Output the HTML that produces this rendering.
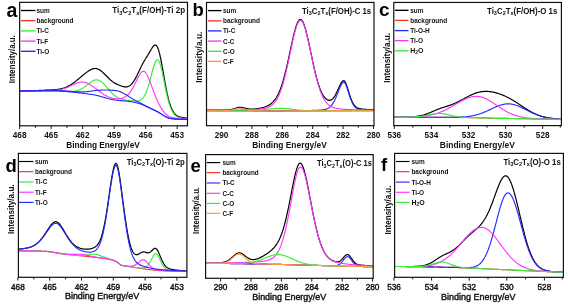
<!DOCTYPE html>
<html><head><meta charset="utf-8"><style>
html,body{margin:0;padding:0;background:#fff;}
svg{display:block;font-family:"Liberation Sans", sans-serif;will-change:transform;}
</style></head><body>
<svg width="568" height="306" viewBox="0 0 568 306">
<rect width="568" height="306" fill="#fff"/>
<defs>
<clipPath id="clipa"><rect x="19.65" y="2.35" width="167.85" height="123.45"/></clipPath>
<clipPath id="clipb"><rect x="206.50" y="2.45" width="167.50" height="123.25"/></clipPath>
<clipPath id="clipc"><rect x="393.75" y="2.45" width="167.65" height="123.15"/></clipPath>
<clipPath id="clipd"><rect x="18.40" y="153.40" width="168.50" height="123.90"/></clipPath>
<clipPath id="clipe"><rect x="205.60" y="154.60" width="167.60" height="123.70"/></clipPath>
<clipPath id="clipf"><rect x="394.60" y="153.40" width="168.80" height="123.90"/></clipPath>
</defs>
<g clip-path="url(#clipa)">
<polyline points="20.2,90.9 20.8,90.9 21.2,90.8 21.8,90.8 22.2,90.8 22.8,90.8 23.2,90.8 23.8,90.8 24.2,90.8 24.8,90.8 25.2,90.8 25.8,90.8 26.2,90.7 26.8,90.7 27.2,90.7 27.8,90.7 28.2,90.7 28.8,90.7 29.2,90.7 29.8,90.7 30.2,90.7 30.8,90.7 31.2,90.6 31.8,90.6 32.2,90.6 32.8,90.6 33.2,90.6 33.8,90.6 34.2,90.6 34.8,90.6 35.2,90.6 35.8,90.5 36.2,90.5 36.8,90.5 37.2,90.5 37.8,90.5 38.2,90.5 38.8,90.5 39.2,90.4 39.8,90.4 40.2,90.4 40.8,90.4 41.2,90.4 41.8,90.4 42.2,90.4 42.8,90.3 43.2,90.3 43.8,90.3 44.2,90.3 44.8,90.3 45.2,90.2 45.8,90.2 46.2,90.2 46.8,90.2 47.2,90.2 47.8,90.1 48.2,90.1 48.8,90.1 49.2,90.1 49.8,90.0 50.2,90.0 50.8,90.0 51.2,89.9 51.8,89.9 52.2,89.9 52.8,89.8 53.2,89.8 53.8,89.8 54.2,89.7 54.8,89.7 55.2,89.6 55.8,89.6 56.2,89.5 56.8,89.5 57.2,89.4 57.8,89.4 58.2,89.3 58.8,89.2 59.2,89.1 59.8,89.0 60.2,88.9 60.8,88.8 61.2,88.7 61.8,88.6 62.2,88.5 62.8,88.3 63.2,88.2 63.8,88.0 64.2,87.9 64.8,87.7 65.2,87.5 65.8,87.3 66.2,87.1 66.8,86.9 67.2,86.7 67.8,86.4 68.2,86.2 68.8,85.9 69.2,85.6 69.8,85.3 70.2,85.1 70.8,84.7 71.2,84.4 71.8,84.1 72.2,83.8 72.8,83.4 73.2,83.1 73.8,82.7 74.2,82.4 74.8,82.0 75.2,81.6 75.8,81.2 76.2,80.8 76.8,80.4 77.2,80.0 77.8,79.6 78.2,79.2 78.8,78.8 79.2,78.4 79.8,77.9 80.2,77.5 80.8,77.1 81.2,76.7 81.8,76.3 82.2,75.8 82.8,75.4 83.2,75.0 83.8,74.6 84.2,74.2 84.8,73.7 85.2,73.3 85.8,72.9 86.2,72.6 86.8,72.2 87.2,71.8 87.8,71.5 88.2,71.1 88.8,70.8 89.2,70.5 89.8,70.2 90.2,69.9 90.8,69.6 91.2,69.4 91.8,69.2 92.2,69.0 92.8,68.8 93.2,68.7 93.8,68.6 94.2,68.5 94.8,68.5 95.2,68.5 95.8,68.5 96.2,68.6 96.8,68.7 97.2,68.8 97.8,69.0 98.2,69.2 98.8,69.5 99.2,69.7 99.8,70.0 100.2,70.4 100.8,70.7 101.2,71.1 101.8,71.5 102.2,71.9 102.8,72.4 103.2,72.8 103.8,73.3 104.2,73.8 104.8,74.3 105.2,74.8 105.8,75.3 106.2,75.8 106.8,76.3 107.2,76.8 107.8,77.3 108.2,77.8 108.8,78.3 109.2,78.8 109.8,79.3 110.2,79.7 110.8,80.2 111.2,80.6 111.8,81.0 112.2,81.4 112.8,81.8 113.2,82.1 113.8,82.5 114.2,82.8 114.8,83.1 115.2,83.4 115.8,83.6 116.2,83.9 116.8,84.1 117.2,84.3 117.8,84.6 118.2,84.8 118.8,85.0 119.2,85.2 119.8,85.4 120.2,85.6 120.8,85.8 121.2,86.0 121.8,86.2 122.2,86.3 122.8,86.5 123.2,86.6 123.8,86.7 124.2,86.8 124.8,86.9 125.2,86.9 125.8,86.9 126.2,86.9 126.8,86.9 127.2,86.8 127.8,86.6 128.2,86.5 128.8,86.2 129.2,86.0 129.8,85.7 130.2,85.3 130.8,84.9 131.2,84.4 131.8,83.9 132.2,83.3 132.8,82.7 133.2,82.0 133.8,81.3 134.2,80.5 134.8,79.7 135.2,78.8 135.8,77.9 136.2,76.9 136.8,76.0 137.2,74.9 137.8,73.9 138.2,72.9 138.8,71.8 139.2,70.7 139.8,69.6 140.2,68.6 140.8,67.5 141.2,66.5 141.8,65.5 142.2,64.5 142.8,63.6 143.2,62.6 143.8,61.8 144.2,60.9 144.8,60.1 145.2,59.3 145.8,58.5 146.2,57.7 146.8,56.9 147.2,56.1 147.8,55.3 148.2,54.4 148.8,53.6 149.2,52.7 149.8,51.9 150.2,51.0 150.8,50.1 151.2,49.3 151.8,48.5 152.2,47.7 152.8,47.0 153.2,46.3 153.8,45.8 154.2,45.4 154.8,45.1 155.2,45.1 155.8,45.1 156.2,45.5 156.8,46.0 157.2,46.8 157.8,47.8 158.2,49.1 158.8,50.6 159.2,52.4 159.8,54.4 160.2,56.6 160.8,58.9 161.2,61.5 161.8,64.1 162.2,66.9 162.8,69.7 163.2,72.6 163.8,75.4 164.2,78.3 164.8,81.1 165.2,83.8 165.8,86.5 166.2,89.1 166.8,91.6 167.2,93.9 167.8,96.1 168.2,98.2 168.8,100.2 169.2,102.0 169.8,103.6 170.2,105.1 170.8,106.5 171.2,107.8 171.8,108.9 172.2,109.9 172.8,110.9 173.2,111.7 173.8,112.5 174.2,113.2 174.8,113.8 175.2,114.3 175.8,114.8 176.2,115.2 176.8,115.5 177.2,115.8 177.8,116.1 178.2,116.3 178.8,116.5 179.2,116.7 179.8,116.9 180.2,117.0 180.8,117.1 181.2,117.3 181.8,117.4 182.2,117.4 182.8,117.5 183.2,117.6 183.8,117.7 184.2,117.7 184.8,117.8 185.2,117.8 185.8,117.9 186.2,117.9 186.8,118.0" fill="none" stroke="#000000" stroke-width="1.20" stroke-linejoin="round"/>
<polyline points="20.2,90.9 20.8,90.9 21.2,90.9 21.8,90.9 22.2,90.9 22.8,90.9 23.2,90.9 23.8,90.9 24.2,90.9 24.8,90.9 25.2,90.9 25.8,90.9 26.2,90.9 26.8,90.8 27.2,90.8 27.8,90.8 28.2,90.8 28.8,90.8 29.2,90.8 29.8,90.8 30.2,90.8 30.8,90.8 31.2,90.8 31.8,90.8 32.2,90.8 32.8,90.8 33.2,90.8 33.8,90.8 34.2,90.8 34.8,90.8 35.2,90.8 35.8,90.8 36.2,90.8 36.8,90.8 37.2,90.8 37.8,90.8 38.2,90.8 38.8,90.8 39.2,90.8 39.8,90.8 40.2,90.8 40.8,90.8 41.2,90.8 41.8,90.8 42.2,90.8 42.8,90.7 43.2,90.7 43.8,90.7 44.2,90.7 44.8,90.7 45.2,90.7 45.8,90.7 46.2,90.7 46.8,90.7 47.2,90.7 47.8,90.7 48.2,90.7 48.8,90.7 49.2,90.7 49.8,90.7 50.2,90.7 50.8,90.7 51.2,90.7 51.8,90.7 52.2,90.8 52.8,90.8 53.2,90.8 53.8,90.8 54.2,90.8 54.8,90.8 55.2,90.8 55.8,90.8 56.2,90.8 56.8,90.9 57.2,90.9 57.8,90.9 58.2,90.9 58.8,90.9 59.2,91.0 59.8,91.0 60.2,91.0 60.8,91.0 61.2,91.1 61.8,91.1 62.2,91.1 62.8,91.1 63.2,91.2 63.8,91.2 64.2,91.2 64.8,91.2 65.2,91.3 65.8,91.3 66.2,91.3 66.8,91.3 67.2,91.3 67.8,91.4 68.2,91.4 68.8,91.4 69.2,91.4 69.8,91.4 70.2,91.4 70.8,91.4 71.2,91.4 71.8,91.4 72.2,91.3 72.8,91.3 73.2,91.3 73.8,91.2 74.2,91.2 74.8,91.1 75.2,91.0 75.8,90.9 76.2,90.8 76.8,90.7 77.2,90.6 77.8,90.4 78.2,90.2 78.8,90.1 79.2,89.9 79.8,89.7 80.2,89.5 80.8,89.2 81.2,89.0 81.8,88.7 82.2,88.4 82.8,88.1 83.2,87.8 83.8,87.4 84.2,87.1 84.8,86.7 85.2,86.4 85.8,86.0 86.2,85.6 86.8,85.2 87.2,84.8 87.8,84.4 88.2,84.0 88.8,83.7 89.2,83.3 89.8,82.9 90.2,82.5 90.8,82.1 91.2,81.8 91.8,81.5 92.2,81.2 92.8,80.9 93.2,80.6 93.8,80.4 94.2,80.2 94.8,80.1 95.2,79.9 95.8,79.9 96.2,79.8 96.8,79.8 97.2,79.9 97.8,80.0 98.2,80.1 98.8,80.2 99.2,80.5 99.8,80.7 100.2,81.0 100.8,81.3 101.2,81.6 101.8,82.0 102.2,82.4 102.8,82.9 103.2,83.4 103.8,83.9 104.2,84.4 104.8,84.9 105.2,85.5 105.8,86.0 106.2,86.6 106.8,87.2 107.2,87.8 107.8,88.4 108.2,89.0 108.8,89.5 109.2,90.1 109.8,90.7 110.2,91.3 110.8,91.8 111.2,92.3 111.8,92.9 112.2,93.4 112.8,93.9 113.2,94.3 113.8,94.8 114.2,95.2 114.8,95.6 115.2,96.0 115.8,96.3 116.2,96.6 116.8,97.0 117.2,97.3 117.8,97.5 118.2,97.8 118.8,98.0 119.2,98.2 119.8,98.5 120.2,98.6 120.8,98.8 121.2,99.0 121.8,99.1 122.2,99.3 122.8,99.4 123.2,99.5 123.8,99.6 124.2,99.7 124.8,99.8 125.2,99.9 125.8,100.0 126.2,100.1 126.8,100.1 127.2,100.2 127.8,100.3 128.2,100.3 128.8,100.4 129.2,100.4 129.8,100.5 130.2,100.6 130.8,100.6 131.2,100.7 131.8,100.7 132.2,100.8 132.8,100.8 133.2,100.9 133.8,100.9 134.2,101.0 134.8,101.0 135.2,101.0 135.8,101.0 136.2,101.0 136.8,101.0 137.2,101.0 137.8,100.9 138.2,100.9 138.8,100.8 139.2,100.6 139.8,100.4 140.2,100.2 140.8,99.9 141.2,99.6 141.8,99.2 142.2,98.8 142.8,98.3 143.2,97.7 143.8,97.0 144.2,96.2 144.8,95.4 145.2,94.4 145.8,93.4 146.2,92.2 146.8,90.9 147.2,89.5 147.8,88.0 148.2,86.4 148.8,84.8 149.2,83.0 149.8,81.2 150.2,79.3 150.8,77.4 151.2,75.4 151.8,73.5 152.2,71.6 152.8,69.8 153.2,68.0 153.8,66.3 154.2,64.8 154.8,63.4 155.2,62.2 155.8,61.2 156.2,60.5 156.8,60.0 157.2,59.8 157.8,59.9 158.2,60.2 158.8,60.9 159.2,61.9 159.8,63.1 160.2,64.6 160.8,66.3 161.2,68.2 161.8,70.3 162.2,72.5 162.8,74.8 163.2,77.3 163.8,79.7 164.2,82.2 164.8,84.7 165.2,87.1 165.8,89.5 166.2,91.9 166.8,94.1 167.2,96.3 167.8,98.3 168.2,100.3 168.8,102.1 169.2,103.7 169.8,105.3 170.2,106.7 170.8,108.0 171.2,109.2 171.8,110.2 172.2,111.2 172.8,112.1 173.2,112.9 173.8,113.6 174.2,114.2 174.8,114.8 175.2,115.3 175.8,115.7 176.2,116.1 176.8,116.4 177.2,116.7 177.8,117.0 178.2,117.2 178.8,117.3 179.2,117.5 179.8,117.6 180.2,117.8 180.8,117.9 181.2,118.0 181.8,118.0 182.2,118.1 182.8,118.2 183.2,118.2 183.8,118.3 184.2,118.3 184.8,118.4 185.2,118.4 185.8,118.4 186.2,118.5 186.8,118.5" fill="none" stroke="#33ee33" stroke-width="1.15" stroke-linejoin="round"/>
<polyline points="20.2,90.9 20.8,90.9 21.2,90.9 21.8,90.9 22.2,90.9 22.8,90.9 23.2,90.9 23.8,90.9 24.2,90.8 24.8,90.8 25.2,90.8 25.8,90.8 26.2,90.8 26.8,90.8 27.2,90.8 27.8,90.8 28.2,90.8 28.8,90.8 29.2,90.8 29.8,90.8 30.2,90.8 30.8,90.8 31.2,90.8 31.8,90.8 32.2,90.8 32.8,90.8 33.2,90.7 33.8,90.7 34.2,90.7 34.8,90.7 35.2,90.7 35.8,90.7 36.2,90.7 36.8,90.7 37.2,90.7 37.8,90.7 38.2,90.7 38.8,90.7 39.2,90.7 39.8,90.7 40.2,90.7 40.8,90.7 41.2,90.7 41.8,90.7 42.2,90.7 42.8,90.7 43.2,90.7 43.8,90.7 44.2,90.7 44.8,90.7 45.2,90.7 45.8,90.6 46.2,90.6 46.8,90.6 47.2,90.6 47.8,90.6 48.2,90.6 48.8,90.6 49.2,90.6 49.8,90.5 50.2,90.5 50.8,90.5 51.2,90.5 51.8,90.5 52.2,90.4 52.8,90.4 53.2,90.4 53.8,90.3 54.2,90.3 54.8,90.3 55.2,90.2 55.8,90.2 56.2,90.1 56.8,90.1 57.2,90.0 57.8,90.0 58.2,89.9 58.8,89.8 59.2,89.7 59.8,89.6 60.2,89.5 60.8,89.4 61.2,89.3 61.8,89.2 62.2,89.1 62.8,89.0 63.2,88.8 63.8,88.7 64.2,88.5 64.8,88.3 65.2,88.2 65.8,88.0 66.2,87.8 66.8,87.6 67.2,87.4 67.8,87.2 68.2,87.0 68.8,86.7 69.2,86.5 69.8,86.3 70.2,86.0 70.8,85.8 71.2,85.6 71.8,85.3 72.2,85.1 72.8,84.8 73.2,84.6 73.8,84.4 74.2,84.1 74.8,83.9 75.2,83.7 75.8,83.5 76.2,83.3 76.8,83.1 77.2,82.9 77.8,82.7 78.2,82.6 78.8,82.5 79.2,82.3 79.8,82.2 80.2,82.2 80.8,82.1 81.2,82.1 81.8,82.0 82.2,82.0 82.8,82.0 83.2,82.1 83.8,82.1 84.2,82.2 84.8,82.3 85.2,82.4 85.8,82.6 86.2,82.8 86.8,82.9 87.2,83.1 87.8,83.4 88.2,83.6 88.8,83.8 89.2,84.1 89.8,84.4 90.2,84.7 90.8,85.0 91.2,85.3 91.8,85.6 92.2,85.9 92.8,86.3 93.2,86.6 93.8,87.0 94.2,87.4 94.8,87.8 95.2,88.2 95.8,88.5 96.2,88.9 96.8,89.3 97.2,89.7 97.8,90.1 98.2,90.5 98.8,90.9 99.2,91.3 99.8,91.7 100.2,92.0 100.8,92.4 101.2,92.8 101.8,93.1 102.2,93.4 102.8,93.8 103.2,94.1 103.8,94.4 104.2,94.7 104.8,95.0 105.2,95.3 105.8,95.6 106.2,95.8 106.8,96.1 107.2,96.3 107.8,96.6 108.2,96.8 108.8,97.0 109.2,97.2 109.8,97.4 110.2,97.5 110.8,97.7 111.2,97.9 111.8,98.0 112.2,98.1 112.8,98.2 113.2,98.3 113.8,98.4 114.2,98.5 114.8,98.6 115.2,98.6 115.8,98.7 116.2,98.7 116.8,98.7 117.2,98.7 117.8,98.7 118.2,98.7 118.8,98.7 119.2,98.7 119.8,98.6 120.2,98.5 120.8,98.4 121.2,98.3 121.8,98.2 122.2,98.1 122.8,97.9 123.2,97.7 123.8,97.5 124.2,97.3 124.8,97.0 125.2,96.8 125.8,96.4 126.2,96.1 126.8,95.7 127.2,95.3 127.8,94.8 128.2,94.3 128.8,93.8 129.2,93.2 129.8,92.6 130.2,91.9 130.8,91.2 131.2,90.4 131.8,89.7 132.2,88.8 132.8,88.0 133.2,87.1 133.8,86.1 134.2,85.2 134.8,84.2 135.2,83.2 135.8,82.2 136.2,81.1 136.8,80.1 137.2,79.1 137.8,78.1 138.2,77.1 138.8,76.2 139.2,75.3 139.8,74.5 140.2,73.7 140.8,73.0 141.2,72.4 141.8,72.0 142.2,71.6 142.8,71.4 143.2,71.3 143.8,71.3 144.2,71.5 144.8,71.8 145.2,72.2 145.8,72.8 146.2,73.5 146.8,74.3 147.2,75.2 147.8,76.2 148.2,77.3 148.8,78.5 149.2,79.7 149.8,81.0 150.2,82.3 150.8,83.6 151.2,85.0 151.8,86.4 152.2,87.8 152.8,89.2 153.2,90.6 153.8,91.9 154.2,93.2 154.8,94.6 155.2,95.8 155.8,97.1 156.2,98.3 156.8,99.4 157.2,100.5 157.8,101.6 158.2,102.6 158.8,103.6 159.2,104.6 159.8,105.5 160.2,106.4 160.8,107.3 161.2,108.1 161.8,108.9 162.2,109.7 162.8,110.4 163.2,111.1 163.8,111.8 164.2,112.4 164.8,113.0 165.2,113.5 165.8,114.0 166.2,114.5 166.8,114.9 167.2,115.3 167.8,115.7 168.2,116.0 168.8,116.3 169.2,116.5 169.8,116.7 170.2,116.9 170.8,117.1 171.2,117.2 171.8,117.4 172.2,117.5 172.8,117.6 173.2,117.7 173.8,117.8 174.2,117.9 174.8,118.0 175.2,118.1 175.8,118.1 176.2,118.2 176.8,118.3 177.2,118.3 177.8,118.4 178.2,118.4 178.8,118.4 179.2,118.5 179.8,118.5 180.2,118.5 180.8,118.5 181.2,118.6 181.8,118.6 182.2,118.6 182.8,118.6 183.2,118.6 183.8,118.7 184.2,118.7 184.8,118.7 185.2,118.7 185.8,118.7 186.2,118.8 186.8,118.8" fill="none" stroke="#ff33ff" stroke-width="1.15" stroke-linejoin="round"/>
<polyline points="20.2,91.0 20.8,91.0 21.2,91.0 21.8,90.9 22.2,90.9 22.8,90.9 23.2,90.9 23.8,90.9 24.2,90.9 24.8,90.9 25.2,90.9 25.8,90.9 26.2,90.9 26.8,90.9 27.2,90.8 27.8,90.8 28.2,90.8 28.8,90.8 29.2,90.8 29.8,90.8 30.2,90.8 30.8,90.8 31.2,90.8 31.8,90.8 32.2,90.8 32.8,90.7 33.2,90.7 33.8,90.7 34.2,90.7 34.8,90.7 35.2,90.7 35.8,90.7 36.2,90.7 36.8,90.7 37.2,90.6 37.8,90.6 38.2,90.6 38.8,90.6 39.2,90.6 39.8,90.6 40.2,90.6 40.8,90.6 41.2,90.5 41.8,90.5 42.2,90.5 42.8,90.5 43.2,90.5 43.8,90.5 44.2,90.5 44.8,90.5 45.2,90.4 45.8,90.4 46.2,90.4 46.8,90.4 47.2,90.4 47.8,90.4 48.2,90.4 48.8,90.4 49.2,90.4 49.8,90.4 50.2,90.3 50.8,90.3 51.2,90.3 51.8,90.3 52.2,90.3 52.8,90.3 53.2,90.3 53.8,90.3 54.2,90.3 54.8,90.4 55.2,90.4 55.8,90.4 56.2,90.4 56.8,90.4 57.2,90.4 57.8,90.5 58.2,90.5 58.8,90.5 59.2,90.5 59.8,90.6 60.2,90.6 60.8,90.6 61.2,90.6 61.8,90.7 62.2,90.7 62.8,90.7 63.2,90.8 63.8,90.8 64.2,90.9 64.8,90.9 65.2,90.9 65.8,91.0 66.2,91.0 66.8,91.1 67.2,91.1 67.8,91.1 68.2,91.2 68.8,91.2 69.2,91.3 69.8,91.3 70.2,91.3 70.8,91.4 71.2,91.4 71.8,91.5 72.2,91.5 72.8,91.5 73.2,91.6 73.8,91.6 74.2,91.6 74.8,91.7 75.2,91.7 75.8,91.7 76.2,91.7 76.8,91.8 77.2,91.8 77.8,91.8 78.2,91.8 78.8,91.8 79.2,91.8 79.8,91.8 80.2,91.9 80.8,91.9 81.2,91.9 81.8,91.8 82.2,91.8 82.8,91.8 83.2,91.8 83.8,91.8 84.2,91.8 84.8,91.8 85.2,91.7 85.8,91.7 86.2,91.7 86.8,91.6 87.2,91.6 87.8,91.5 88.2,91.5 88.8,91.4 89.2,91.4 89.8,91.3 90.2,91.2 90.8,91.2 91.2,91.1 91.8,91.0 92.2,91.0 92.8,90.9 93.2,90.8 93.8,90.7 94.2,90.7 94.8,90.6 95.2,90.6 95.8,90.5 96.2,90.5 96.8,90.4 97.2,90.4 97.8,90.3 98.2,90.3 98.8,90.2 99.2,90.2 99.8,90.2 100.2,90.1 100.8,90.1 101.2,90.1 101.8,90.1 102.2,90.0 102.8,90.0 103.2,90.0 103.8,90.0 104.2,90.0 104.8,90.0 105.2,90.0 105.8,90.0 106.2,90.0 106.8,90.0 107.2,90.0 107.8,90.0 108.2,90.0 108.8,90.0 109.2,90.1 109.8,90.1 110.2,90.1 110.8,90.1 111.2,90.2 111.8,90.2 112.2,90.3 112.8,90.3 113.2,90.3 113.8,90.4 114.2,90.4 114.8,90.5 115.2,90.5 115.8,90.6 116.2,90.7 116.8,90.7 117.2,90.8 117.8,90.9 118.2,91.1 118.8,91.2 119.2,91.4 119.8,91.5 120.2,91.7 120.8,91.9 121.2,92.2 121.8,92.4 122.2,92.6 122.8,92.9 123.2,93.1 123.8,93.4 124.2,93.7 124.8,94.0 125.2,94.3 125.8,94.6 126.2,94.9 126.8,95.2 127.2,95.5 127.8,95.8 128.2,96.1 128.8,96.5 129.2,96.8 129.8,97.1 130.2,97.4 130.8,97.7 131.2,98.0 131.8,98.3 132.2,98.7 132.8,99.0 133.2,99.3 133.8,99.6 134.2,99.9 134.8,100.1 135.2,100.4 135.8,100.7 136.2,101.0 136.8,101.3 137.2,101.5 137.8,101.8 138.2,102.0 138.8,102.3 139.2,102.5 139.8,102.8 140.2,103.0 140.8,103.3 141.2,103.5 141.8,103.8 142.2,104.0 142.8,104.3 143.2,104.6 143.8,104.8 144.2,105.1 144.8,105.4 145.2,105.6 145.8,105.9 146.2,106.2 146.8,106.4 147.2,106.7 147.8,106.9 148.2,107.2 148.8,107.4 149.2,107.7 149.8,107.9 150.2,108.2 150.8,108.4 151.2,108.6 151.8,108.9 152.2,109.1 152.8,109.4 153.2,109.6 153.8,109.9 154.2,110.1 154.8,110.4 155.2,110.6 155.8,110.9 156.2,111.1 156.8,111.4 157.2,111.6 157.8,111.9 158.2,112.1 158.8,112.4 159.2,112.7 159.8,113.0 160.2,113.3 160.8,113.6 161.2,113.9 161.8,114.2 162.2,114.6 162.8,114.9 163.2,115.2 163.8,115.6 164.2,115.9 164.8,116.2 165.2,116.5 165.8,116.8 166.2,117.0 166.8,117.3 167.2,117.5 167.8,117.7 168.2,117.9 168.8,118.1 169.2,118.2 169.8,118.4 170.2,118.4 170.8,118.5 171.2,118.6 171.8,118.7 172.2,118.7 172.8,118.8 173.2,118.9 173.8,118.9 174.2,119.0 174.8,119.0 175.2,119.1 175.8,119.1 176.2,119.1 176.8,119.2 177.2,119.2 177.8,119.2 178.2,119.2 178.8,119.2 179.2,119.2 179.8,119.2 180.2,119.2 180.8,119.2 181.2,119.3 181.8,119.3 182.2,119.3 182.8,119.3 183.2,119.3 183.8,119.3 184.2,119.3 184.8,119.3 185.2,119.3 185.8,119.3 186.2,119.3 186.8,119.3" fill="none" stroke="#2a2aff" stroke-width="1.15" stroke-linejoin="round"/>
<polyline points="20.2,91.0 20.8,91.0 21.2,91.0 21.8,91.0 22.2,90.9 22.8,90.9 23.2,90.9 23.8,90.9 24.2,90.9 24.8,90.9 25.2,90.9 25.8,90.9 26.2,90.9 26.8,90.9 27.2,90.9 27.8,90.9 28.2,90.9 28.8,90.9 29.2,90.9 29.8,90.9 30.2,90.9 30.8,90.8 31.2,90.8 31.8,90.8 32.2,90.8 32.8,90.8 33.2,90.8 33.8,90.8 34.2,90.8 34.8,90.8 35.2,90.8 35.8,90.8 36.2,90.8 36.8,90.8 37.2,90.8 37.8,90.8 38.2,90.8 38.8,90.8 39.2,90.8 39.8,90.8 40.2,90.8 40.8,90.8 41.2,90.8 41.8,90.8 42.2,90.8 42.8,90.8 43.2,90.8 43.8,90.8 44.2,90.8 44.8,90.8 45.2,90.8 45.8,90.8 46.2,90.8 46.8,90.8 47.2,90.8 47.8,90.8 48.2,90.8 48.8,90.8 49.2,90.8 49.8,90.8 50.2,90.8 50.8,90.8 51.2,90.8 51.8,90.8 52.2,90.8 52.8,90.8 53.2,90.8 53.8,90.8 54.2,90.9 54.8,90.9 55.2,90.9 55.8,90.9 56.2,90.9 56.8,90.9 57.2,91.0 57.8,91.0 58.2,91.0 58.8,91.0 59.2,91.0 59.8,91.1 60.2,91.1 60.8,91.1 61.2,91.2 61.8,91.2 62.2,91.2 62.8,91.3 63.2,91.3 63.8,91.3 64.2,91.4 64.8,91.4 65.2,91.4 65.8,91.5 66.2,91.5 66.8,91.6 67.2,91.6 67.8,91.6 68.2,91.7 68.8,91.7 69.2,91.8 69.8,91.8 70.2,91.9 70.8,91.9 71.2,92.0 71.8,92.0 72.2,92.1 72.8,92.1 73.2,92.2 73.8,92.2 74.2,92.3 74.8,92.3 75.2,92.4 75.8,92.4 76.2,92.5 76.8,92.6 77.2,92.6 77.8,92.7 78.2,92.7 78.8,92.8 79.2,92.9 79.8,92.9 80.2,93.0 80.8,93.0 81.2,93.1 81.8,93.2 82.2,93.2 82.8,93.3 83.2,93.3 83.8,93.4 84.2,93.5 84.8,93.5 85.2,93.6 85.8,93.7 86.2,93.7 86.8,93.8 87.2,93.9 87.8,93.9 88.2,94.0 88.8,94.1 89.2,94.1 89.8,94.2 90.2,94.3 90.8,94.3 91.2,94.4 91.8,94.5 92.2,94.5 92.8,94.6 93.2,94.7 93.8,94.8 94.2,94.9 94.8,95.0 95.2,95.1 95.8,95.2 96.2,95.3 96.8,95.4 97.2,95.5 97.8,95.6 98.2,95.8 98.8,95.9 99.2,96.0 99.8,96.2 100.2,96.3 100.8,96.5 101.2,96.6 101.8,96.7 102.2,96.9 102.8,97.0 103.2,97.2 103.8,97.3 104.2,97.5 104.8,97.6 105.2,97.8 105.8,97.9 106.2,98.0 106.8,98.2 107.2,98.3 107.8,98.5 108.2,98.6 108.8,98.7 109.2,98.8 109.8,99.0 110.2,99.1 110.8,99.2 111.2,99.3 111.8,99.4 112.2,99.5 112.8,99.6 113.2,99.7 113.8,99.8 114.2,99.9 114.8,100.0 115.2,100.0 115.8,100.1 116.2,100.2 116.8,100.2 117.2,100.3 117.8,100.3 118.2,100.4 118.8,100.4 119.2,100.5 119.8,100.5 120.2,100.6 120.8,100.6 121.2,100.6 121.8,100.7 122.2,100.7 122.8,100.8 123.2,100.8 123.8,100.8 124.2,100.9 124.8,100.9 125.2,101.0 125.8,101.0 126.2,101.1 126.8,101.1 127.2,101.2 127.8,101.2 128.2,101.3 128.8,101.3 129.2,101.4 129.8,101.5 130.2,101.5 130.8,101.6 131.2,101.7 131.8,101.8 132.2,101.9 132.8,102.0 133.2,102.1 133.8,102.2 134.2,102.3 134.8,102.4 135.2,102.5 135.8,102.6 136.2,102.8 136.8,102.9 137.2,103.0 137.8,103.2 138.2,103.3 138.8,103.4 139.2,103.6 139.8,103.7 140.2,103.9 140.8,104.0 141.2,104.2 141.8,104.4 142.2,104.6 142.8,104.8 143.2,105.0 143.8,105.2 144.2,105.5 144.8,105.7 145.2,105.9 145.8,106.2 146.2,106.4 146.8,106.6 147.2,106.9 147.8,107.1 148.2,107.3 148.8,107.5 149.2,107.8 149.8,108.0 150.2,108.2 150.8,108.5 151.2,108.7 151.8,108.9 152.2,109.2 152.8,109.4 153.2,109.7 153.8,109.9 154.2,110.1 154.8,110.4 155.2,110.6 155.8,110.9 156.2,111.1 156.8,111.4 157.2,111.6 157.8,111.9 158.2,112.1 158.8,112.4 159.2,112.7 159.8,113.0 160.2,113.3 160.8,113.6 161.2,113.9 161.8,114.2 162.2,114.6 162.8,114.9 163.2,115.2 163.8,115.6 164.2,115.9 164.8,116.2 165.2,116.5 165.8,116.8 166.2,117.0 166.8,117.3 167.2,117.5 167.8,117.7 168.2,117.9 168.8,118.1 169.2,118.2 169.8,118.4 170.2,118.4 170.8,118.5 171.2,118.6 171.8,118.7 172.2,118.7 172.8,118.8 173.2,118.9 173.8,118.9 174.2,119.0 174.8,119.0 175.2,119.1 175.8,119.1 176.2,119.1 176.8,119.2 177.2,119.2 177.8,119.2 178.2,119.2 178.8,119.2 179.2,119.2 179.8,119.2 180.2,119.2 180.8,119.2 181.2,119.3 181.8,119.3 182.2,119.3 182.8,119.3 183.2,119.3 183.8,119.3 184.2,119.3 184.8,119.3 185.2,119.3 185.8,119.3 186.2,119.3 186.8,119.3" fill="none" stroke="#2a2aff" stroke-width="1.15" stroke-linejoin="round"/>
</g>
<rect x="19.65" y="2.35" width="167.85" height="123.45" fill="none" stroke="#111" stroke-width="1.2"/>
<line x1="19.65" y1="125.80" x2="19.65" y2="129.10" stroke="#1a1a1a" stroke-width="1"/>
<text x="19.65" y="138.00" font-size="8.20" font-weight="bold" text-anchor="middle" fill="#111" >468</text>
<line x1="51.15" y1="125.80" x2="51.15" y2="129.10" stroke="#1a1a1a" stroke-width="1"/>
<text x="51.15" y="138.00" font-size="8.20" font-weight="bold" text-anchor="middle" fill="#111" >465</text>
<line x1="82.65" y1="125.80" x2="82.65" y2="129.10" stroke="#1a1a1a" stroke-width="1"/>
<text x="82.65" y="138.00" font-size="8.20" font-weight="bold" text-anchor="middle" fill="#111" >462</text>
<line x1="114.15" y1="125.80" x2="114.15" y2="129.10" stroke="#1a1a1a" stroke-width="1"/>
<text x="114.15" y="138.00" font-size="8.20" font-weight="bold" text-anchor="middle" fill="#111" >459</text>
<line x1="145.65" y1="125.80" x2="145.65" y2="129.10" stroke="#1a1a1a" stroke-width="1"/>
<text x="145.65" y="138.00" font-size="8.20" font-weight="bold" text-anchor="middle" fill="#111" >456</text>
<line x1="177.15" y1="125.80" x2="177.15" y2="129.10" stroke="#1a1a1a" stroke-width="1"/>
<text x="177.15" y="138.00" font-size="8.20" font-weight="bold" text-anchor="middle" fill="#111" >453</text>
<line x1="35.40" y1="125.80" x2="35.40" y2="127.90" stroke="#1a1a1a" stroke-width="1"/>
<line x1="66.90" y1="125.80" x2="66.90" y2="127.90" stroke="#1a1a1a" stroke-width="1"/>
<line x1="98.40" y1="125.80" x2="98.40" y2="127.90" stroke="#1a1a1a" stroke-width="1"/>
<line x1="129.90" y1="125.80" x2="129.90" y2="127.90" stroke="#1a1a1a" stroke-width="1"/>
<line x1="161.40" y1="125.80" x2="161.40" y2="127.90" stroke="#1a1a1a" stroke-width="1"/>
<text x="6.50" y="16.50" font-size="19.50" font-weight="bold" text-anchor="start" fill="#000" >a</text>
<line x1="21.00" y1="10.50" x2="35.50" y2="10.50" stroke="#000000" stroke-width="1.35"/>
<text x="36.50" y="12.90" font-size="7.30" font-weight="bold" text-anchor="start" fill="#111" textLength="13.21" lengthAdjust="spacingAndGlyphs" >sum</text>
<line x1="21.00" y1="20.70" x2="35.50" y2="20.70" stroke="#ff3030" stroke-width="1.35"/>
<text x="36.50" y="23.10" font-size="7.30" font-weight="bold" text-anchor="start" fill="#111" textLength="37.00" lengthAdjust="spacingAndGlyphs" >background</text>
<line x1="21.00" y1="30.90" x2="35.50" y2="30.90" stroke="#33ee33" stroke-width="1.35"/>
<text x="36.50" y="33.30" font-size="7.30" font-weight="bold" text-anchor="start" fill="#111" textLength="12.37" lengthAdjust="spacingAndGlyphs" >Ti-C</text>
<line x1="21.00" y1="41.10" x2="35.50" y2="41.10" stroke="#ff33ff" stroke-width="1.35"/>
<text x="36.50" y="43.50" font-size="7.30" font-weight="bold" text-anchor="start" fill="#111" textLength="11.65" lengthAdjust="spacingAndGlyphs" >Ti-F</text>
<line x1="21.00" y1="51.30" x2="35.50" y2="51.30" stroke="#2a2aff" stroke-width="1.35"/>
<text x="36.50" y="53.70" font-size="7.30" font-weight="bold" text-anchor="start" fill="#111" textLength="12.73" lengthAdjust="spacingAndGlyphs" >Ti-O</text>
<text x="112.20" y="13.40" font-size="8.30" font-weight="bold" fill="#111" textLength="73.00" lengthAdjust="spacingAndGlyphs">Ti<tspan font-size="70%" dy="1.2">3</tspan><tspan dy="-1.2">C</tspan><tspan font-size="70%" dy="1.2">2</tspan><tspan dy="-1.2">T</tspan><tspan font-size="70%" dy="1.2">x</tspan><tspan dy="-1.2">(F/OH)-Ti 2p</tspan></text>
<text x="0" y="0" font-size="8.20" font-weight="bold" fill="#111" text-anchor="middle" textLength="48.00" lengthAdjust="spacingAndGlyphs" transform="translate(15.30,59.30) rotate(-90)">Intensity/a.u.</text>
<text x="103.00" y="148.00" font-size="8.90" font-weight="bold" text-anchor="middle" fill="#111" textLength="73.60" lengthAdjust="spacingAndGlyphs" >Binding Energy/eV</text>
<g clip-path="url(#clipb)">
<polyline points="207.1,110.2 207.6,110.2 208.1,110.2 208.6,110.2 209.1,110.2 209.6,110.2 210.1,110.2 210.6,110.2 211.1,110.2 211.6,110.2 212.1,110.2 212.6,110.2 213.1,110.2 213.6,110.2 214.1,110.2 214.6,110.2 215.1,110.2 215.6,110.2 216.1,110.2 216.6,110.2 217.1,110.2 217.6,110.2 218.1,110.2 218.6,110.2 219.1,110.2 219.6,110.2 220.1,110.2 220.6,110.2 221.1,110.2 221.6,110.2 222.1,110.2 222.6,110.2 223.1,110.2 223.6,110.1 224.1,110.1 224.6,110.1 225.1,110.1 225.6,110.1 226.1,110.1 226.6,110.0 227.1,110.0 227.6,110.0 228.1,109.9 228.6,109.9 229.1,109.8 229.6,109.8 230.1,109.7 230.6,109.6 231.1,109.5 231.6,109.4 232.1,109.3 232.6,109.1 233.1,109.0 233.6,108.9 234.1,108.7 234.6,108.5 235.1,108.4 235.6,108.2 236.1,108.1 236.6,107.9 237.1,107.8 237.6,107.6 238.1,107.5 238.6,107.4 239.1,107.4 239.6,107.3 240.1,107.3 240.6,107.3 241.1,107.3 241.6,107.4 242.1,107.5 242.6,107.5 243.1,107.6 243.6,107.8 244.1,107.9 244.6,108.0 245.1,108.2 245.6,108.3 246.1,108.4 246.6,108.5 247.1,108.6 247.6,108.8 248.1,108.8 248.6,108.9 249.1,109.0 249.6,109.0 250.1,109.1 250.6,109.1 251.1,109.1 251.6,109.1 252.1,109.1 252.6,109.1 253.1,109.1 253.6,109.1 254.1,109.0 254.6,109.0 255.1,108.9 255.6,108.9 256.1,108.8 256.6,108.8 257.1,108.7 257.6,108.6 258.1,108.6 258.6,108.5 259.1,108.4 259.6,108.3 260.1,108.2 260.6,108.1 261.1,108.0 261.6,107.9 262.1,107.8 262.6,107.6 263.1,107.5 263.6,107.4 264.1,107.2 264.6,107.0 265.1,106.9 265.6,106.7 266.1,106.5 266.6,106.3 267.1,106.1 267.6,105.8 268.1,105.6 268.6,105.3 269.1,105.0 269.6,104.7 270.1,104.4 270.6,104.1 271.1,103.7 271.6,103.3 272.1,102.8 272.6,102.4 273.1,101.9 273.6,101.3 274.1,100.7 274.6,100.1 275.1,99.5 275.6,98.7 276.1,98.0 276.6,97.2 277.1,96.3 277.6,95.4 278.1,94.4 278.6,93.3 279.1,92.2 279.6,91.0 280.1,89.8 280.6,88.5 281.1,87.1 281.6,85.6 282.1,84.1 282.6,82.5 283.1,80.8 283.6,79.1 284.1,77.3 284.6,75.4 285.1,73.4 285.6,71.4 286.1,69.4 286.6,67.2 287.1,65.1 287.6,62.9 288.1,60.6 288.6,58.3 289.1,56.0 289.6,53.7 290.1,51.3 290.6,49.0 291.1,46.7 291.6,44.4 292.1,42.1 292.6,39.9 293.1,37.7 293.6,35.6 294.1,33.5 294.6,31.6 295.1,29.7 295.6,28.0 296.1,26.4 296.6,24.9 297.1,23.6 297.6,22.5 298.1,21.5 298.6,20.7 299.1,20.1 299.6,19.7 300.1,19.5 300.6,19.5 301.1,19.6 301.6,20.0 302.1,20.6 302.6,21.3 303.1,22.3 303.6,23.4 304.1,24.7 304.6,26.2 305.1,27.7 305.6,29.5 306.1,31.3 306.6,33.3 307.1,35.3 307.6,37.5 308.1,39.7 308.6,42.0 309.1,44.3 309.6,46.6 310.1,49.0 310.6,51.4 311.1,53.8 311.6,56.2 312.1,58.5 312.6,60.9 313.1,63.2 313.6,65.5 314.1,67.7 314.6,69.8 315.1,72.0 315.6,74.0 316.1,76.0 316.6,77.9 317.1,79.7 317.6,81.5 318.1,83.1 318.6,84.7 319.1,86.2 319.6,87.6 320.1,89.0 320.6,90.2 321.1,91.4 321.6,92.5 322.1,93.5 322.6,94.4 323.1,95.3 323.6,96.0 324.1,96.7 324.6,97.4 325.1,98.0 325.6,98.5 326.1,98.9 326.6,99.3 327.1,99.6 327.6,99.9 328.1,100.1 328.6,100.2 329.1,100.3 329.6,100.3 330.1,100.2 330.6,100.1 331.1,99.9 331.6,99.6 332.1,99.3 332.6,98.8 333.1,98.3 333.6,97.7 334.1,97.1 334.6,96.3 335.1,95.5 335.6,94.6 336.1,93.6 336.6,92.6 337.1,91.6 337.6,90.4 338.1,89.3 338.6,88.2 339.1,87.0 339.6,85.9 340.1,84.9 340.6,83.9 341.1,83.0 341.6,82.2 342.1,81.6 342.6,81.1 343.1,80.8 343.6,80.7 344.1,80.8 344.6,81.2 345.1,81.8 345.6,82.8 346.1,83.9 346.6,85.2 347.1,86.7 347.6,88.3 348.1,89.9 348.6,91.5 349.1,93.1 349.6,94.7 350.1,96.2 350.6,97.7 351.1,99.0 351.6,100.3 352.1,101.4 352.6,102.5 353.1,103.4 353.6,104.2 354.1,105.0 354.6,105.6 355.1,106.2 355.6,106.6 356.1,107.1 356.6,107.4 357.1,107.7 357.6,108.0 358.1,108.2 358.6,108.3 359.1,108.5 359.6,108.6 360.1,108.7 360.6,108.8 361.1,108.9 361.6,109.0 362.1,109.1 362.6,109.1 363.1,109.2 363.6,109.2 364.1,109.3 364.6,109.3 365.1,109.3 365.6,109.4 366.1,109.4 366.6,109.4 367.1,109.5 367.6,109.5 368.1,109.5 368.6,109.5 369.1,109.6 369.6,109.6 370.1,109.6 370.6,109.6 371.1,109.6 371.6,109.7 372.1,109.7 372.6,109.7 373.1,109.7 373.6,109.7" fill="none" stroke="#000000" stroke-width="1.20" stroke-linejoin="round"/>
<polyline points="207.1,110.6 207.6,110.6 208.1,110.6 208.6,110.6 209.1,110.6 209.6,110.6 210.1,110.6 210.6,110.6 211.1,110.6 211.6,110.6 212.1,110.6 212.6,110.6 213.1,110.6 213.6,110.6 214.1,110.6 214.6,110.6 215.1,110.6 215.6,110.7 216.1,110.7 216.6,110.7 217.1,110.7 217.6,110.7 218.1,110.7 218.6,110.7 219.1,110.7 219.6,110.7 220.1,110.7 220.6,110.7 221.1,110.7 221.6,110.7 222.1,110.7 222.6,110.7 223.1,110.7 223.6,110.7 224.1,110.7 224.6,110.7 225.1,110.7 225.6,110.7 226.1,110.7 226.6,110.7 227.1,110.7 227.6,110.7 228.1,110.7 228.6,110.7 229.1,110.7 229.6,110.7 230.1,110.7 230.6,110.7 231.1,110.7 231.6,110.7 232.1,110.7 232.6,110.7 233.1,110.7 233.6,110.7 234.1,110.7 234.6,110.7 235.1,110.7 235.6,110.7 236.1,110.8 236.6,110.8 237.1,110.8 237.6,110.8 238.1,110.8 238.6,110.8 239.1,110.8 239.6,110.8 240.1,110.8 240.6,110.8 241.1,110.8 241.6,110.8 242.1,110.8 242.6,110.8 243.1,110.8 243.6,110.8 244.1,110.8 244.6,110.8 245.1,110.8 245.6,110.8 246.1,110.8 246.6,110.8 247.1,110.8 247.6,110.8 248.1,110.8 248.6,110.8 249.1,110.8 249.6,110.8 250.1,110.8 250.6,110.8 251.1,110.8 251.6,110.8 252.1,110.8 252.6,110.8 253.1,110.8 253.6,110.8 254.1,110.8 254.6,110.8 255.1,110.8 255.6,110.8 256.1,110.8 256.6,110.8 257.1,110.8 257.6,110.8 258.1,110.8 258.6,110.8 259.1,110.8 259.6,110.8 260.1,110.8 260.6,110.8 261.1,110.8 261.6,110.8 262.1,110.8 262.6,110.8 263.1,110.8 263.6,110.8 264.1,110.8 264.6,110.8 265.1,110.8 265.6,110.8 266.1,110.8 266.6,110.8 267.1,110.8 267.6,110.8 268.1,110.9 268.6,110.9 269.1,110.9 269.6,110.9 270.1,110.9 270.6,110.9 271.1,110.9 271.6,110.9 272.1,110.9 272.6,110.9 273.1,110.9 273.6,110.9 274.1,110.9 274.6,110.9 275.1,110.9 275.6,110.9 276.1,110.9 276.6,110.9 277.1,110.9 277.6,110.9 278.1,110.9 278.6,110.9 279.1,110.9 279.6,110.9 280.1,110.9 280.6,110.9 281.1,110.9 281.6,110.9 282.1,110.9 282.6,110.9 283.1,110.9 283.6,110.9 284.1,110.9 284.6,110.9 285.1,110.9 285.6,110.9 286.1,110.9 286.6,110.9 287.1,110.9 287.6,110.9 288.1,110.9 288.6,110.9 289.1,110.9 289.6,110.9 290.1,110.9 290.6,110.9 291.1,110.9 291.6,110.9 292.1,110.9 292.6,110.9 293.1,110.9 293.6,110.9 294.1,110.9 294.6,110.9 295.1,110.9 295.6,110.9 296.1,110.9 296.6,110.9 297.1,110.9 297.6,110.9 298.1,110.9 298.6,110.9 299.1,110.9 299.6,110.9 300.1,110.9 300.6,110.9 301.1,110.9 301.6,110.9 302.1,110.9 302.6,110.9 303.1,110.9 303.6,110.9 304.1,110.9 304.6,110.9 305.1,110.9 305.6,110.9 306.1,110.9 306.6,110.9 307.1,110.9 307.6,110.9 308.1,110.9 308.6,110.9 309.1,110.9 309.6,110.9 310.1,110.9 310.6,110.9 311.1,110.9 311.6,110.9 312.1,110.9 312.6,110.9 313.1,110.9 313.6,110.9 314.1,110.9 314.6,110.9 315.1,110.9 315.6,110.9 316.1,110.9 316.6,110.9 317.1,110.9 317.6,110.9 318.1,110.9 318.6,110.9 319.1,110.9 319.6,110.9 320.1,110.9 320.6,110.9 321.1,110.9 321.6,110.9 322.1,110.9 322.6,110.9 323.1,110.9 323.6,110.9 324.1,110.9 324.6,110.9 325.1,110.9 325.6,110.9 326.1,110.9 326.6,110.9 327.1,110.9 327.6,110.9 328.1,110.9 328.6,110.9 329.1,110.9 329.6,110.8 330.1,110.8 330.6,110.8 331.1,110.8 331.6,110.8 332.1,110.8 332.6,110.8 333.1,110.8 333.6,110.8 334.1,110.8 334.6,110.8 335.1,110.8 335.6,110.8 336.1,110.8 336.6,110.8 337.1,110.8 337.6,110.8 338.1,110.8 338.6,110.8 339.1,110.8 339.6,110.8 340.1,110.8 340.6,110.8 341.1,110.8 341.6,110.8 342.1,110.8 342.6,110.8 343.1,110.8 343.6,110.8 344.1,110.8 344.6,110.8 345.1,110.8 345.6,110.8 346.1,110.8 346.6,110.8 347.1,110.8 347.6,110.8 348.1,110.8 348.6,110.8 349.1,110.8 349.6,110.8 350.1,110.8 350.6,110.8 351.1,110.8 351.6,110.8 352.1,110.7 352.6,110.7 353.1,110.7 353.6,110.7 354.1,110.7 354.6,110.7 355.1,110.7 355.6,110.7 356.1,110.7 356.6,110.7 357.1,110.7 357.6,110.7 358.1,110.7 358.6,110.7 359.1,110.7 359.6,110.7 360.1,110.7 360.6,110.7 361.1,110.7 361.6,110.7 362.1,110.7 362.6,110.7 363.1,110.7 363.6,110.7 364.1,110.7 364.6,110.7 365.1,110.7 365.6,110.7 366.1,110.7 366.6,110.7 367.1,110.7 367.6,110.6 368.1,110.6 368.6,110.6 369.1,110.6 369.6,110.6 370.1,110.6 370.6,110.6 371.1,110.6 371.6,110.6 372.1,110.6 372.6,110.6 373.1,110.6 373.6,110.6" fill="none" stroke="#ff3030" stroke-width="1.10" stroke-linejoin="round"/>
<polyline points="207.1,110.6 207.6,110.6 208.1,110.6 208.6,110.6 209.1,110.6 209.6,110.6 210.1,110.6 210.6,110.6 211.1,110.6 211.6,110.6 212.1,110.6 212.6,110.6 213.1,110.6 213.6,110.6 214.1,110.6 214.6,110.6 215.1,110.6 215.6,110.6 216.1,110.6 216.6,110.6 217.1,110.6 217.6,110.6 218.1,110.6 218.6,110.6 219.1,110.6 219.6,110.6 220.1,110.6 220.6,110.6 221.1,110.6 221.6,110.7 222.1,110.7 222.6,110.7 223.1,110.7 223.6,110.7 224.1,110.7 224.6,110.7 225.1,110.7 225.6,110.7 226.1,110.7 226.6,110.7 227.1,110.7 227.6,110.7 228.1,110.7 228.6,110.7 229.1,110.7 229.6,110.7 230.1,110.7 230.6,110.7 231.1,110.7 231.6,110.7 232.1,110.7 232.6,110.7 233.1,110.7 233.6,110.7 234.1,110.7 234.6,110.7 235.1,110.7 235.6,110.7 236.1,110.7 236.6,110.7 237.1,110.7 237.6,110.7 238.1,110.7 238.6,110.7 239.1,110.7 239.6,110.7 240.1,110.7 240.6,110.7 241.1,110.7 241.6,110.7 242.1,110.7 242.6,110.7 243.1,110.7 243.6,110.7 244.1,110.7 244.6,110.7 245.1,110.7 245.6,110.7 246.1,110.7 246.6,110.7 247.1,110.7 247.6,110.7 248.1,110.7 248.6,110.7 249.1,110.7 249.6,110.7 250.1,110.7 250.6,110.7 251.1,110.7 251.6,110.7 252.1,110.7 252.6,110.7 253.1,110.8 253.6,110.8 254.1,110.8 254.6,110.8 255.1,110.8 255.6,110.8 256.1,110.8 256.6,110.8 257.1,110.8 257.6,110.8 258.1,110.8 258.6,110.8 259.1,110.8 259.6,110.8 260.1,110.8 260.6,110.8 261.1,110.8 261.6,110.8 262.1,110.8 262.6,110.8 263.1,110.8 263.6,110.8 264.1,110.8 264.6,110.8 265.1,110.8 265.6,110.8 266.1,110.8 266.6,110.8 267.1,110.8 267.6,110.8 268.1,110.8 268.6,110.8 269.1,110.8 269.6,110.8 270.1,110.8 270.6,110.8 271.1,110.8 271.6,110.8 272.1,110.8 272.6,110.8 273.1,110.8 273.6,110.8 274.1,110.8 274.6,110.8 275.1,110.8 275.6,110.8 276.1,110.8 276.6,110.8 277.1,110.8 277.6,110.8 278.1,110.8 278.6,110.8 279.1,110.8 279.6,110.8 280.1,110.8 280.6,110.8 281.1,110.8 281.6,110.8 282.1,110.8 282.6,110.8 283.1,110.8 283.6,110.8 284.1,110.8 284.6,110.8 285.1,110.8 285.6,110.7 286.1,110.7 286.6,110.7 287.1,110.7 287.6,110.7 288.1,110.7 288.6,110.7 289.1,110.7 289.6,110.7 290.1,110.7 290.6,110.7 291.1,110.7 291.6,110.7 292.1,110.7 292.6,110.7 293.1,110.7 293.6,110.7 294.1,110.7 294.6,110.7 295.1,110.7 295.6,110.7 296.1,110.7 296.6,110.7 297.1,110.7 297.6,110.7 298.1,110.7 298.6,110.7 299.1,110.7 299.6,110.7 300.1,110.7 300.6,110.6 301.1,110.6 301.6,110.6 302.1,110.6 302.6,110.6 303.1,110.6 303.6,110.6 304.1,110.6 304.6,110.6 305.1,110.6 305.6,110.6 306.1,110.6 306.6,110.6 307.1,110.6 307.6,110.5 308.1,110.5 308.6,110.5 309.1,110.5 309.6,110.5 310.1,110.5 310.6,110.5 311.1,110.5 311.6,110.5 312.1,110.4 312.6,110.4 313.1,110.4 313.6,110.4 314.1,110.4 314.6,110.4 315.1,110.3 315.6,110.3 316.1,110.3 316.6,110.3 317.1,110.3 317.6,110.2 318.1,110.2 318.6,110.2 319.1,110.1 319.6,110.1 320.1,110.1 320.6,110.0 321.1,110.0 321.6,110.0 322.1,109.9 322.6,109.8 323.1,109.8 323.6,109.7 324.1,109.6 324.6,109.5 325.1,109.4 325.6,109.3 326.1,109.1 326.6,109.0 327.1,108.8 327.6,108.6 328.1,108.3 328.6,108.0 329.1,107.7 329.6,107.3 330.1,106.9 330.6,106.4 331.1,105.9 331.6,105.3 332.1,104.7 332.6,103.9 333.1,103.2 333.6,102.3 334.1,101.4 334.6,100.4 335.1,99.3 335.6,98.2 336.1,97.1 336.6,95.8 337.1,94.6 337.6,93.3 338.1,92.0 338.6,90.7 339.1,89.5 339.6,88.2 340.1,87.1 340.6,86.0 341.1,85.0 341.6,84.1 342.1,83.4 342.6,82.9 343.1,82.5 343.6,82.3 344.1,82.3 344.6,82.7 345.1,83.3 345.6,84.2 346.1,85.3 346.6,86.6 347.1,88.0 347.6,89.6 348.1,91.1 348.6,92.8 349.1,94.3 349.6,95.9 350.1,97.4 350.6,98.8 351.1,100.2 351.6,101.4 352.1,102.5 352.6,103.5 353.1,104.5 353.6,105.3 354.1,106.0 354.6,106.6 355.1,107.1 355.6,107.6 356.1,108.0 356.6,108.3 357.1,108.6 357.6,108.8 358.1,109.0 358.6,109.2 359.1,109.3 359.6,109.5 360.1,109.6 360.6,109.6 361.1,109.7 361.6,109.8 362.1,109.8 362.6,109.9 363.1,109.9 363.6,109.9 364.1,110.0 364.6,110.0 365.1,110.0 365.6,110.1 366.1,110.1 366.6,110.1 367.1,110.1 367.6,110.1 368.1,110.2 368.6,110.2 369.1,110.2 369.6,110.2 370.1,110.2 370.6,110.2 371.1,110.2 371.6,110.2 372.1,110.2 372.6,110.3 373.1,110.3 373.6,110.3" fill="none" stroke="#2a2aff" stroke-width="1.15" stroke-linejoin="round"/>
<polyline points="207.1,110.3 207.6,110.3 208.1,110.3 208.6,110.3 209.1,110.3 209.6,110.3 210.1,110.3 210.6,110.3 211.1,110.3 211.6,110.2 212.1,110.2 212.6,110.2 213.1,110.2 213.6,110.2 214.1,110.2 214.6,110.2 215.1,110.2 215.6,110.2 216.1,110.2 216.6,110.2 217.1,110.2 217.6,110.2 218.1,110.2 218.6,110.2 219.1,110.2 219.6,110.2 220.1,110.2 220.6,110.2 221.1,110.2 221.6,110.2 222.1,110.2 222.6,110.2 223.1,110.2 223.6,110.2 224.1,110.2 224.6,110.2 225.1,110.2 225.6,110.2 226.1,110.2 226.6,110.2 227.1,110.2 227.6,110.2 228.1,110.2 228.6,110.1 229.1,110.1 229.6,110.1 230.1,110.1 230.6,110.1 231.1,110.1 231.6,110.1 232.1,110.1 232.6,110.1 233.1,110.1 233.6,110.1 234.1,110.1 234.6,110.1 235.1,110.1 235.6,110.1 236.1,110.0 236.6,110.0 237.1,110.0 237.6,110.0 238.1,110.0 238.6,110.0 239.1,110.0 239.6,110.0 240.1,110.0 240.6,110.0 241.1,109.9 241.6,109.9 242.1,109.9 242.6,109.9 243.1,109.9 243.6,109.9 244.1,109.9 244.6,109.9 245.1,109.8 245.6,109.8 246.1,109.8 246.6,109.8 247.1,109.8 247.6,109.8 248.1,109.7 248.6,109.7 249.1,109.7 249.6,109.7 250.1,109.7 250.6,109.6 251.1,109.6 251.6,109.6 252.1,109.6 252.6,109.6 253.1,109.5 253.6,109.5 254.1,109.5 254.6,109.5 255.1,109.4 255.6,109.4 256.1,109.4 256.6,109.3 257.1,109.3 257.6,109.3 258.1,109.2 258.6,109.2 259.1,109.1 259.6,109.1 260.1,109.0 260.6,109.0 261.1,108.9 261.6,108.9 262.1,108.8 262.6,108.7 263.1,108.7 263.6,108.6 264.1,108.5 264.6,108.4 265.1,108.3 265.6,108.1 266.1,108.0 266.6,107.9 267.1,107.7 267.6,107.6 268.1,107.4 268.6,107.2 269.1,106.9 269.6,106.7 270.1,106.4 270.6,106.1 271.1,105.8 271.6,105.5 272.1,105.1 272.6,104.7 273.1,104.2 273.6,103.7 274.1,103.2 274.6,102.6 275.1,102.0 275.6,101.3 276.1,100.6 276.6,99.8 277.1,98.9 277.6,98.0 278.1,97.1 278.6,96.0 279.1,94.9 279.6,93.8 280.1,92.5 280.6,91.2 281.1,89.8 281.6,88.3 282.1,86.8 282.6,85.2 283.1,83.5 283.6,81.7 284.1,79.9 284.6,78.0 285.1,76.0 285.6,73.9 286.1,71.8 286.6,69.7 287.1,67.4 287.6,65.2 288.1,62.9 288.6,60.5 289.1,58.2 289.6,55.8 290.1,53.4 290.6,51.0 291.1,48.6 291.6,46.3 292.1,43.9 292.6,41.6 293.1,39.4 293.6,37.2 294.1,35.1 294.6,33.1 295.1,31.2 295.6,29.4 296.1,27.8 296.6,26.3 297.1,24.9 297.6,23.7 298.1,22.7 298.6,21.8 299.1,21.2 299.6,20.7 300.1,20.5 300.6,20.4 301.1,20.5 301.6,20.9 302.1,21.4 302.6,22.2 303.1,23.1 303.6,24.2 304.1,25.4 304.6,26.9 305.1,28.4 305.6,30.1 306.1,32.0 306.6,33.9 307.1,36.0 307.6,38.1 308.1,40.3 308.6,42.5 309.1,44.8 309.6,47.2 310.1,49.6 310.6,52.0 311.1,54.4 311.6,56.7 312.1,59.1 312.6,61.5 313.1,63.8 313.6,66.1 314.1,68.3 314.6,70.5 315.1,72.7 315.6,74.8 316.1,76.8 316.6,78.7 317.1,80.6 317.6,82.4 318.1,84.2 318.6,85.8 319.1,87.4 319.6,88.9 320.1,90.4 320.6,91.7 321.1,93.0 321.6,94.2 322.1,95.4 322.6,96.5 323.1,97.5 323.6,98.4 324.1,99.3 324.6,100.1 325.1,100.9 325.6,101.6 326.1,102.2 326.6,102.8 327.1,103.4 327.6,103.9 328.1,104.4 328.6,104.8 329.1,105.2 329.6,105.6 330.1,105.9 330.6,106.2 331.1,106.5 331.6,106.8 332.1,107.0 332.6,107.2 333.1,107.4 333.6,107.6 334.1,107.8 334.6,107.9 335.1,108.1 335.6,108.2 336.1,108.3 336.6,108.4 337.1,108.5 337.6,108.6 338.1,108.7 338.6,108.7 339.1,108.8 339.6,108.9 340.1,108.9 340.6,109.0 341.1,109.0 341.6,109.1 342.1,109.1 342.6,109.2 343.1,109.2 343.6,109.2 344.1,109.3 344.6,109.3 345.1,109.3 345.6,109.4 346.1,109.4 346.6,109.4 347.1,109.5 347.6,109.5 348.1,109.5 348.6,109.5 349.1,109.6 349.6,109.6 350.1,109.6 350.6,109.6 351.1,109.6 351.6,109.6 352.1,109.7 352.6,109.7 353.1,109.7 353.6,109.7 354.1,109.7 354.6,109.7 355.1,109.8 355.6,109.8 356.1,109.8 356.6,109.8 357.1,109.8 357.6,109.8 358.1,109.8 358.6,109.8 359.1,109.9 359.6,109.9 360.1,109.9 360.6,109.9 361.1,109.9 361.6,109.9 362.1,109.9 362.6,109.9 363.1,109.9 363.6,109.9 364.1,109.9 364.6,110.0 365.1,110.0 365.6,110.0 366.1,110.0 366.6,110.0 367.1,110.0 367.6,110.0 368.1,110.0 368.6,110.0 369.1,110.0 369.6,110.0 370.1,110.0 370.6,110.0 371.1,110.0 371.6,110.0 372.1,110.0 372.6,110.0 373.1,110.0 373.6,110.1" fill="none" stroke="#ff33ff" stroke-width="1.15" stroke-linejoin="round"/>
<polyline points="207.1,110.6 207.6,110.6 208.1,110.6 208.6,110.6 209.1,110.6 209.6,110.6 210.1,110.6 210.6,110.6 211.1,110.6 211.6,110.6 212.1,110.6 212.6,110.6 213.1,110.6 213.6,110.6 214.1,110.6 214.6,110.6 215.1,110.6 215.6,110.7 216.1,110.7 216.6,110.7 217.1,110.7 217.6,110.7 218.1,110.7 218.6,110.7 219.1,110.7 219.6,110.7 220.1,110.7 220.6,110.7 221.1,110.7 221.6,110.7 222.1,110.7 222.6,110.7 223.1,110.7 223.6,110.7 224.1,110.7 224.6,110.7 225.1,110.7 225.6,110.7 226.1,110.7 226.6,110.7 227.1,110.7 227.6,110.7 228.1,110.7 228.6,110.7 229.1,110.7 229.6,110.7 230.1,110.7 230.6,110.7 231.1,110.7 231.6,110.7 232.1,110.7 232.6,110.7 233.1,110.7 233.6,110.7 234.1,110.7 234.6,110.7 235.1,110.7 235.6,110.7 236.1,110.7 236.6,110.7 237.1,110.7 237.6,110.7 238.1,110.7 238.6,110.7 239.1,110.7 239.6,110.7 240.1,110.7 240.6,110.7 241.1,110.7 241.6,110.7 242.1,110.7 242.6,110.7 243.1,110.7 243.6,110.7 244.1,110.7 244.6,110.7 245.1,110.7 245.6,110.7 246.1,110.7 246.6,110.7 247.1,110.7 247.6,110.7 248.1,110.7 248.6,110.7 249.1,110.7 249.6,110.6 250.1,110.6 250.6,110.6 251.1,110.6 251.6,110.6 252.1,110.6 252.6,110.6 253.1,110.5 253.6,110.5 254.1,110.5 254.6,110.5 255.1,110.4 255.6,110.4 256.1,110.4 256.6,110.3 257.1,110.3 257.6,110.3 258.1,110.2 258.6,110.2 259.1,110.1 259.6,110.1 260.1,110.1 260.6,110.0 261.1,110.0 261.6,109.9 262.1,109.9 262.6,109.8 263.1,109.8 263.6,109.7 264.1,109.6 264.6,109.6 265.1,109.5 265.6,109.5 266.1,109.4 266.6,109.4 267.1,109.3 267.6,109.2 268.1,109.2 268.6,109.1 269.1,109.1 269.6,109.0 270.1,108.9 270.6,108.9 271.1,108.8 271.6,108.8 272.1,108.7 272.6,108.7 273.1,108.6 273.6,108.6 274.1,108.5 274.6,108.5 275.1,108.5 275.6,108.4 276.1,108.4 276.6,108.4 277.1,108.3 277.6,108.3 278.1,108.3 278.6,108.3 279.1,108.3 279.6,108.3 280.1,108.3 280.6,108.3 281.1,108.3 281.6,108.3 282.1,108.3 282.6,108.3 283.1,108.4 283.6,108.4 284.1,108.4 284.6,108.5 285.1,108.5 285.6,108.5 286.1,108.6 286.6,108.6 287.1,108.7 287.6,108.7 288.1,108.8 288.6,108.8 289.1,108.9 289.6,108.9 290.1,109.0 290.6,109.1 291.1,109.1 291.6,109.2 292.1,109.2 292.6,109.3 293.1,109.4 293.6,109.4 294.1,109.5 294.6,109.5 295.1,109.6 295.6,109.7 296.1,109.7 296.6,109.8 297.1,109.8 297.6,109.9 298.1,110.0 298.6,110.0 299.1,110.1 299.6,110.1 300.1,110.2 300.6,110.2 301.1,110.2 301.6,110.3 302.1,110.3 302.6,110.4 303.1,110.4 303.6,110.4 304.1,110.5 304.6,110.5 305.1,110.5 305.6,110.6 306.1,110.6 306.6,110.6 307.1,110.6 307.6,110.6 308.1,110.7 308.6,110.7 309.1,110.7 309.6,110.7 310.1,110.7 310.6,110.7 311.1,110.8 311.6,110.8 312.1,110.8 312.6,110.8 313.1,110.8 313.6,110.8 314.1,110.8 314.6,110.8 315.1,110.8 315.6,110.8 316.1,110.8 316.6,110.8 317.1,110.8 317.6,110.8 318.1,110.9 318.6,110.9 319.1,110.9 319.6,110.9 320.1,110.9 320.6,110.9 321.1,110.9 321.6,110.9 322.1,110.9 322.6,110.9 323.1,110.9 323.6,110.9 324.1,110.9 324.6,110.9 325.1,110.9 325.6,110.9 326.1,110.9 326.6,110.9 327.1,110.9 327.6,110.9 328.1,110.9 328.6,110.9 329.1,110.8 329.6,110.8 330.1,110.8 330.6,110.8 331.1,110.8 331.6,110.8 332.1,110.8 332.6,110.8 333.1,110.8 333.6,110.8 334.1,110.8 334.6,110.8 335.1,110.8 335.6,110.8 336.1,110.8 336.6,110.8 337.1,110.8 337.6,110.8 338.1,110.8 338.6,110.8 339.1,110.8 339.6,110.8 340.1,110.8 340.6,110.8 341.1,110.8 341.6,110.8 342.1,110.8 342.6,110.8 343.1,110.8 343.6,110.8 344.1,110.8 344.6,110.8 345.1,110.8 345.6,110.8 346.1,110.8 346.6,110.8 347.1,110.8 347.6,110.8 348.1,110.8 348.6,110.8 349.1,110.8 349.6,110.8 350.1,110.8 350.6,110.8 351.1,110.8 351.6,110.8 352.1,110.7 352.6,110.7 353.1,110.7 353.6,110.7 354.1,110.7 354.6,110.7 355.1,110.7 355.6,110.7 356.1,110.7 356.6,110.7 357.1,110.7 357.6,110.7 358.1,110.7 358.6,110.7 359.1,110.7 359.6,110.7 360.1,110.7 360.6,110.7 361.1,110.7 361.6,110.7 362.1,110.7 362.6,110.7 363.1,110.7 363.6,110.7 364.1,110.7 364.6,110.7 365.1,110.7 365.6,110.7 366.1,110.7 366.6,110.7 367.1,110.7 367.6,110.6 368.1,110.6 368.6,110.6 369.1,110.6 369.6,110.6 370.1,110.6 370.6,110.6 371.1,110.6 371.6,110.6 372.1,110.6 372.6,110.6 373.1,110.6 373.6,110.6" fill="none" stroke="#33ee33" stroke-width="1.15" stroke-linejoin="round"/>
<polyline points="207.1,110.6 207.6,110.6 208.1,110.6 208.6,110.6 209.1,110.6 209.6,110.6 210.1,110.6 210.6,110.6 211.1,110.6 211.6,110.6 212.1,110.6 212.6,110.6 213.1,110.6 213.6,110.6 214.1,110.6 214.6,110.6 215.1,110.6 215.6,110.7 216.1,110.7 216.6,110.7 217.1,110.7 217.6,110.7 218.1,110.7 218.6,110.7 219.1,110.7 219.6,110.7 220.1,110.7 220.6,110.7 221.1,110.7 221.6,110.7 222.1,110.7 222.6,110.7 223.1,110.7 223.6,110.7 224.1,110.7 224.6,110.7 225.1,110.7 225.6,110.7 226.1,110.6 226.6,110.6 227.1,110.6 227.6,110.6 228.1,110.5 228.6,110.5 229.1,110.5 229.6,110.4 230.1,110.3 230.6,110.3 231.1,110.2 231.6,110.1 232.1,110.0 232.6,109.8 233.1,109.7 233.6,109.6 234.1,109.4 234.6,109.3 235.1,109.1 235.6,109.0 236.1,108.8 236.6,108.7 237.1,108.5 237.6,108.4 238.1,108.3 238.6,108.3 239.1,108.2 239.6,108.2 240.1,108.2 240.6,108.2 241.1,108.2 241.6,108.3 242.1,108.4 242.6,108.5 243.1,108.6 243.6,108.8 244.1,108.9 244.6,109.1 245.1,109.2 245.6,109.4 246.1,109.5 246.6,109.7 247.1,109.8 247.6,109.9 248.1,110.1 248.6,110.2 249.1,110.3 249.6,110.4 250.1,110.4 250.6,110.5 251.1,110.6 251.6,110.6 252.1,110.7 252.6,110.7 253.1,110.7 253.6,110.7 254.1,110.8 254.6,110.8 255.1,110.8 255.6,110.8 256.1,110.8 256.6,110.8 257.1,110.8 257.6,110.8 258.1,110.8 258.6,110.8 259.1,110.8 259.6,110.8 260.1,110.8 260.6,110.8 261.1,110.8 261.6,110.8 262.1,110.8 262.6,110.8 263.1,110.8 263.6,110.8 264.1,110.8 264.6,110.8 265.1,110.8 265.6,110.8 266.1,110.8 266.6,110.8 267.1,110.8 267.6,110.8 268.1,110.9 268.6,110.9 269.1,110.9 269.6,110.9 270.1,110.9 270.6,110.9 271.1,110.9 271.6,110.9 272.1,110.9 272.6,110.9 273.1,110.9 273.6,110.9 274.1,110.9 274.6,110.9 275.1,110.9 275.6,110.9 276.1,110.9 276.6,110.9 277.1,110.9 277.6,110.9 278.1,110.9 278.6,110.9 279.1,110.9 279.6,110.9 280.1,110.9 280.6,110.9 281.1,110.9 281.6,110.9 282.1,110.9 282.6,110.9 283.1,110.9 283.6,110.9 284.1,110.9 284.6,110.9 285.1,110.9 285.6,110.9 286.1,110.9 286.6,110.9 287.1,110.9 287.6,110.9 288.1,110.9 288.6,110.9 289.1,110.9 289.6,110.9 290.1,110.9 290.6,110.9 291.1,110.9 291.6,110.9 292.1,110.9 292.6,110.9 293.1,110.9 293.6,110.9 294.1,110.9 294.6,110.9 295.1,110.9 295.6,110.9 296.1,110.9 296.6,110.9 297.1,110.9 297.6,110.9 298.1,110.9 298.6,110.9 299.1,110.9 299.6,110.9 300.1,110.9 300.6,110.9 301.1,110.9 301.6,110.9 302.1,110.9 302.6,110.9 303.1,110.9 303.6,110.9 304.1,110.9 304.6,110.9 305.1,110.9 305.6,110.9 306.1,110.9 306.6,110.9 307.1,110.9 307.6,110.9 308.1,110.9 308.6,110.9 309.1,110.9 309.6,110.9 310.1,110.9 310.6,110.9 311.1,110.9 311.6,110.9 312.1,110.9 312.6,110.9 313.1,110.9 313.6,110.9 314.1,110.9 314.6,110.9 315.1,110.9 315.6,110.9 316.1,110.9 316.6,110.9 317.1,110.9 317.6,110.9 318.1,110.9 318.6,110.9 319.1,110.9 319.6,110.9 320.1,110.9 320.6,110.9 321.1,110.9 321.6,110.9 322.1,110.9 322.6,110.9 323.1,110.9 323.6,110.9 324.1,110.9 324.6,110.9 325.1,110.9 325.6,110.9 326.1,110.9 326.6,110.9 327.1,110.9 327.6,110.9 328.1,110.9 328.6,110.9 329.1,110.9 329.6,110.8 330.1,110.8 330.6,110.8 331.1,110.8 331.6,110.8 332.1,110.8 332.6,110.8 333.1,110.8 333.6,110.8 334.1,110.8 334.6,110.8 335.1,110.8 335.6,110.8 336.1,110.8 336.6,110.8 337.1,110.8 337.6,110.8 338.1,110.8 338.6,110.8 339.1,110.8 339.6,110.8 340.1,110.8 340.6,110.8 341.1,110.8 341.6,110.8 342.1,110.8 342.6,110.8 343.1,110.8 343.6,110.8 344.1,110.8 344.6,110.8 345.1,110.8 345.6,110.8 346.1,110.8 346.6,110.8 347.1,110.8 347.6,110.8 348.1,110.8 348.6,110.8 349.1,110.8 349.6,110.8 350.1,110.8 350.6,110.8 351.1,110.8 351.6,110.8 352.1,110.7 352.6,110.7 353.1,110.7 353.6,110.7 354.1,110.7 354.6,110.7 355.1,110.7 355.6,110.7 356.1,110.7 356.6,110.7 357.1,110.7 357.6,110.7 358.1,110.7 358.6,110.7 359.1,110.7 359.6,110.7 360.1,110.7 360.6,110.7 361.1,110.7 361.6,110.7 362.1,110.7 362.6,110.7 363.1,110.7 363.6,110.7 364.1,110.7 364.6,110.7 365.1,110.7 365.6,110.7 366.1,110.7 366.6,110.7 367.1,110.7 367.6,110.6 368.1,110.6 368.6,110.6 369.1,110.6 369.6,110.6 370.1,110.6 370.6,110.6 371.1,110.6 371.6,110.6 372.1,110.6 372.6,110.6 373.1,110.6 373.6,110.6" fill="none" stroke="#ff9944" stroke-width="1.15" stroke-linejoin="round"/>
</g>
<rect x="206.50" y="2.45" width="167.50" height="123.25" fill="none" stroke="#111" stroke-width="1.2"/>
<line x1="221.50" y1="125.70" x2="221.50" y2="129.00" stroke="#1a1a1a" stroke-width="1"/>
<text x="221.50" y="138.20" font-size="8.20" font-weight="bold" text-anchor="middle" fill="#111" >290</text>
<line x1="251.90" y1="125.70" x2="251.90" y2="129.00" stroke="#1a1a1a" stroke-width="1"/>
<text x="251.90" y="138.20" font-size="8.20" font-weight="bold" text-anchor="middle" fill="#111" >288</text>
<line x1="282.30" y1="125.70" x2="282.30" y2="129.00" stroke="#1a1a1a" stroke-width="1"/>
<text x="282.30" y="138.20" font-size="8.20" font-weight="bold" text-anchor="middle" fill="#111" >286</text>
<line x1="312.70" y1="125.70" x2="312.70" y2="129.00" stroke="#1a1a1a" stroke-width="1"/>
<text x="312.70" y="138.20" font-size="8.20" font-weight="bold" text-anchor="middle" fill="#111" >284</text>
<line x1="343.10" y1="125.70" x2="343.10" y2="129.00" stroke="#1a1a1a" stroke-width="1"/>
<text x="343.10" y="138.20" font-size="8.20" font-weight="bold" text-anchor="middle" fill="#111" >282</text>
<line x1="373.50" y1="125.70" x2="373.50" y2="129.00" stroke="#1a1a1a" stroke-width="1"/>
<text x="373.50" y="138.20" font-size="8.20" font-weight="bold" text-anchor="middle" fill="#111" >280</text>
<line x1="236.70" y1="125.70" x2="236.70" y2="127.80" stroke="#1a1a1a" stroke-width="1"/>
<line x1="267.10" y1="125.70" x2="267.10" y2="127.80" stroke="#1a1a1a" stroke-width="1"/>
<line x1="297.50" y1="125.70" x2="297.50" y2="127.80" stroke="#1a1a1a" stroke-width="1"/>
<line x1="327.90" y1="125.70" x2="327.90" y2="127.80" stroke="#1a1a1a" stroke-width="1"/>
<line x1="358.30" y1="125.70" x2="358.30" y2="127.80" stroke="#1a1a1a" stroke-width="1"/>
<text x="192.40" y="16.20" font-size="18.50" font-weight="bold" text-anchor="start" fill="#000" >b</text>
<line x1="208.00" y1="10.60" x2="221.50" y2="10.60" stroke="#000000" stroke-width="1.35"/>
<text x="223.00" y="13.00" font-size="7.30" font-weight="bold" text-anchor="start" fill="#111" textLength="13.21" lengthAdjust="spacingAndGlyphs" >sum</text>
<line x1="208.00" y1="20.90" x2="221.50" y2="20.90" stroke="#ff3030" stroke-width="1.35"/>
<text x="223.00" y="23.30" font-size="7.30" font-weight="bold" text-anchor="start" fill="#111" textLength="37.00" lengthAdjust="spacingAndGlyphs" >background</text>
<line x1="208.00" y1="30.90" x2="221.50" y2="30.90" stroke="#2a2aff" stroke-width="1.35"/>
<text x="223.00" y="33.30" font-size="7.30" font-weight="bold" text-anchor="start" fill="#111" textLength="12.37" lengthAdjust="spacingAndGlyphs" >Ti-C</text>
<line x1="208.00" y1="41.10" x2="221.50" y2="41.10" stroke="#ff33ff" stroke-width="1.35"/>
<text x="223.00" y="43.50" font-size="7.30" font-weight="bold" text-anchor="start" fill="#111" textLength="11.42" lengthAdjust="spacingAndGlyphs" >C-C</text>
<line x1="208.00" y1="51.30" x2="221.50" y2="51.30" stroke="#33ee33" stroke-width="1.35"/>
<text x="223.00" y="53.70" font-size="7.30" font-weight="bold" text-anchor="start" fill="#111" textLength="11.77" lengthAdjust="spacingAndGlyphs" >C-O</text>
<line x1="208.00" y1="61.40" x2="221.50" y2="61.40" stroke="#ff9944" stroke-width="1.35"/>
<text x="223.00" y="63.80" font-size="7.30" font-weight="bold" text-anchor="start" fill="#111" textLength="10.70" lengthAdjust="spacingAndGlyphs" >C-F</text>
<text x="302.00" y="14.20" font-size="8.50" font-weight="bold" fill="#111" textLength="69.20" lengthAdjust="spacingAndGlyphs">Ti<tspan font-size="70%" dy="1.2">3</tspan><tspan dy="-1.2">C</tspan><tspan font-size="70%" dy="1.2">2</tspan><tspan dy="-1.2">T</tspan><tspan font-size="70%" dy="1.2">x</tspan><tspan dy="-1.2">(F/OH)-C 1s</tspan></text>
<text x="0" y="0" font-size="8.20" font-weight="bold" fill="#111" text-anchor="middle" textLength="51.00" lengthAdjust="spacingAndGlyphs" transform="translate(202.40,57.20) rotate(-90)">Intensity/a.u.</text>
<text x="289.50" y="148.00" font-size="8.90" font-weight="bold" text-anchor="middle" fill="#111" textLength="74.60" lengthAdjust="spacingAndGlyphs" >Binding Energy/eV</text>
<g clip-path="url(#clipc)">
<polyline points="394.4,117.1 394.9,117.1 395.4,117.1 395.9,117.1 396.4,117.1 396.9,117.1 397.4,117.1 397.9,117.1 398.4,117.1 398.9,117.1 399.4,117.1 399.9,117.1 400.4,117.1 400.9,117.1 401.4,117.1 401.9,117.0 402.4,117.0 402.9,117.0 403.4,117.0 403.9,117.0 404.4,117.0 404.9,117.0 405.4,117.0 405.9,117.0 406.4,117.0 406.9,117.0 407.4,117.0 407.9,117.0 408.4,116.9 408.9,116.9 409.4,116.9 409.9,116.9 410.4,116.9 410.9,116.8 411.4,116.8 411.9,116.8 412.4,116.8 412.9,116.7 413.4,116.7 413.9,116.7 414.4,116.6 414.9,116.6 415.4,116.5 415.9,116.5 416.4,116.4 416.9,116.3 417.4,116.3 417.9,116.2 418.4,116.1 418.9,116.0 419.4,116.0 419.9,115.9 420.4,115.8 420.9,115.7 421.4,115.5 421.9,115.4 422.4,115.3 422.9,115.2 423.4,115.0 423.9,114.9 424.4,114.7 424.9,114.6 425.4,114.4 425.9,114.2 426.4,114.1 426.9,113.9 427.4,113.7 427.9,113.5 428.4,113.3 428.9,113.1 429.4,112.9 429.9,112.7 430.4,112.5 430.9,112.3 431.4,112.1 431.9,111.8 432.4,111.6 432.9,111.4 433.4,111.2 433.9,111.0 434.4,110.7 434.9,110.5 435.4,110.3 435.9,110.1 436.4,109.9 436.9,109.7 437.4,109.5 437.9,109.3 438.4,109.1 438.9,108.9 439.4,108.7 439.9,108.5 440.4,108.3 440.9,108.2 441.4,108.0 441.9,107.8 442.4,107.7 442.9,107.5 443.4,107.3 443.9,107.2 444.4,107.0 444.9,106.9 445.4,106.7 445.9,106.6 446.4,106.4 446.9,106.3 447.4,106.1 447.9,105.9 448.4,105.8 448.9,105.6 449.4,105.4 449.9,105.3 450.4,105.1 450.9,104.9 451.4,104.7 451.9,104.5 452.4,104.3 452.9,104.1 453.4,103.9 453.9,103.7 454.4,103.5 454.9,103.3 455.4,103.1 455.9,102.8 456.4,102.6 456.9,102.4 457.4,102.1 457.9,101.9 458.4,101.6 458.9,101.4 459.4,101.1 459.9,100.8 460.4,100.6 460.9,100.3 461.4,100.0 461.9,99.8 462.4,99.5 462.9,99.2 463.4,99.0 463.9,98.7 464.4,98.4 464.9,98.1 465.4,97.9 465.9,97.6 466.4,97.3 466.9,97.1 467.4,96.8 467.9,96.6 468.4,96.3 468.9,96.1 469.4,95.8 469.9,95.6 470.4,95.3 470.9,95.1 471.4,94.9 471.9,94.7 472.4,94.4 472.9,94.2 473.4,94.0 473.9,93.8 474.4,93.6 474.9,93.4 475.4,93.3 475.9,93.1 476.4,92.9 476.9,92.8 477.4,92.6 477.9,92.5 478.4,92.3 478.9,92.2 479.4,92.1 479.9,92.0 480.4,91.9 480.9,91.8 481.4,91.7 481.9,91.6 482.4,91.6 482.9,91.5 483.4,91.5 483.9,91.4 484.4,91.4 484.9,91.4 485.4,91.4 485.9,91.4 486.4,91.4 486.9,91.4 487.4,91.4 487.9,91.4 488.4,91.5 488.9,91.5 489.4,91.6 489.9,91.6 490.4,91.7 490.9,91.8 491.4,91.8 491.9,91.9 492.4,92.0 492.9,92.1 493.4,92.2 493.9,92.3 494.4,92.4 494.9,92.5 495.4,92.7 495.9,92.8 496.4,92.9 496.9,93.1 497.4,93.2 497.9,93.4 498.4,93.5 498.9,93.7 499.4,93.9 499.9,94.0 500.4,94.2 500.9,94.4 501.4,94.6 501.9,94.8 502.4,95.0 502.9,95.2 503.4,95.4 503.9,95.6 504.4,95.8 504.9,96.0 505.4,96.3 505.9,96.5 506.4,96.7 506.9,97.0 507.4,97.2 507.9,97.5 508.4,97.7 508.9,98.0 509.4,98.3 509.9,98.6 510.4,98.8 510.9,99.1 511.4,99.4 511.9,99.7 512.4,100.0 512.9,100.3 513.4,100.6 513.9,100.9 514.4,101.2 514.9,101.5 515.4,101.8 515.9,102.1 516.4,102.5 516.9,102.8 517.4,103.1 517.9,103.4 518.4,103.8 518.9,104.1 519.4,104.4 519.9,104.8 520.4,105.1 520.9,105.4 521.4,105.8 521.9,106.1 522.4,106.4 522.9,106.8 523.4,107.1 523.9,107.4 524.4,107.7 524.9,108.1 525.4,108.4 525.9,108.7 526.4,109.0 526.9,109.3 527.4,109.6 527.9,109.9 528.4,110.3 528.9,110.5 529.4,110.8 529.9,111.1 530.4,111.4 530.9,111.7 531.4,112.0 531.9,112.2 532.4,112.5 532.9,112.8 533.4,113.0 533.9,113.3 534.4,113.5 534.9,113.7 535.4,114.0 535.9,114.2 536.4,114.4 536.9,114.6 537.4,114.8 537.9,115.0 538.4,115.2 538.9,115.4 539.4,115.6 539.9,115.7 540.4,115.9 540.9,116.1 541.4,116.2 541.9,116.4 542.4,116.5 542.9,116.7 543.4,116.8 543.9,116.9 544.4,117.1 544.9,117.2 545.4,117.3 545.9,117.4 546.4,117.5 546.9,117.6 547.4,117.7 547.9,117.8 548.4,117.9 548.9,118.0 549.4,118.0 549.9,118.1 550.4,118.2 550.9,118.3 551.4,118.3 551.9,118.4 552.4,118.4 552.9,118.5 553.4,118.6 553.9,118.6 554.4,118.7 554.9,118.7 555.4,118.7 555.9,118.8 556.4,118.8 556.9,118.9 557.4,118.9 557.9,118.9 558.4,119.0 558.9,119.0 559.4,119.0 559.9,119.0 560.4,119.1 560.9,119.1" fill="none" stroke="#000000" stroke-width="1.20" stroke-linejoin="round"/>
<polyline points="394.4,117.1 394.9,117.1 395.4,117.1 395.9,117.1 396.4,117.1 396.9,117.1 397.4,117.1 397.9,117.1 398.4,117.1 398.9,117.1 399.4,117.1 399.9,117.1 400.4,117.1 400.9,117.1 401.4,117.1 401.9,117.1 402.4,117.1 402.9,117.1 403.4,117.1 403.9,117.1 404.4,117.1 404.9,117.1 405.4,117.1 405.9,117.1 406.4,117.1 406.9,117.1 407.4,117.1 407.9,117.1 408.4,117.1 408.9,117.1 409.4,117.1 409.9,117.1 410.4,117.1 410.9,117.1 411.4,117.1 411.9,117.1 412.4,117.1 412.9,117.1 413.4,117.1 413.9,117.1 414.4,117.1 414.9,117.1 415.4,117.1 415.9,117.1 416.4,117.1 416.9,117.1 417.4,117.1 417.9,117.1 418.4,117.1 418.9,117.1 419.4,117.1 419.9,117.2 420.4,117.2 420.9,117.2 421.4,117.2 421.9,117.2 422.4,117.2 422.9,117.2 423.4,117.2 423.9,117.2 424.4,117.2 424.9,117.2 425.4,117.2 425.9,117.2 426.4,117.2 426.9,117.2 427.4,117.2 427.9,117.2 428.4,117.2 428.9,117.2 429.4,117.2 429.9,117.2 430.4,117.2 430.9,117.2 431.4,117.2 431.9,117.2 432.4,117.2 432.9,117.2 433.4,117.2 433.9,117.2 434.4,117.2 434.9,117.2 435.4,117.2 435.9,117.2 436.4,117.2 436.9,117.2 437.4,117.2 437.9,117.2 438.4,117.2 438.9,117.2 439.4,117.2 439.9,117.2 440.4,117.2 440.9,117.2 441.4,117.2 441.9,117.3 442.4,117.3 442.9,117.3 443.4,117.3 443.9,117.3 444.4,117.3 444.9,117.3 445.4,117.3 445.9,117.3 446.4,117.3 446.9,117.3 447.4,117.3 447.9,117.3 448.4,117.3 448.9,117.3 449.4,117.3 449.9,117.3 450.4,117.3 450.9,117.3 451.4,117.3 451.9,117.3 452.4,117.3 452.9,117.3 453.4,117.3 453.9,117.3 454.4,117.3 454.9,117.3 455.4,117.3 455.9,117.4 456.4,117.4 456.9,117.4 457.4,117.4 457.9,117.4 458.4,117.4 458.9,117.4 459.4,117.4 459.9,117.4 460.4,117.4 460.9,117.4 461.4,117.4 461.9,117.4 462.4,117.5 462.9,117.5 463.4,117.5 463.9,117.5 464.4,117.5 464.9,117.5 465.4,117.5 465.9,117.5 466.4,117.5 466.9,117.5 467.4,117.6 467.9,117.6 468.4,117.6 468.9,117.6 469.4,117.6 469.9,117.6 470.4,117.6 470.9,117.6 471.4,117.6 471.9,117.7 472.4,117.7 472.9,117.7 473.4,117.7 473.9,117.7 474.4,117.7 474.9,117.7 475.4,117.7 475.9,117.7 476.4,117.8 476.9,117.8 477.4,117.8 477.9,117.8 478.4,117.8 478.9,117.8 479.4,117.8 479.9,117.8 480.4,117.9 480.9,117.9 481.4,117.9 481.9,117.9 482.4,117.9 482.9,117.9 483.4,117.9 483.9,117.9 484.4,118.0 484.9,118.0 485.4,118.0 485.9,118.0 486.4,118.0 486.9,118.0 487.4,118.0 487.9,118.0 488.4,118.1 488.9,118.1 489.4,118.1 489.9,118.1 490.4,118.1 490.9,118.1 491.4,118.1 491.9,118.1 492.4,118.1 492.9,118.2 493.4,118.2 493.9,118.2 494.4,118.2 494.9,118.2 495.4,118.2 495.9,118.2 496.4,118.2 496.9,118.2 497.4,118.2 497.9,118.3 498.4,118.3 498.9,118.3 499.4,118.3 499.9,118.3 500.4,118.3 500.9,118.3 501.4,118.3 501.9,118.3 502.4,118.3 502.9,118.4 503.4,118.4 503.9,118.4 504.4,118.4 504.9,118.4 505.4,118.4 505.9,118.4 506.4,118.4 506.9,118.4 507.4,118.4 507.9,118.4 508.4,118.4 508.9,118.5 509.4,118.5 509.9,118.5 510.4,118.5 510.9,118.5 511.4,118.5 511.9,118.5 512.4,118.5 512.9,118.5 513.4,118.5 513.9,118.5 514.4,118.6 514.9,118.6 515.4,118.6 515.9,118.6 516.4,118.6 516.9,118.6 517.4,118.6 517.9,118.6 518.4,118.6 518.9,118.6 519.4,118.6 519.9,118.6 520.4,118.7 520.9,118.7 521.4,118.7 521.9,118.7 522.4,118.7 522.9,118.7 523.4,118.7 523.9,118.7 524.4,118.7 524.9,118.7 525.4,118.7 525.9,118.7 526.4,118.8 526.9,118.8 527.4,118.8 527.9,118.8 528.4,118.8 528.9,118.8 529.4,118.8 529.9,118.8 530.4,118.8 530.9,118.8 531.4,118.8 531.9,118.8 532.4,118.9 532.9,118.9 533.4,118.9 533.9,118.9 534.4,118.9 534.9,118.9 535.4,118.9 535.9,118.9 536.4,118.9 536.9,118.9 537.4,118.9 537.9,118.9 538.4,119.0 538.9,119.0 539.4,119.0 539.9,119.0 540.4,119.0 540.9,119.0 541.4,119.0 541.9,119.0 542.4,119.0 542.9,119.0 543.4,119.0 543.9,119.0 544.4,119.0 544.9,119.1 545.4,119.1 545.9,119.1 546.4,119.1 546.9,119.1 547.4,119.1 547.9,119.1 548.4,119.1 548.9,119.1 549.4,119.1 549.9,119.1 550.4,119.1 550.9,119.1 551.4,119.2 551.9,119.2 552.4,119.2 552.9,119.2 553.4,119.2 553.9,119.2 554.4,119.2 554.9,119.2 555.4,119.2 555.9,119.2 556.4,119.2 556.9,119.2 557.4,119.2 557.9,119.2 558.4,119.3 558.9,119.3 559.4,119.3 559.9,119.3 560.4,119.3 560.9,119.3" fill="none" stroke="#ff3030" stroke-width="1.10" stroke-linejoin="round"/>
<polyline points="394.4,117.1 394.9,117.1 395.4,117.1 395.9,117.1 396.4,117.1 396.9,117.1 397.4,117.1 397.9,117.1 398.4,117.1 398.9,117.1 399.4,117.1 399.9,117.1 400.4,117.1 400.9,117.1 401.4,117.1 401.9,117.1 402.4,117.1 402.9,117.1 403.4,117.1 403.9,117.1 404.4,117.1 404.9,117.1 405.4,117.1 405.9,117.1 406.4,117.1 406.9,117.1 407.4,117.1 407.9,117.1 408.4,117.1 408.9,117.1 409.4,117.1 409.9,117.1 410.4,117.1 410.9,117.1 411.4,117.1 411.9,117.1 412.4,117.1 412.9,117.1 413.4,117.1 413.9,117.1 414.4,117.1 414.9,117.1 415.4,117.1 415.9,117.1 416.4,117.1 416.9,117.1 417.4,117.1 417.9,117.1 418.4,117.1 418.9,117.1 419.4,117.1 419.9,117.2 420.4,117.2 420.9,117.2 421.4,117.2 421.9,117.2 422.4,117.2 422.9,117.2 423.4,117.2 423.9,117.2 424.4,117.2 424.9,117.2 425.4,117.2 425.9,117.2 426.4,117.2 426.9,117.2 427.4,117.2 427.9,117.2 428.4,117.2 428.9,117.2 429.4,117.2 429.9,117.2 430.4,117.2 430.9,117.2 431.4,117.2 431.9,117.2 432.4,117.2 432.9,117.2 433.4,117.2 433.9,117.2 434.4,117.2 434.9,117.2 435.4,117.2 435.9,117.2 436.4,117.2 436.9,117.2 437.4,117.2 437.9,117.2 438.4,117.2 438.9,117.2 439.4,117.2 439.9,117.2 440.4,117.2 440.9,117.2 441.4,117.2 441.9,117.2 442.4,117.2 442.9,117.2 443.4,117.2 443.9,117.2 444.4,117.2 444.9,117.2 445.4,117.2 445.9,117.2 446.4,117.2 446.9,117.2 447.4,117.2 447.9,117.2 448.4,117.2 448.9,117.2 449.4,117.2 449.9,117.2 450.4,117.2 450.9,117.2 451.4,117.2 451.9,117.2 452.4,117.2 452.9,117.2 453.4,117.2 453.9,117.2 454.4,117.2 454.9,117.2 455.4,117.2 455.9,117.2 456.4,117.2 456.9,117.1 457.4,117.1 457.9,117.1 458.4,117.1 458.9,117.1 459.4,117.1 459.9,117.1 460.4,117.0 460.9,117.0 461.4,117.0 461.9,117.0 462.4,116.9 462.9,116.9 463.4,116.9 463.9,116.8 464.4,116.8 464.9,116.8 465.4,116.7 465.9,116.7 466.4,116.6 466.9,116.6 467.4,116.5 467.9,116.5 468.4,116.4 468.9,116.4 469.4,116.3 469.9,116.2 470.4,116.1 470.9,116.1 471.4,116.0 471.9,115.9 472.4,115.8 472.9,115.7 473.4,115.6 473.9,115.5 474.4,115.4 474.9,115.3 475.4,115.1 475.9,115.0 476.4,114.9 476.9,114.7 477.4,114.6 477.9,114.5 478.4,114.3 478.9,114.2 479.4,114.0 479.9,113.8 480.4,113.7 480.9,113.5 481.4,113.3 481.9,113.1 482.4,112.9 482.9,112.7 483.4,112.5 483.9,112.3 484.4,112.1 484.9,111.9 485.4,111.7 485.9,111.5 486.4,111.3 486.9,111.0 487.4,110.8 487.9,110.6 488.4,110.3 488.9,110.1 489.4,109.9 489.9,109.6 490.4,109.4 490.9,109.2 491.4,108.9 491.9,108.7 492.4,108.5 492.9,108.2 493.4,108.0 493.9,107.8 494.4,107.5 494.9,107.3 495.4,107.1 495.9,106.9 496.4,106.7 496.9,106.4 497.4,106.2 497.9,106.0 498.4,105.9 498.9,105.7 499.4,105.5 499.9,105.3 500.4,105.2 500.9,105.0 501.4,104.9 501.9,104.7 502.4,104.6 502.9,104.5 503.4,104.4 503.9,104.3 504.4,104.2 504.9,104.1 505.4,104.0 505.9,104.0 506.4,103.9 506.9,103.9 507.4,103.9 507.9,103.8 508.4,103.8 508.9,103.9 509.4,103.9 509.9,103.9 510.4,104.0 510.9,104.0 511.4,104.1 511.9,104.2 512.4,104.3 512.9,104.4 513.4,104.5 513.9,104.6 514.4,104.7 514.9,104.9 515.4,105.0 515.9,105.2 516.4,105.3 516.9,105.5 517.4,105.7 517.9,105.9 518.4,106.1 518.9,106.3 519.4,106.5 519.9,106.7 520.4,106.9 520.9,107.2 521.4,107.4 521.9,107.6 522.4,107.9 522.9,108.1 523.4,108.4 523.9,108.6 524.4,108.9 524.9,109.1 525.4,109.4 525.9,109.7 526.4,109.9 526.9,110.2 527.4,110.4 527.9,110.7 528.4,110.9 528.9,111.2 529.4,111.4 529.9,111.7 530.4,111.9 530.9,112.2 531.4,112.4 531.9,112.7 532.4,112.9 532.9,113.1 533.4,113.3 533.9,113.6 534.4,113.8 534.9,114.0 535.4,114.2 535.9,114.4 536.4,114.6 536.9,114.8 537.4,115.0 537.9,115.2 538.4,115.4 538.9,115.5 539.4,115.7 539.9,115.9 540.4,116.0 540.9,116.2 541.4,116.3 541.9,116.5 542.4,116.6 542.9,116.7 543.4,116.9 543.9,117.0 544.4,117.1 544.9,117.2 545.4,117.3 545.9,117.4 546.4,117.5 546.9,117.6 547.4,117.7 547.9,117.8 548.4,117.9 548.9,118.0 549.4,118.1 549.9,118.1 550.4,118.2 550.9,118.3 551.4,118.3 551.9,118.4 552.4,118.5 552.9,118.5 553.4,118.6 553.9,118.6 554.4,118.7 554.9,118.7 555.4,118.7 555.9,118.8 556.4,118.8 556.9,118.9 557.4,118.9 557.9,118.9 558.4,119.0 558.9,119.0 559.4,119.0 559.9,119.0 560.4,119.1 560.9,119.1" fill="none" stroke="#2a2aff" stroke-width="1.15" stroke-linejoin="round"/>
<polyline points="394.4,117.1 394.9,117.1 395.4,117.1 395.9,117.1 396.4,117.1 396.9,117.1 397.4,117.1 397.9,117.1 398.4,117.1 398.9,117.1 399.4,117.1 399.9,117.1 400.4,117.1 400.9,117.1 401.4,117.1 401.9,117.1 402.4,117.0 402.9,117.0 403.4,117.0 403.9,117.0 404.4,117.0 404.9,117.0 405.4,117.0 405.9,117.0 406.4,117.0 406.9,117.0 407.4,117.0 407.9,117.0 408.4,117.0 408.9,117.0 409.4,117.0 409.9,116.9 410.4,116.9 410.9,116.9 411.4,116.9 411.9,116.9 412.4,116.9 412.9,116.9 413.4,116.8 413.9,116.8 414.4,116.8 414.9,116.8 415.4,116.8 415.9,116.7 416.4,116.7 416.9,116.7 417.4,116.7 417.9,116.6 418.4,116.6 418.9,116.6 419.4,116.5 419.9,116.5 420.4,116.5 420.9,116.4 421.4,116.4 421.9,116.3 422.4,116.3 422.9,116.2 423.4,116.2 423.9,116.1 424.4,116.1 424.9,116.0 425.4,115.9 425.9,115.9 426.4,115.8 426.9,115.7 427.4,115.6 427.9,115.6 428.4,115.5 428.9,115.4 429.4,115.3 429.9,115.2 430.4,115.1 430.9,115.0 431.4,114.9 431.9,114.8 432.4,114.6 432.9,114.5 433.4,114.4 433.9,114.3 434.4,114.1 434.9,114.0 435.4,113.9 435.9,113.7 436.4,113.5 436.9,113.4 437.4,113.2 437.9,113.1 438.4,112.9 438.9,112.7 439.4,112.5 439.9,112.3 440.4,112.1 440.9,111.9 441.4,111.7 441.9,111.5 442.4,111.3 442.9,111.1 443.4,110.9 443.9,110.6 444.4,110.4 444.9,110.2 445.4,109.9 445.9,109.7 446.4,109.4 446.9,109.2 447.4,108.9 447.9,108.6 448.4,108.4 448.9,108.1 449.4,107.8 449.9,107.5 450.4,107.3 450.9,107.0 451.4,106.7 451.9,106.4 452.4,106.1 452.9,105.8 453.4,105.5 453.9,105.2 454.4,105.0 454.9,104.7 455.4,104.4 455.9,104.1 456.4,103.8 456.9,103.5 457.4,103.2 457.9,102.9 458.4,102.6 458.9,102.3 459.4,102.1 459.9,101.8 460.4,101.5 460.9,101.2 461.4,101.0 461.9,100.7 462.4,100.4 462.9,100.2 463.4,99.9 463.9,99.7 464.4,99.4 464.9,99.2 465.4,99.0 465.9,98.8 466.4,98.6 466.9,98.4 467.4,98.2 467.9,98.0 468.4,97.8 468.9,97.6 469.4,97.5 469.9,97.3 470.4,97.2 470.9,97.1 471.4,97.0 471.9,96.8 472.4,96.8 472.9,96.7 473.4,96.6 473.9,96.5 474.4,96.5 474.9,96.4 475.4,96.4 475.9,96.4 476.4,96.4 476.9,96.4 477.4,96.4 477.9,96.4 478.4,96.5 478.9,96.5 479.4,96.6 479.9,96.7 480.4,96.8 480.9,96.9 481.4,97.0 481.9,97.1 482.4,97.3 482.9,97.5 483.4,97.6 483.9,97.8 484.4,98.0 484.9,98.2 485.4,98.4 485.9,98.7 486.4,98.9 486.9,99.2 487.4,99.4 487.9,99.7 488.4,100.0 488.9,100.3 489.4,100.6 489.9,100.9 490.4,101.2 490.9,101.5 491.4,101.8 491.9,102.1 492.4,102.4 492.9,102.8 493.4,103.1 493.9,103.4 494.4,103.8 494.9,104.1 495.4,104.4 495.9,104.8 496.4,105.1 496.9,105.5 497.4,105.8 497.9,106.2 498.4,106.5 498.9,106.8 499.4,107.2 499.9,107.5 500.4,107.8 500.9,108.2 501.4,108.5 501.9,108.8 502.4,109.1 502.9,109.4 503.4,109.7 503.9,110.0 504.4,110.3 504.9,110.6 505.4,110.9 505.9,111.2 506.4,111.5 506.9,111.8 507.4,112.0 507.9,112.3 508.4,112.5 508.9,112.8 509.4,113.0 509.9,113.3 510.4,113.5 510.9,113.7 511.4,113.9 511.9,114.2 512.4,114.4 512.9,114.6 513.4,114.7 513.9,114.9 514.4,115.1 514.9,115.3 515.4,115.5 515.9,115.6 516.4,115.8 516.9,115.9 517.4,116.1 517.9,116.2 518.4,116.3 518.9,116.5 519.4,116.6 519.9,116.7 520.4,116.8 520.9,116.9 521.4,117.0 521.9,117.1 522.4,117.2 522.9,117.3 523.4,117.4 523.9,117.5 524.4,117.6 524.9,117.7 525.4,117.7 525.9,117.8 526.4,117.9 526.9,117.9 527.4,118.0 527.9,118.1 528.4,118.1 528.9,118.2 529.4,118.2 529.9,118.3 530.4,118.3 530.9,118.4 531.4,118.4 531.9,118.4 532.4,118.5 532.9,118.5 533.4,118.5 533.9,118.6 534.4,118.6 534.9,118.6 535.4,118.7 535.9,118.7 536.4,118.7 536.9,118.7 537.4,118.8 537.9,118.8 538.4,118.8 538.9,118.8 539.4,118.8 539.9,118.9 540.4,118.9 540.9,118.9 541.4,118.9 541.9,118.9 542.4,118.9 542.9,118.9 543.4,119.0 543.9,119.0 544.4,119.0 544.9,119.0 545.4,119.0 545.9,119.0 546.4,119.0 546.9,119.0 547.4,119.1 547.9,119.1 548.4,119.1 548.9,119.1 549.4,119.1 549.9,119.1 550.4,119.1 550.9,119.1 551.4,119.1 551.9,119.1 552.4,119.2 552.9,119.2 553.4,119.2 553.9,119.2 554.4,119.2 554.9,119.2 555.4,119.2 555.9,119.2 556.4,119.2 556.9,119.2 557.4,119.2 557.9,119.2 558.4,119.3 558.9,119.3 559.4,119.3 559.9,119.3 560.4,119.3 560.9,119.3" fill="none" stroke="#ff33ff" stroke-width="1.15" stroke-linejoin="round"/>
<polyline points="394.4,117.1 394.9,117.1 395.4,117.1 395.9,117.1 396.4,117.1 396.9,117.1 397.4,117.1 397.9,117.1 398.4,117.1 398.9,117.1 399.4,117.1 399.9,117.1 400.4,117.1 400.9,117.1 401.4,117.1 401.9,117.1 402.4,117.1 402.9,117.1 403.4,117.1 403.9,117.1 404.4,117.1 404.9,117.1 405.4,117.1 405.9,117.1 406.4,117.1 406.9,117.1 407.4,117.1 407.9,117.1 408.4,117.1 408.9,117.1 409.4,117.1 409.9,117.1 410.4,117.1 410.9,117.0 411.4,117.0 411.9,117.0 412.4,117.0 412.9,117.0 413.4,117.0 413.9,117.0 414.4,116.9 414.9,116.9 415.4,116.9 415.9,116.9 416.4,116.8 416.9,116.8 417.4,116.8 417.9,116.7 418.4,116.7 418.9,116.6 419.4,116.6 419.9,116.5 420.4,116.5 420.9,116.4 421.4,116.3 421.9,116.3 422.4,116.2 422.9,116.1 423.4,116.0 423.9,115.9 424.4,115.9 424.9,115.8 425.4,115.7 425.9,115.6 426.4,115.5 426.9,115.4 427.4,115.2 427.9,115.1 428.4,115.0 428.9,114.9 429.4,114.8 429.9,114.7 430.4,114.6 430.9,114.5 431.4,114.4 431.9,114.3 432.4,114.2 432.9,114.1 433.4,114.0 433.9,113.9 434.4,113.8 434.9,113.7 435.4,113.7 435.9,113.6 436.4,113.6 436.9,113.5 437.4,113.5 437.9,113.5 438.4,113.4 438.9,113.4 439.4,113.4 439.9,113.4 440.4,113.5 440.9,113.5 441.4,113.5 441.9,113.6 442.4,113.6 442.9,113.7 443.4,113.8 443.9,113.8 444.4,113.9 444.9,114.0 445.4,114.1 445.9,114.2 446.4,114.3 446.9,114.4 447.4,114.5 447.9,114.6 448.4,114.8 448.9,114.9 449.4,115.0 449.9,115.1 450.4,115.2 450.9,115.3 451.4,115.4 451.9,115.6 452.4,115.7 452.9,115.8 453.4,115.9 453.9,116.0 454.4,116.1 454.9,116.2 455.4,116.3 455.9,116.4 456.4,116.4 456.9,116.5 457.4,116.6 457.9,116.7 458.4,116.7 458.9,116.8 459.4,116.9 459.9,116.9 460.4,117.0 460.9,117.0 461.4,117.1 461.9,117.1 462.4,117.2 462.9,117.2 463.4,117.2 463.9,117.3 464.4,117.3 464.9,117.3 465.4,117.4 465.9,117.4 466.4,117.4 466.9,117.4 467.4,117.5 467.9,117.5 468.4,117.5 468.9,117.5 469.4,117.5 469.9,117.6 470.4,117.6 470.9,117.6 471.4,117.6 471.9,117.6 472.4,117.6 472.9,117.7 473.4,117.7 473.9,117.7 474.4,117.7 474.9,117.7 475.4,117.7 475.9,117.7 476.4,117.8 476.9,117.8 477.4,117.8 477.9,117.8 478.4,117.8 478.9,117.8 479.4,117.8 479.9,117.8 480.4,117.9 480.9,117.9 481.4,117.9 481.9,117.9 482.4,117.9 482.9,117.9 483.4,117.9 483.9,117.9 484.4,118.0 484.9,118.0 485.4,118.0 485.9,118.0 486.4,118.0 486.9,118.0 487.4,118.0 487.9,118.0 488.4,118.1 488.9,118.1 489.4,118.1 489.9,118.1 490.4,118.1 490.9,118.1 491.4,118.1 491.9,118.1 492.4,118.1 492.9,118.2 493.4,118.2 493.9,118.2 494.4,118.2 494.9,118.2 495.4,118.2 495.9,118.2 496.4,118.2 496.9,118.2 497.4,118.2 497.9,118.3 498.4,118.3 498.9,118.3 499.4,118.3 499.9,118.3 500.4,118.3 500.9,118.3 501.4,118.3 501.9,118.3 502.4,118.3 502.9,118.4 503.4,118.4 503.9,118.4 504.4,118.4 504.9,118.4 505.4,118.4 505.9,118.4 506.4,118.4 506.9,118.4 507.4,118.4 507.9,118.4 508.4,118.4 508.9,118.5 509.4,118.5 509.9,118.5 510.4,118.5 510.9,118.5 511.4,118.5 511.9,118.5 512.4,118.5 512.9,118.5 513.4,118.5 513.9,118.5 514.4,118.6 514.9,118.6 515.4,118.6 515.9,118.6 516.4,118.6 516.9,118.6 517.4,118.6 517.9,118.6 518.4,118.6 518.9,118.6 519.4,118.6 519.9,118.6 520.4,118.7 520.9,118.7 521.4,118.7 521.9,118.7 522.4,118.7 522.9,118.7 523.4,118.7 523.9,118.7 524.4,118.7 524.9,118.7 525.4,118.7 525.9,118.7 526.4,118.8 526.9,118.8 527.4,118.8 527.9,118.8 528.4,118.8 528.9,118.8 529.4,118.8 529.9,118.8 530.4,118.8 530.9,118.8 531.4,118.8 531.9,118.8 532.4,118.9 532.9,118.9 533.4,118.9 533.9,118.9 534.4,118.9 534.9,118.9 535.4,118.9 535.9,118.9 536.4,118.9 536.9,118.9 537.4,118.9 537.9,118.9 538.4,119.0 538.9,119.0 539.4,119.0 539.9,119.0 540.4,119.0 540.9,119.0 541.4,119.0 541.9,119.0 542.4,119.0 542.9,119.0 543.4,119.0 543.9,119.0 544.4,119.0 544.9,119.1 545.4,119.1 545.9,119.1 546.4,119.1 546.9,119.1 547.4,119.1 547.9,119.1 548.4,119.1 548.9,119.1 549.4,119.1 549.9,119.1 550.4,119.1 550.9,119.1 551.4,119.2 551.9,119.2 552.4,119.2 552.9,119.2 553.4,119.2 553.9,119.2 554.4,119.2 554.9,119.2 555.4,119.2 555.9,119.2 556.4,119.2 556.9,119.2 557.4,119.2 557.9,119.2 558.4,119.3 558.9,119.3 559.4,119.3 559.9,119.3 560.4,119.3 560.9,119.3" fill="none" stroke="#33ee33" stroke-width="1.15" stroke-linejoin="round"/>
</g>
<rect x="393.75" y="2.45" width="167.65" height="123.15" fill="none" stroke="#111" stroke-width="1.2"/>
<line x1="394.30" y1="125.60" x2="394.30" y2="128.90" stroke="#1a1a1a" stroke-width="1"/>
<text x="394.30" y="137.80" font-size="8.20" font-weight="bold" text-anchor="middle" fill="#111" >536</text>
<line x1="431.40" y1="125.60" x2="431.40" y2="128.90" stroke="#1a1a1a" stroke-width="1"/>
<text x="431.40" y="137.80" font-size="8.20" font-weight="bold" text-anchor="middle" fill="#111" >534</text>
<line x1="468.50" y1="125.60" x2="468.50" y2="128.90" stroke="#1a1a1a" stroke-width="1"/>
<text x="468.50" y="137.80" font-size="8.20" font-weight="bold" text-anchor="middle" fill="#111" >532</text>
<line x1="505.60" y1="125.60" x2="505.60" y2="128.90" stroke="#1a1a1a" stroke-width="1"/>
<text x="505.60" y="137.80" font-size="8.20" font-weight="bold" text-anchor="middle" fill="#111" >530</text>
<line x1="542.70" y1="125.60" x2="542.70" y2="128.90" stroke="#1a1a1a" stroke-width="1"/>
<text x="542.70" y="137.80" font-size="8.20" font-weight="bold" text-anchor="middle" fill="#111" >528</text>
<line x1="412.85" y1="125.60" x2="412.85" y2="127.70" stroke="#1a1a1a" stroke-width="1"/>
<line x1="449.95" y1="125.60" x2="449.95" y2="127.70" stroke="#1a1a1a" stroke-width="1"/>
<line x1="487.05" y1="125.60" x2="487.05" y2="127.70" stroke="#1a1a1a" stroke-width="1"/>
<line x1="524.15" y1="125.60" x2="524.15" y2="127.70" stroke="#1a1a1a" stroke-width="1"/>
<line x1="560.32" y1="125.60" x2="560.32" y2="127.70" stroke="#1a1a1a" stroke-width="1"/>
<text x="379.00" y="16.00" font-size="19.00" font-weight="bold" text-anchor="start" fill="#000" >c</text>
<line x1="394.90" y1="10.30" x2="408.50" y2="10.30" stroke="#000000" stroke-width="1.35"/>
<text x="410.20" y="12.70" font-size="7.30" font-weight="bold" text-anchor="start" fill="#111" textLength="13.21" lengthAdjust="spacingAndGlyphs" >sum</text>
<line x1="394.90" y1="20.40" x2="408.50" y2="20.40" stroke="#ff3030" stroke-width="1.35"/>
<text x="410.20" y="22.80" font-size="7.30" font-weight="bold" text-anchor="start" fill="#111" textLength="37.00" lengthAdjust="spacingAndGlyphs" >background</text>
<line x1="394.90" y1="30.60" x2="408.50" y2="30.60" stroke="#2a2aff" stroke-width="1.35"/>
<text x="410.20" y="33.00" font-size="7.30" font-weight="bold" text-anchor="start" fill="#111" textLength="19.51" lengthAdjust="spacingAndGlyphs" >Ti-O-H</text>
<line x1="394.90" y1="40.60" x2="408.50" y2="40.60" stroke="#ff33ff" stroke-width="1.35"/>
<text x="410.20" y="43.00" font-size="7.30" font-weight="bold" text-anchor="start" fill="#111" textLength="12.73" lengthAdjust="spacingAndGlyphs" >Ti-O</text>
<line x1="394.90" y1="50.80" x2="408.50" y2="50.80" stroke="#33ee33" stroke-width="1.35"/>
<text x="410.20" y="53.20" font-size="7.30" font-weight="bold" text-anchor="start" fill="#111" textLength="13.21" lengthAdjust="spacingAndGlyphs" >H<tspan font-size="70%" dy="1">2</tspan><tspan dy="-1">O</tspan></text>
<text x="487.00" y="14.20" font-size="8.50" font-weight="bold" fill="#111" textLength="70.40" lengthAdjust="spacingAndGlyphs">Ti<tspan font-size="70%" dy="1.2">3</tspan><tspan dy="-1.2">C</tspan><tspan font-size="70%" dy="1.2">2</tspan><tspan dy="-1.2">T</tspan><tspan font-size="70%" dy="1.2">x</tspan><tspan dy="-1.2">(F/OH)-O 1s</tspan></text>
<text x="0" y="0" font-size="8.20" font-weight="bold" fill="#111" text-anchor="middle" textLength="49.70" lengthAdjust="spacingAndGlyphs" transform="translate(389.60,57.80) rotate(-90)">Intensity/a.u.</text>
<text x="477.30" y="147.60" font-size="8.90" font-weight="bold" text-anchor="middle" fill="#111" textLength="75.00" lengthAdjust="spacingAndGlyphs" >Binding Energy/eV</text>
<g clip-path="url(#clipd)">
<polyline points="19.0,249.1 19.5,249.0 20.0,249.0 20.5,249.0 21.0,248.9 21.5,248.8 22.0,248.8 22.5,248.7 23.0,248.7 23.5,248.6 24.0,248.5 24.5,248.5 25.0,248.4 25.5,248.3 26.0,248.2 26.5,248.1 27.0,248.0 27.5,247.9 28.0,247.8 28.5,247.7 29.0,247.5 29.5,247.4 30.0,247.2 30.5,247.1 31.0,246.9 31.5,246.7 32.0,246.5 32.5,246.3 33.0,246.0 33.5,245.8 34.0,245.5 34.5,245.2 35.0,244.9 35.5,244.6 36.0,244.2 36.5,243.9 37.0,243.5 37.5,243.0 38.0,242.6 38.5,242.1 39.0,241.6 39.5,241.1 40.0,240.6 40.5,240.0 41.0,239.4 41.5,238.8 42.0,238.2 42.5,237.5 43.0,236.8 43.5,236.1 44.0,235.4 44.5,234.7 45.0,233.9 45.5,233.1 46.0,232.4 46.5,231.6 47.0,230.8 47.5,230.1 48.0,229.3 48.5,228.5 49.0,227.8 49.5,227.1 50.0,226.3 50.5,225.7 51.0,225.0 51.5,224.4 52.0,223.9 52.5,223.4 53.0,222.9 53.5,222.5 54.0,222.2 54.5,222.0 55.0,221.8 55.5,221.7 56.0,221.7 56.5,221.8 57.0,222.0 57.5,222.2 58.0,222.6 58.5,223.0 59.0,223.5 59.5,224.0 60.0,224.6 60.5,225.3 61.0,226.0 61.5,226.7 62.0,227.5 62.5,228.3 63.0,229.1 63.5,229.9 64.0,230.8 64.5,231.6 65.0,232.5 65.5,233.3 66.0,234.2 66.5,235.0 67.0,235.8 67.5,236.6 68.0,237.4 68.5,238.2 69.0,238.9 69.5,239.6 70.0,240.3 70.5,241.0 71.0,241.6 71.5,242.2 72.0,242.8 72.5,243.3 73.0,243.8 73.5,244.3 74.0,244.7 74.5,245.2 75.0,245.6 75.5,245.9 76.0,246.3 76.5,246.6 77.0,246.9 77.5,247.2 78.0,247.4 78.5,247.6 79.0,247.8 79.5,248.0 80.0,248.2 80.5,248.4 81.0,248.5 81.5,248.6 82.0,248.8 82.5,248.9 83.0,249.0 83.5,249.0 84.0,249.1 84.5,249.1 85.0,249.2 85.5,249.2 86.0,249.2 86.5,249.2 87.0,249.2 87.5,249.2 88.0,249.2 88.5,249.1 89.0,249.1 89.5,249.0 90.0,248.9 90.5,248.8 91.0,248.7 91.5,248.5 92.0,248.4 92.5,248.2 93.0,248.1 93.5,247.8 94.0,247.6 94.5,247.3 95.0,247.0 95.5,246.7 96.0,246.3 96.5,245.8 97.0,245.3 97.5,244.7 98.0,244.1 98.5,243.3 99.0,242.5 99.5,241.5 100.0,240.4 100.5,239.2 101.0,237.9 101.5,236.4 102.0,234.7 102.5,233.0 103.0,231.0 103.5,228.9 104.0,226.6 104.5,224.1 105.0,221.5 105.5,218.8 106.0,215.8 106.5,212.8 107.0,209.6 107.5,206.3 108.0,202.9 108.5,199.5 109.0,196.0 109.5,192.5 110.0,189.1 110.5,185.7 111.0,182.4 111.5,179.2 112.0,176.2 112.5,173.5 113.0,170.9 113.5,168.7 114.0,166.8 114.5,165.3 115.0,164.3 115.5,163.6 116.0,163.4 116.5,163.7 117.0,164.5 117.5,165.9 118.0,167.7 118.5,170.0 119.0,172.7 119.5,175.8 120.0,179.1 120.5,182.6 121.0,186.3 121.5,190.1 122.0,193.9 122.5,197.8 123.0,201.6 123.5,205.5 124.0,209.2 124.5,213.0 125.0,216.6 125.5,220.1 126.0,223.4 126.5,226.6 127.0,229.6 127.5,232.5 128.0,235.2 128.5,237.7 129.0,240.0 129.5,242.1 130.0,244.1 130.5,245.8 131.0,247.4 131.5,248.8 132.0,250.1 132.5,251.1 133.0,252.0 133.5,252.8 134.0,253.4 134.5,253.9 135.0,254.3 135.5,254.5 136.0,254.7 136.5,254.7 137.0,254.7 137.5,254.6 138.0,254.4 138.5,254.1 139.0,253.9 139.5,253.6 140.0,253.3 140.5,253.0 141.0,252.7 141.5,252.4 142.0,252.2 142.5,252.0 143.0,251.9 143.5,251.9 144.0,251.9 144.5,252.0 145.0,252.1 145.5,252.3 146.0,252.4 146.5,252.6 147.0,252.7 147.5,252.8 148.0,252.8 148.5,252.8 149.0,252.7 149.5,252.5 150.0,252.2 150.5,251.9 151.0,251.5 151.5,251.0 152.0,250.5 152.5,250.0 153.0,249.5 153.5,249.0 154.0,248.7 154.5,248.4 155.0,248.3 155.5,248.4 156.0,248.6 156.5,249.0 157.0,249.6 157.5,250.4 158.0,251.3 158.5,252.3 159.0,253.4 159.5,254.6 160.0,255.7 160.5,256.9 161.0,258.1 161.5,259.3 162.0,260.4 162.5,261.4 163.0,262.4 163.5,263.3 164.0,264.1 164.5,264.8 165.0,265.5 165.5,266.1 166.0,266.6 166.5,267.0 167.0,267.4 167.5,267.7 168.0,268.0 168.5,268.3 169.0,268.5 169.5,268.7 170.0,268.9 170.5,269.0 171.0,269.2 171.5,269.3 172.0,269.4 172.5,269.5 173.0,269.6 173.5,269.7 174.0,269.8 174.5,269.8 175.0,269.9 175.5,270.0 176.0,270.0 176.5,270.1 177.0,270.1 177.5,270.2 178.0,270.3 178.5,270.3 179.0,270.3 179.5,270.4 180.0,270.4 180.5,270.5 181.0,270.5 181.5,270.5 182.0,270.6 182.5,270.6 183.0,270.6 183.5,270.6 184.0,270.7 184.5,270.7 185.0,270.7 185.5,270.7 186.0,270.7 186.5,270.7" fill="none" stroke="#000000" stroke-width="1.20" stroke-linejoin="round"/>
<polyline points="19.0,250.8 19.5,250.8 20.0,250.8 20.5,250.8 21.0,250.8 21.5,250.8 22.0,250.8 22.5,250.8 23.0,250.8 23.5,250.8 24.0,250.8 24.5,250.8 25.0,250.8 25.5,250.8 26.0,250.8 26.5,250.9 27.0,250.9 27.5,250.9 28.0,250.9 28.5,250.9 29.0,250.9 29.5,250.9 30.0,250.9 30.5,250.9 31.0,250.9 31.5,250.9 32.0,250.9 32.5,250.9 33.0,251.0 33.5,251.0 34.0,251.0 34.5,251.0 35.0,251.0 35.5,251.0 36.0,251.0 36.5,251.0 37.0,251.0 37.5,251.1 38.0,251.1 38.5,251.1 39.0,251.1 39.5,251.1 40.0,251.1 40.5,251.1 41.0,251.1 41.5,251.2 42.0,251.2 42.5,251.2 43.0,251.2 43.5,251.2 44.0,251.2 44.5,251.3 45.0,251.3 45.5,251.3 46.0,251.4 46.5,251.4 47.0,251.5 47.5,251.5 48.0,251.6 48.5,251.6 49.0,251.7 49.5,251.8 50.0,251.8 50.5,251.9 51.0,252.0 51.5,252.0 52.0,252.1 52.5,252.2 53.0,252.3 53.5,252.4 54.0,252.4 54.5,252.5 55.0,252.6 55.5,252.7 56.0,252.8 56.5,252.9 57.0,252.9 57.5,253.0 58.0,253.1 58.5,253.2 59.0,253.3 59.5,253.4 60.0,253.4 60.5,253.5 61.0,253.6 61.5,253.7 62.0,253.7 62.5,253.8 63.0,253.9 63.5,253.9 64.0,254.0 64.5,254.1 65.0,254.1 65.5,254.2 66.0,254.2 66.5,254.3 67.0,254.3 67.5,254.4 68.0,254.5 68.5,254.5 69.0,254.6 69.5,254.6 70.0,254.7 70.5,254.7 71.0,254.8 71.5,254.8 72.0,254.9 72.5,254.9 73.0,255.0 73.5,255.0 74.0,255.1 74.5,255.1 75.0,255.2 75.5,255.2 76.0,255.3 76.5,255.3 77.0,255.4 77.5,255.5 78.0,255.5 78.5,255.6 79.0,255.6 79.5,255.7 80.0,255.7 80.5,255.8 81.0,255.8 81.5,255.9 82.0,255.9 82.5,256.0 83.0,256.0 83.5,256.1 84.0,256.1 84.5,256.2 85.0,256.2 85.5,256.3 86.0,256.3 86.5,256.4 87.0,256.4 87.5,256.5 88.0,256.5 88.5,256.6 89.0,256.6 89.5,256.7 90.0,256.7 90.5,256.8 91.0,256.8 91.5,256.9 92.0,257.0 92.5,257.0 93.0,257.1 93.5,257.1 94.0,257.2 94.5,257.2 95.0,257.3 95.5,257.4 96.0,257.4 96.5,257.5 97.0,257.5 97.5,257.6 98.0,257.6 98.5,257.7 99.0,257.7 99.5,257.8 100.0,257.9 100.5,257.9 101.0,258.0 101.5,258.0 102.0,258.1 102.5,258.2 103.0,258.2 103.5,258.3 104.0,258.4 104.5,258.4 105.0,258.5 105.5,258.6 106.0,258.6 106.5,258.7 107.0,258.8 107.5,258.9 108.0,259.0 108.5,259.1 109.0,259.2 109.5,259.3 110.0,259.4 110.5,259.6 111.0,259.7 111.5,259.9 112.0,260.0 112.5,260.2 113.0,260.3 113.5,260.5 114.0,260.7 114.5,260.9 115.0,261.1 115.5,261.3 116.0,261.5 116.5,261.8 117.0,262.1 117.5,262.4 118.0,262.8 118.5,263.2 119.0,263.6 119.5,264.1 120.0,264.4 120.5,264.8 121.0,265.1 121.5,265.3 122.0,265.5 122.5,265.6 123.0,265.7 123.5,265.8 124.0,265.9 124.5,266.0 125.0,266.0 125.5,266.1 126.0,266.1 126.5,266.2 127.0,266.3 127.5,266.3 128.0,266.4 128.5,266.5 129.0,266.6 129.5,266.6 130.0,266.7 130.5,266.8 131.0,266.9 131.5,267.0 132.0,267.0 132.5,267.1 133.0,267.2 133.5,267.3 134.0,267.4 134.5,267.5 135.0,267.5 135.5,267.6 136.0,267.7 136.5,267.8 137.0,267.9 137.5,267.9 138.0,268.0 138.5,268.1 139.0,268.2 139.5,268.2 140.0,268.3 140.5,268.4 141.0,268.5 141.5,268.5 142.0,268.6 142.5,268.7 143.0,268.7 143.5,268.8 144.0,268.9 144.5,268.9 145.0,269.0 145.5,269.1 146.0,269.1 146.5,269.2 147.0,269.3 147.5,269.3 148.0,269.4 148.5,269.5 149.0,269.5 149.5,269.6 150.0,269.7 150.5,269.7 151.0,269.8 151.5,269.8 152.0,269.9 152.5,270.0 153.0,270.0 153.5,270.1 154.0,270.1 154.5,270.2 155.0,270.2 155.5,270.3 156.0,270.3 156.5,270.4 157.0,270.4 157.5,270.4 158.0,270.5 158.5,270.5 159.0,270.5 159.5,270.6 160.0,270.6 160.5,270.6 161.0,270.6 161.5,270.7 162.0,270.7 162.5,270.7 163.0,270.7 163.5,270.8 164.0,270.8 164.5,270.8 165.0,270.8 165.5,270.9 166.0,270.9 166.5,270.9 167.0,270.9 167.5,270.9 168.0,271.0 168.5,271.0 169.0,271.0 169.5,271.0 170.0,271.0 170.5,271.1 171.0,271.1 171.5,271.1 172.0,271.1 172.5,271.1 173.0,271.1 173.5,271.2 174.0,271.2 174.5,271.2 175.0,271.2 175.5,271.2 176.0,271.2 176.5,271.3 177.0,271.3 177.5,271.3 178.0,271.3 178.5,271.3 179.0,271.3 179.5,271.3 180.0,271.3 180.5,271.3 181.0,271.3 181.5,271.4 182.0,271.4 182.5,271.4 183.0,271.4 183.5,271.4 184.0,271.4 184.5,271.4 185.0,271.4 185.5,271.4 186.0,271.4 186.5,271.4" fill="none" stroke="#ff3030" stroke-width="1.10" stroke-linejoin="round"/>
<polyline points="19.0,250.8 19.5,250.8 20.0,250.8 20.5,250.8 21.0,250.8 21.5,250.8 22.0,250.8 22.5,250.8 23.0,250.8 23.5,250.8 24.0,250.8 24.5,250.8 25.0,250.8 25.5,250.8 26.0,250.8 26.5,250.8 27.0,250.9 27.5,250.9 28.0,250.9 28.5,250.9 29.0,250.9 29.5,250.9 30.0,250.9 30.5,250.9 31.0,250.9 31.5,250.9 32.0,250.9 32.5,250.9 33.0,250.9 33.5,251.0 34.0,251.0 34.5,251.0 35.0,251.0 35.5,251.0 36.0,251.0 36.5,251.0 37.0,251.0 37.5,251.0 38.0,251.1 38.5,251.1 39.0,251.1 39.5,251.1 40.0,251.1 40.5,251.1 41.0,251.1 41.5,251.1 42.0,251.2 42.5,251.2 43.0,251.2 43.5,251.2 44.0,251.2 44.5,251.3 45.0,251.3 45.5,251.3 46.0,251.4 46.5,251.4 47.0,251.5 47.5,251.5 48.0,251.6 48.5,251.6 49.0,251.7 49.5,251.8 50.0,251.8 50.5,251.9 51.0,252.0 51.5,252.0 52.0,252.1 52.5,252.2 53.0,252.3 53.5,252.4 54.0,252.4 54.5,252.5 55.0,252.6 55.5,252.7 56.0,252.8 56.5,252.9 57.0,252.9 57.5,253.0 58.0,253.1 58.5,253.2 59.0,253.3 59.5,253.3 60.0,253.4 60.5,253.5 61.0,253.6 61.5,253.7 62.0,253.7 62.5,253.8 63.0,253.9 63.5,253.9 64.0,254.0 64.5,254.0 65.0,254.1 65.5,254.2 66.0,254.2 66.5,254.3 67.0,254.3 67.5,254.4 68.0,254.4 68.5,254.5 69.0,254.6 69.5,254.6 70.0,254.7 70.5,254.7 71.0,254.8 71.5,254.8 72.0,254.9 72.5,254.9 73.0,255.0 73.5,255.0 74.0,255.1 74.5,255.1 75.0,255.1 75.5,255.2 76.0,255.2 76.5,255.3 77.0,255.3 77.5,255.3 78.0,255.4 78.5,255.4 79.0,255.4 79.5,255.4 80.0,255.4 80.5,255.4 81.0,255.4 81.5,255.4 82.0,255.4 82.5,255.4 83.0,255.4 83.5,255.3 84.0,255.3 84.5,255.2 85.0,255.2 85.5,255.1 86.0,255.0 86.5,255.0 87.0,254.9 87.5,254.8 88.0,254.7 88.5,254.7 89.0,254.6 89.5,254.5 90.0,254.4 90.5,254.4 91.0,254.3 91.5,254.2 92.0,254.2 92.5,254.2 93.0,254.2 93.5,254.2 94.0,254.2 94.5,254.2 95.0,254.3 95.5,254.3 96.0,254.4 96.5,254.5 97.0,254.6 97.5,254.8 98.0,254.9 98.5,255.0 99.0,255.2 99.5,255.4 100.0,255.5 100.5,255.7 101.0,255.9 101.5,256.1 102.0,256.3 102.5,256.5 103.0,256.7 103.5,256.9 104.0,257.1 104.5,257.3 105.0,257.4 105.5,257.6 106.0,257.8 106.5,258.0 107.0,258.1 107.5,258.3 108.0,258.5 108.5,258.6 109.0,258.8 109.5,259.0 110.0,259.1 110.5,259.3 111.0,259.5 111.5,259.6 112.0,259.8 112.5,260.0 113.0,260.2 113.5,260.4 114.0,260.6 114.5,260.8 115.0,261.0 115.5,261.2 116.0,261.4 116.5,261.7 117.0,262.0 117.5,262.3 118.0,262.7 118.5,263.1 119.0,263.6 119.5,264.0 120.0,264.4 120.5,264.7 121.0,265.0 121.5,265.3 122.0,265.4 122.5,265.5 123.0,265.6 123.5,265.7 124.0,265.8 124.5,265.9 125.0,265.9 125.5,266.0 126.0,266.0 126.5,266.1 127.0,266.1 127.5,266.2 128.0,266.3 128.5,266.3 129.0,266.4 129.5,266.5 130.0,266.6 130.5,266.6 131.0,266.7 131.5,266.8 132.0,266.9 132.5,267.0 133.0,267.0 133.5,267.1 134.0,267.2 134.5,267.3 135.0,267.3 135.5,267.4 136.0,267.5 136.5,267.5 137.0,267.6 137.5,267.7 138.0,267.7 138.5,267.8 139.0,267.8 139.5,267.9 140.0,267.9 140.5,268.0 141.0,268.0 141.5,268.0 142.0,268.0 142.5,268.0 143.0,267.9 143.5,267.9 144.0,267.8 144.5,267.6 145.0,267.5 145.5,267.2 146.0,267.0 146.5,266.6 147.0,266.2 147.5,265.7 148.0,265.2 148.5,264.5 149.0,263.8 149.5,263.0 150.0,262.2 150.5,261.3 151.0,260.3 151.5,259.4 152.0,258.4 152.5,257.4 153.0,256.6 153.5,255.7 154.0,255.0 154.5,254.5 155.0,254.1 155.5,253.8 156.0,253.8 156.5,254.0 157.0,254.4 157.5,255.0 158.0,255.7 158.5,256.5 159.0,257.5 159.5,258.5 160.0,259.5 160.5,260.6 161.0,261.6 161.5,262.6 162.0,263.6 162.5,264.5 163.0,265.3 163.5,266.1 164.0,266.8 164.5,267.4 165.0,268.0 165.5,268.4 166.0,268.8 166.5,269.2 167.0,269.5 167.5,269.7 168.0,269.9 168.5,270.1 169.0,270.2 169.5,270.4 170.0,270.5 170.5,270.5 171.0,270.6 171.5,270.7 172.0,270.7 172.5,270.8 173.0,270.8 173.5,270.9 174.0,270.9 174.5,270.9 175.0,271.0 175.5,271.0 176.0,271.0 176.5,271.0 177.0,271.1 177.5,271.1 178.0,271.1 178.5,271.1 179.0,271.1 179.5,271.2 180.0,271.2 180.5,271.2 181.0,271.2 181.5,271.2 182.0,271.2 182.5,271.2 183.0,271.2 183.5,271.3 184.0,271.3 184.5,271.3 185.0,271.3 185.5,271.3 186.0,271.3 186.5,271.3" fill="none" stroke="#33ee33" stroke-width="1.15" stroke-linejoin="round"/>
<polyline points="19.0,250.8 19.5,250.8 20.0,250.8 20.5,250.8 21.0,250.8 21.5,250.8 22.0,250.8 22.5,250.8 23.0,250.8 23.5,250.8 24.0,250.8 24.5,250.8 25.0,250.8 25.5,250.8 26.0,250.8 26.5,250.8 27.0,250.9 27.5,250.9 28.0,250.9 28.5,250.9 29.0,250.9 29.5,250.9 30.0,250.9 30.5,250.9 31.0,250.9 31.5,250.9 32.0,250.9 32.5,250.9 33.0,250.9 33.5,251.0 34.0,251.0 34.5,251.0 35.0,251.0 35.5,251.0 36.0,251.0 36.5,251.0 37.0,251.0 37.5,251.0 38.0,251.1 38.5,251.1 39.0,251.1 39.5,251.1 40.0,251.1 40.5,251.1 41.0,251.1 41.5,251.2 42.0,251.2 42.5,251.2 43.0,251.2 43.5,251.2 44.0,251.2 44.5,251.3 45.0,251.3 45.5,251.3 46.0,251.4 46.5,251.4 47.0,251.5 47.5,251.5 48.0,251.6 48.5,251.6 49.0,251.7 49.5,251.8 50.0,251.8 50.5,251.9 51.0,252.0 51.5,252.0 52.0,252.1 52.5,252.2 53.0,252.3 53.5,252.4 54.0,252.4 54.5,252.5 55.0,252.6 55.5,252.7 56.0,252.8 56.5,252.9 57.0,252.9 57.5,253.0 58.0,253.1 58.5,253.2 59.0,253.3 59.5,253.3 60.0,253.4 60.5,253.5 61.0,253.6 61.5,253.6 62.0,253.7 62.5,253.8 63.0,253.8 63.5,253.9 64.0,253.9 64.5,254.0 65.0,254.0 65.5,254.1 66.0,254.1 66.5,254.2 67.0,254.2 67.5,254.2 68.0,254.3 68.5,254.3 69.0,254.3 69.5,254.3 70.0,254.3 70.5,254.4 71.0,254.4 71.5,254.4 72.0,254.4 72.5,254.4 73.0,254.4 73.5,254.3 74.0,254.3 74.5,254.3 75.0,254.3 75.5,254.3 76.0,254.3 76.5,254.3 77.0,254.2 77.5,254.2 78.0,254.2 78.5,254.2 79.0,254.2 79.5,254.2 80.0,254.2 80.5,254.3 81.0,254.3 81.5,254.3 82.0,254.4 82.5,254.4 83.0,254.5 83.5,254.6 84.0,254.6 84.5,254.7 85.0,254.8 85.5,254.9 86.0,255.0 86.5,255.1 87.0,255.2 87.5,255.4 88.0,255.5 88.5,255.6 89.0,255.7 89.5,255.8 90.0,256.0 90.5,256.1 91.0,256.2 91.5,256.3 92.0,256.4 92.5,256.5 93.0,256.6 93.5,256.7 94.0,256.8 94.5,256.9 95.0,257.0 95.5,257.1 96.0,257.2 96.5,257.3 97.0,257.4 97.5,257.4 98.0,257.5 98.5,257.6 99.0,257.7 99.5,257.7 100.0,257.8 100.5,257.8 101.0,257.9 101.5,258.0 102.0,258.0 102.5,258.1 103.0,258.2 103.5,258.2 104.0,258.3 104.5,258.4 105.0,258.4 105.5,258.5 106.0,258.6 106.5,258.7 107.0,258.8 107.5,258.9 108.0,258.9 108.5,259.0 109.0,259.2 109.5,259.3 110.0,259.4 110.5,259.5 111.0,259.7 111.5,259.8 112.0,259.9 112.5,260.1 113.0,260.3 113.5,260.4 114.0,260.6 114.5,260.8 115.0,261.0 115.5,261.2 116.0,261.4 116.5,261.7 117.0,262.0 117.5,262.3 118.0,262.7 118.5,263.1 119.0,263.5 119.5,263.9 120.0,264.3 120.5,264.7 121.0,265.0 121.5,265.2 122.0,265.4 122.5,265.5 123.0,265.6 123.5,265.7 124.0,265.7 124.5,265.8 125.0,265.8 125.5,265.9 126.0,265.9 126.5,266.0 127.0,266.0 127.5,266.1 128.0,266.1 128.5,266.1 129.0,266.2 129.5,266.2 130.0,266.2 130.5,266.2 131.0,266.2 131.5,266.1 132.0,266.1 132.5,266.0 133.0,265.9 133.5,265.8 134.0,265.6 134.5,265.4 135.0,265.1 135.5,264.9 136.0,264.6 136.5,264.2 137.0,263.8 137.5,263.4 138.0,263.0 138.5,262.6 139.0,262.1 139.5,261.7 140.0,261.3 140.5,260.9 141.0,260.5 141.5,260.2 142.0,260.0 142.5,259.9 143.0,259.8 143.5,259.8 144.0,259.9 144.5,260.1 145.0,260.4 145.5,260.8 146.0,261.2 146.5,261.7 147.0,262.2 147.5,262.8 148.0,263.4 148.5,264.0 149.0,264.5 149.5,265.1 150.0,265.6 150.5,266.2 151.0,266.6 151.5,267.1 152.0,267.5 152.5,267.9 153.0,268.2 153.5,268.5 154.0,268.8 154.5,269.1 155.0,269.3 155.5,269.5 156.0,269.6 156.5,269.8 157.0,269.9 157.5,270.0 158.0,270.1 158.5,270.2 159.0,270.2 159.5,270.3 160.0,270.4 160.5,270.4 161.0,270.4 161.5,270.5 162.0,270.5 162.5,270.5 163.0,270.6 163.5,270.6 164.0,270.6 164.5,270.7 165.0,270.7 165.5,270.7 166.0,270.8 166.5,270.8 167.0,270.8 167.5,270.8 168.0,270.9 168.5,270.9 169.0,270.9 169.5,270.9 170.0,271.0 170.5,271.0 171.0,271.0 171.5,271.0 172.0,271.0 172.5,271.1 173.0,271.1 173.5,271.1 174.0,271.1 174.5,271.1 175.0,271.1 175.5,271.2 176.0,271.2 176.5,271.2 177.0,271.2 177.5,271.2 178.0,271.2 178.5,271.2 179.0,271.3 179.5,271.3 180.0,271.3 180.5,271.3 181.0,271.3 181.5,271.3 182.0,271.3 182.5,271.3 183.0,271.3 183.5,271.3 184.0,271.3 184.5,271.4 185.0,271.4 185.5,271.4 186.0,271.4 186.5,271.4" fill="none" stroke="#ff33ff" stroke-width="1.15" stroke-linejoin="round"/>
<polyline points="19.0,249.1 19.5,249.1 20.0,249.0 20.5,249.0 21.0,248.9 21.5,248.9 22.0,248.8 22.5,248.7 23.0,248.7 23.5,248.6 24.0,248.6 24.5,248.5 25.0,248.4 25.5,248.3 26.0,248.2 26.5,248.1 27.0,248.0 27.5,247.9 28.0,247.8 28.5,247.7 29.0,247.6 29.5,247.4 30.0,247.3 30.5,247.1 31.0,246.9 31.5,246.7 32.0,246.5 32.5,246.3 33.0,246.1 33.5,245.8 34.0,245.6 34.5,245.3 35.0,245.0 35.5,244.7 36.0,244.3 36.5,244.0 37.0,243.6 37.5,243.2 38.0,242.8 38.5,242.3 39.0,241.9 39.5,241.4 40.0,240.8 40.5,240.3 41.0,239.8 41.5,239.2 42.0,238.6 42.5,237.9 43.0,237.3 43.5,236.6 44.0,236.0 44.5,235.3 45.0,234.6 45.5,233.9 46.0,233.1 46.5,232.4 47.0,231.7 47.5,231.0 48.0,230.3 48.5,229.6 49.0,228.9 49.5,228.2 50.0,227.5 50.5,226.9 51.0,226.3 51.5,225.7 52.0,225.2 52.5,224.8 53.0,224.3 53.5,224.0 54.0,223.7 54.5,223.5 55.0,223.3 55.5,223.3 56.0,223.3 56.5,223.3 57.0,223.5 57.5,223.7 58.0,224.1 58.5,224.4 59.0,224.9 59.5,225.4 60.0,226.0 60.5,226.6 61.0,227.2 61.5,227.9 62.0,228.7 62.5,229.4 63.0,230.2 63.5,231.0 64.0,231.8 64.5,232.6 65.0,233.4 65.5,234.2 66.0,235.0 66.5,235.8 67.0,236.6 67.5,237.4 68.0,238.2 68.5,238.9 69.0,239.6 69.5,240.4 70.0,241.0 70.5,241.7 71.0,242.3 71.5,243.0 72.0,243.6 72.5,244.1 73.0,244.7 73.5,245.2 74.0,245.7 74.5,246.2 75.0,246.6 75.5,247.1 76.0,247.5 76.5,247.9 77.0,248.2 77.5,248.6 78.0,248.9 78.5,249.2 79.0,249.5 79.5,249.8 80.0,250.0 80.5,250.2 81.0,250.4 81.5,250.7 82.0,250.8 82.5,251.0 83.0,251.2 83.5,251.3 84.0,251.5 84.5,251.6 85.0,251.7 85.5,251.8 86.0,251.9 86.5,252.0 87.0,252.0 87.5,252.1 88.0,252.1 88.5,252.2 89.0,252.2 89.5,252.2 90.0,252.2 90.5,252.1 91.0,252.1 91.5,252.0 92.0,252.0 92.5,251.8 93.0,251.7 93.5,251.5 94.0,251.3 94.5,251.0 95.0,250.7 95.5,250.4 96.0,250.0 96.5,249.5 97.0,248.9 97.5,248.3 98.0,247.5 98.5,246.7 99.0,245.8 99.5,244.7 100.0,243.6 100.5,242.3 101.0,240.8 101.5,239.2 102.0,237.5 102.5,235.6 103.0,233.6 103.5,231.3 104.0,229.0 104.5,226.4 105.0,223.8 105.5,220.9 106.0,217.9 106.5,214.8 107.0,211.6 107.5,208.3 108.0,204.9 108.5,201.4 109.0,197.9 109.5,194.4 110.0,191.0 110.5,187.6 111.0,184.3 111.5,181.1 112.0,178.1 112.5,175.4 113.0,172.9 113.5,170.7 114.0,168.8 114.5,167.3 115.0,166.2 115.5,165.6 116.0,165.4 116.5,165.7 117.0,166.6 117.5,168.0 118.0,169.9 118.5,172.2 119.0,175.0 119.5,178.0 120.0,181.4 120.5,184.9 121.0,188.7 121.5,192.5 122.0,196.3 122.5,200.2 123.0,204.1 123.5,208.0 124.0,211.8 124.5,215.6 125.0,219.2 125.5,222.8 126.0,226.2 126.5,229.4 127.0,232.6 127.5,235.5 128.0,238.3 128.5,240.9 129.0,243.3 129.5,245.5 130.0,247.6 130.5,249.5 131.0,251.3 131.5,252.9 132.0,254.3 132.5,255.6 133.0,256.8 133.5,257.9 134.0,258.8 134.5,259.7 135.0,260.4 135.5,261.1 136.0,261.7 136.5,262.3 137.0,262.8 137.5,263.2 138.0,263.6 138.5,264.0 139.0,264.3 139.5,264.6 140.0,264.9 140.5,265.1 141.0,265.4 141.5,265.6 142.0,265.8 142.5,266.0 143.0,266.1 143.5,266.3 144.0,266.4 144.5,266.6 145.0,266.7 145.5,266.9 146.0,267.0 146.5,267.1 147.0,267.3 147.5,267.4 148.0,267.5 148.5,267.6 149.0,267.7 149.5,267.8 150.0,268.0 150.5,268.1 151.0,268.2 151.5,268.3 152.0,268.4 152.5,268.5 153.0,268.5 153.5,268.6 154.0,268.7 154.5,268.8 155.0,268.9 155.5,269.0 156.0,269.0 156.5,269.1 157.0,269.2 157.5,269.2 158.0,269.3 158.5,269.4 159.0,269.4 159.5,269.5 160.0,269.5 160.5,269.6 161.0,269.6 161.5,269.6 162.0,269.7 162.5,269.7 163.0,269.8 163.5,269.8 164.0,269.8 164.5,269.9 165.0,269.9 165.5,270.0 166.0,270.0 166.5,270.0 167.0,270.1 167.5,270.1 168.0,270.1 168.5,270.2 169.0,270.2 169.5,270.2 170.0,270.3 170.5,270.3 171.0,270.3 171.5,270.4 172.0,270.4 172.5,270.4 173.0,270.4 173.5,270.5 174.0,270.5 174.5,270.5 175.0,270.6 175.5,270.6 176.0,270.6 176.5,270.6 177.0,270.6 177.5,270.7 178.0,270.7 178.5,270.7 179.0,270.7 179.5,270.7 180.0,270.8 180.5,270.8 181.0,270.8 181.5,270.8 182.0,270.8 182.5,270.8 183.0,270.8 183.5,270.9 184.0,270.9 184.5,270.9 185.0,270.9 185.5,270.9 186.0,270.9 186.5,270.9" fill="none" stroke="#2a2aff" stroke-width="1.15" stroke-linejoin="round"/>
</g>
<rect x="18.40" y="153.40" width="168.50" height="123.90" fill="none" stroke="#111" stroke-width="1.2"/>
<line x1="17.90" y1="277.30" x2="17.90" y2="280.60" stroke="#1a1a1a" stroke-width="1"/>
<text x="17.90" y="289.80" font-size="8.20" font-weight="normal" text-anchor="middle" fill="#111"  stroke="#111" stroke-width="0.4">468</text>
<line x1="49.70" y1="277.30" x2="49.70" y2="280.60" stroke="#1a1a1a" stroke-width="1"/>
<text x="49.70" y="289.80" font-size="8.20" font-weight="normal" text-anchor="middle" fill="#111"  stroke="#111" stroke-width="0.4">465</text>
<line x1="81.50" y1="277.30" x2="81.50" y2="280.60" stroke="#1a1a1a" stroke-width="1"/>
<text x="81.50" y="289.80" font-size="8.20" font-weight="normal" text-anchor="middle" fill="#111"  stroke="#111" stroke-width="0.4">462</text>
<line x1="113.30" y1="277.30" x2="113.30" y2="280.60" stroke="#1a1a1a" stroke-width="1"/>
<text x="113.30" y="289.80" font-size="8.20" font-weight="normal" text-anchor="middle" fill="#111"  stroke="#111" stroke-width="0.4">459</text>
<line x1="145.10" y1="277.30" x2="145.10" y2="280.60" stroke="#1a1a1a" stroke-width="1"/>
<text x="145.10" y="289.80" font-size="8.20" font-weight="normal" text-anchor="middle" fill="#111"  stroke="#111" stroke-width="0.4">456</text>
<line x1="176.90" y1="277.30" x2="176.90" y2="280.60" stroke="#1a1a1a" stroke-width="1"/>
<text x="176.90" y="289.80" font-size="8.20" font-weight="normal" text-anchor="middle" fill="#111"  stroke="#111" stroke-width="0.4">453</text>
<line x1="33.80" y1="277.30" x2="33.80" y2="279.40" stroke="#1a1a1a" stroke-width="1"/>
<line x1="65.60" y1="277.30" x2="65.60" y2="279.40" stroke="#1a1a1a" stroke-width="1"/>
<line x1="97.40" y1="277.30" x2="97.40" y2="279.40" stroke="#1a1a1a" stroke-width="1"/>
<line x1="129.20" y1="277.30" x2="129.20" y2="279.40" stroke="#1a1a1a" stroke-width="1"/>
<line x1="161.00" y1="277.30" x2="161.00" y2="279.40" stroke="#1a1a1a" stroke-width="1"/>
<text x="5.50" y="171.80" font-size="18.50" font-weight="bold" text-anchor="start" fill="#000" >d</text>
<line x1="19.00" y1="161.50" x2="33.50" y2="161.50" stroke="#000000" stroke-width="1.15"/>
<text x="35.00" y="163.90" font-size="7.30" font-weight="bold" text-anchor="start" fill="#111" textLength="13.21" lengthAdjust="spacingAndGlyphs" >sum</text>
<line x1="19.00" y1="171.70" x2="33.50" y2="171.70" stroke="#ff3030" stroke-width="1.15"/>
<text x="35.00" y="174.10" font-size="7.30" font-weight="bold" text-anchor="start" fill="#111" textLength="37.00" lengthAdjust="spacingAndGlyphs" >background</text>
<line x1="19.00" y1="182.00" x2="33.50" y2="182.00" stroke="#33ee33" stroke-width="1.15"/>
<text x="35.00" y="184.40" font-size="7.30" font-weight="bold" text-anchor="start" fill="#111" textLength="12.37" lengthAdjust="spacingAndGlyphs" >Ti-C</text>
<line x1="19.00" y1="192.20" x2="33.50" y2="192.20" stroke="#ff33ff" stroke-width="1.15"/>
<text x="35.00" y="194.60" font-size="7.30" font-weight="bold" text-anchor="start" fill="#111" textLength="11.65" lengthAdjust="spacingAndGlyphs" >Ti-F</text>
<line x1="19.00" y1="202.40" x2="33.50" y2="202.40" stroke="#2a2aff" stroke-width="1.15"/>
<text x="35.00" y="204.80" font-size="7.30" font-weight="bold" text-anchor="start" fill="#111" textLength="12.73" lengthAdjust="spacingAndGlyphs" >Ti-O</text>
<text x="126.70" y="165.20" font-size="8.60" font-weight="bold" fill="#111" textLength="58.00" lengthAdjust="spacingAndGlyphs">Ti<tspan font-size="70%" dy="1.2">3</tspan><tspan dy="-1.2">C</tspan><tspan font-size="70%" dy="1.2">2</tspan><tspan dy="-1.2">T</tspan><tspan font-size="70%" dy="1.2">x</tspan><tspan dy="-1.2">(O)-Ti 2p</tspan></text>
<text x="0" y="0" font-size="8.20" font-weight="bold" fill="#111" text-anchor="middle" textLength="49.60" lengthAdjust="spacingAndGlyphs" transform="translate(14.20,209.20) rotate(-90)">Intensity/a.u.</text>
<text x="102.10" y="299.20" font-size="8.90" font-weight="normal" text-anchor="middle" fill="#111" textLength="74.40" lengthAdjust="spacingAndGlyphs"  stroke="#111" stroke-width="0.4">Binding Energy/eV</text>
<g clip-path="url(#clipe)">
<polyline points="206.2,262.8 206.7,262.8 207.2,262.8 207.7,262.8 208.2,262.8 208.7,262.8 209.2,262.8 209.7,262.8 210.2,262.8 210.7,262.8 211.2,262.8 211.7,262.8 212.2,262.8 212.7,262.8 213.2,262.8 213.7,262.8 214.2,262.8 214.7,262.8 215.2,262.8 215.7,262.8 216.2,262.8 216.7,262.8 217.2,262.8 217.7,262.8 218.2,262.8 218.7,262.7 219.2,262.7 219.7,262.7 220.2,262.7 220.7,262.6 221.2,262.6 221.7,262.5 222.2,262.5 222.7,262.4 223.2,262.3 223.7,262.2 224.2,262.1 224.7,262.0 225.2,261.8 225.7,261.7 226.2,261.5 226.7,261.3 227.2,261.0 227.7,260.7 228.2,260.4 228.7,260.1 229.2,259.8 229.7,259.4 230.2,259.0 230.7,258.6 231.2,258.2 231.7,257.7 232.2,257.2 232.7,256.8 233.2,256.3 233.7,255.8 234.2,255.4 234.7,255.0 235.2,254.6 235.7,254.2 236.2,253.9 236.7,253.6 237.2,253.3 237.7,253.1 238.2,253.0 238.7,252.9 239.2,252.8 239.7,252.9 240.2,253.0 240.7,253.1 241.2,253.3 241.7,253.5 242.2,253.8 242.7,254.1 243.2,254.4 243.7,254.8 244.2,255.2 244.7,255.6 245.2,256.0 245.7,256.4 246.2,256.8 246.7,257.1 247.2,257.5 247.7,257.8 248.2,258.1 248.7,258.4 249.2,258.7 249.7,258.9 250.2,259.1 250.7,259.3 251.2,259.4 251.7,259.5 252.2,259.5 252.7,259.6 253.2,259.6 253.7,259.6 254.2,259.5 254.7,259.5 255.2,259.4 255.7,259.3 256.2,259.1 256.7,259.0 257.2,258.8 257.7,258.7 258.2,258.5 258.7,258.3 259.2,258.1 259.7,257.8 260.2,257.6 260.7,257.4 261.2,257.1 261.7,256.9 262.2,256.6 262.7,256.3 263.2,256.0 263.7,255.7 264.2,255.4 264.7,255.1 265.2,254.8 265.7,254.5 266.2,254.2 266.7,253.8 267.2,253.5 267.7,253.2 268.2,252.8 268.7,252.4 269.2,252.0 269.7,251.7 270.2,251.3 270.7,250.8 271.2,250.4 271.7,250.0 272.2,249.5 272.7,249.0 273.2,248.5 273.7,248.0 274.2,247.4 274.7,246.8 275.2,246.2 275.7,245.5 276.2,244.8 276.7,244.1 277.2,243.3 277.7,242.5 278.2,241.6 278.7,240.7 279.2,239.7 279.7,238.6 280.2,237.5 280.7,236.3 281.2,235.0 281.7,233.7 282.2,232.2 282.7,230.7 283.2,229.1 283.7,227.5 284.2,225.7 284.7,223.9 285.2,222.0 285.7,220.0 286.2,217.9 286.7,215.7 287.2,213.5 287.7,211.2 288.2,208.9 288.7,206.5 289.2,204.0 289.7,201.5 290.2,198.9 290.7,196.4 291.2,193.8 291.7,191.2 292.2,188.7 292.7,186.2 293.2,183.7 293.7,181.3 294.2,178.9 294.7,176.7 295.2,174.5 295.7,172.5 296.2,170.6 296.7,168.9 297.2,167.4 297.7,166.1 298.2,165.1 298.7,164.2 299.2,163.6 299.7,163.2 300.2,163.1 300.7,163.3 301.2,163.7 301.7,164.3 302.2,165.2 302.7,166.2 303.2,167.5 303.7,168.9 304.2,170.5 304.7,172.3 305.2,174.3 305.7,176.3 306.2,178.5 306.7,180.8 307.2,183.2 307.7,185.7 308.2,188.2 308.7,190.8 309.2,193.4 309.7,196.1 310.2,198.7 310.7,201.4 311.2,204.0 311.7,206.6 312.2,209.2 312.7,211.8 313.2,214.3 313.7,216.8 314.2,219.2 314.7,221.5 315.2,223.8 315.7,226.0 316.2,228.2 316.7,230.2 317.2,232.2 317.7,234.2 318.2,236.0 318.7,237.7 319.2,239.4 319.7,241.0 320.2,242.5 320.7,243.9 321.2,245.3 321.7,246.6 322.2,247.8 322.7,248.9 323.2,250.0 323.7,251.0 324.2,251.9 324.7,252.8 325.2,253.6 325.7,254.4 326.2,255.1 326.7,255.7 327.2,256.3 327.7,256.9 328.2,257.4 328.7,257.9 329.2,258.4 329.7,258.8 330.2,259.2 330.7,259.5 331.2,259.9 331.7,260.2 332.2,260.4 332.7,260.7 333.2,260.9 333.7,261.1 334.2,261.3 334.7,261.5 335.2,261.6 335.7,261.7 336.2,261.8 336.7,261.9 337.2,261.9 337.7,261.8 338.2,261.8 338.7,261.6 339.2,261.4 339.7,261.2 340.2,260.9 340.7,260.5 341.2,260.1 341.7,259.6 342.2,259.0 342.7,258.5 343.2,257.9 343.7,257.2 344.2,256.7 344.7,256.1 345.2,255.6 345.7,255.2 346.2,254.9 346.7,254.7 347.2,254.6 347.7,254.6 348.2,254.8 348.7,255.1 349.2,255.5 349.7,256.0 350.2,256.6 350.7,257.3 351.2,258.0 351.7,258.7 352.2,259.4 352.7,260.1 353.2,260.8 353.7,261.4 354.2,262.0 354.7,262.5 355.2,263.0 355.7,263.4 356.2,263.7 356.7,264.0 357.2,264.2 357.7,264.5 358.2,264.6 358.7,264.8 359.2,264.9 359.7,265.0 360.2,265.0 360.7,265.1 361.2,265.2 361.7,265.2 362.2,265.3 362.7,265.3 363.2,265.3 363.7,265.4 364.2,265.4 364.7,265.4 365.2,265.5 365.7,265.5 366.2,265.5 366.7,265.6 367.2,265.6 367.7,265.6 368.2,265.6 368.7,265.7 369.2,265.7 369.7,265.7 370.2,265.7 370.7,265.8 371.2,265.8 371.7,265.8 372.2,265.8 372.7,265.9" fill="none" stroke="#000000" stroke-width="1.20" stroke-linejoin="round"/>
<polyline points="206.2,263.3 206.7,263.3 207.2,263.3 207.7,263.3 208.2,263.3 208.7,263.3 209.2,263.3 209.7,263.3 210.2,263.3 210.7,263.3 211.2,263.3 211.7,263.3 212.2,263.4 212.7,263.4 213.2,263.4 213.7,263.4 214.2,263.4 214.7,263.4 215.2,263.4 215.7,263.4 216.2,263.4 216.7,263.4 217.2,263.4 217.7,263.4 218.2,263.4 218.7,263.4 219.2,263.4 219.7,263.4 220.2,263.4 220.7,263.4 221.2,263.4 221.7,263.4 222.2,263.5 222.7,263.5 223.2,263.5 223.7,263.5 224.2,263.5 224.7,263.5 225.2,263.5 225.7,263.5 226.2,263.5 226.7,263.5 227.2,263.5 227.7,263.5 228.2,263.5 228.7,263.5 229.2,263.5 229.7,263.5 230.2,263.6 230.7,263.6 231.2,263.6 231.7,263.6 232.2,263.6 232.7,263.6 233.2,263.6 233.7,263.6 234.2,263.6 234.7,263.6 235.2,263.6 235.7,263.6 236.2,263.6 236.7,263.6 237.2,263.7 237.7,263.7 238.2,263.7 238.7,263.7 239.2,263.7 239.7,263.7 240.2,263.7 240.7,263.7 241.2,263.7 241.7,263.7 242.2,263.7 242.7,263.7 243.2,263.7 243.7,263.7 244.2,263.8 244.7,263.8 245.2,263.8 245.7,263.8 246.2,263.8 246.7,263.8 247.2,263.8 247.7,263.8 248.2,263.8 248.7,263.8 249.2,263.8 249.7,263.8 250.2,263.9 250.7,263.9 251.2,263.9 251.7,263.9 252.2,263.9 252.7,263.9 253.2,263.9 253.7,263.9 254.2,263.9 254.7,263.9 255.2,263.9 255.7,263.9 256.2,264.0 256.7,264.0 257.2,264.0 257.7,264.0 258.2,264.0 258.7,264.0 259.2,264.0 259.7,264.0 260.2,264.0 260.7,264.0 261.2,264.0 261.7,264.0 262.2,264.1 262.7,264.1 263.2,264.1 263.7,264.1 264.2,264.1 264.7,264.1 265.2,264.1 265.7,264.1 266.2,264.1 266.7,264.1 267.2,264.1 267.7,264.2 268.2,264.2 268.7,264.2 269.2,264.2 269.7,264.2 270.2,264.2 270.7,264.2 271.2,264.2 271.7,264.2 272.2,264.2 272.7,264.3 273.2,264.3 273.7,264.3 274.2,264.3 274.7,264.3 275.2,264.3 275.7,264.3 276.2,264.3 276.7,264.3 277.2,264.3 277.7,264.4 278.2,264.4 278.7,264.4 279.2,264.4 279.7,264.4 280.2,264.4 280.7,264.4 281.2,264.4 281.7,264.5 282.2,264.5 282.7,264.5 283.2,264.5 283.7,264.5 284.2,264.5 284.7,264.5 285.2,264.5 285.7,264.6 286.2,264.6 286.7,264.6 287.2,264.6 287.7,264.6 288.2,264.6 288.7,264.6 289.2,264.6 289.7,264.7 290.2,264.7 290.7,264.7 291.2,264.7 291.7,264.7 292.2,264.7 292.7,264.7 293.2,264.8 293.7,264.8 294.2,264.8 294.7,264.8 295.2,264.8 295.7,264.8 296.2,264.8 296.7,264.9 297.2,264.9 297.7,264.9 298.2,264.9 298.7,264.9 299.2,264.9 299.7,264.9 300.2,265.0 300.7,265.0 301.2,265.0 301.7,265.0 302.2,265.0 302.7,265.0 303.2,265.0 303.7,265.1 304.2,265.1 304.7,265.1 305.2,265.1 305.7,265.1 306.2,265.1 306.7,265.1 307.2,265.2 307.7,265.2 308.2,265.2 308.7,265.2 309.2,265.2 309.7,265.2 310.2,265.2 310.7,265.3 311.2,265.3 311.7,265.3 312.2,265.3 312.7,265.3 313.2,265.3 313.7,265.3 314.2,265.3 314.7,265.4 315.2,265.4 315.7,265.4 316.2,265.4 316.7,265.4 317.2,265.4 317.7,265.4 318.2,265.5 318.7,265.5 319.2,265.5 319.7,265.5 320.2,265.5 320.7,265.5 321.2,265.5 321.7,265.5 322.2,265.6 322.7,265.6 323.2,265.6 323.7,265.6 324.2,265.6 324.7,265.6 325.2,265.6 325.7,265.6 326.2,265.7 326.7,265.7 327.2,265.7 327.7,265.7 328.2,265.7 328.7,265.7 329.2,265.7 329.7,265.7 330.2,265.8 330.7,265.8 331.2,265.8 331.7,265.8 332.2,265.8 332.7,265.8 333.2,265.8 333.7,265.8 334.2,265.9 334.7,265.9 335.2,265.9 335.7,265.9 336.2,265.9 336.7,265.9 337.2,265.9 337.7,265.9 338.2,266.0 338.7,266.0 339.2,266.0 339.7,266.0 340.2,266.0 340.7,266.0 341.2,266.0 341.7,266.0 342.2,266.1 342.7,266.1 343.2,266.1 343.7,266.1 344.2,266.1 344.7,266.1 345.2,266.1 345.7,266.1 346.2,266.1 346.7,266.2 347.2,266.2 347.7,266.2 348.2,266.2 348.7,266.2 349.2,266.2 349.7,266.2 350.2,266.2 350.7,266.3 351.2,266.3 351.7,266.3 352.2,266.3 352.7,266.3 353.2,266.3 353.7,266.3 354.2,266.3 354.7,266.4 355.2,266.4 355.7,266.4 356.2,266.4 356.7,266.4 357.2,266.4 357.7,266.4 358.2,266.4 358.7,266.5 359.2,266.5 359.7,266.5 360.2,266.5 360.7,266.5 361.2,266.5 361.7,266.5 362.2,266.5 362.7,266.5 363.2,266.6 363.7,266.6 364.2,266.6 364.7,266.6 365.2,266.6 365.7,266.6 366.2,266.6 366.7,266.6 367.2,266.7 367.7,266.7 368.2,266.7 368.7,266.7 369.2,266.7 369.7,266.7 370.2,266.7 370.7,266.7 371.2,266.8 371.7,266.8 372.2,266.8 372.7,266.8" fill="none" stroke="#ff3030" stroke-width="1.10" stroke-linejoin="round"/>
<polyline points="206.2,263.3 206.7,263.3 207.2,263.3 207.7,263.3 208.2,263.3 208.7,263.3 209.2,263.3 209.7,263.3 210.2,263.3 210.7,263.3 211.2,263.3 211.7,263.3 212.2,263.4 212.7,263.4 213.2,263.4 213.7,263.4 214.2,263.4 214.7,263.4 215.2,263.4 215.7,263.4 216.2,263.4 216.7,263.4 217.2,263.4 217.7,263.4 218.2,263.4 218.7,263.4 219.2,263.4 219.7,263.4 220.2,263.4 220.7,263.4 221.2,263.4 221.7,263.4 222.2,263.5 222.7,263.5 223.2,263.5 223.7,263.5 224.2,263.5 224.7,263.5 225.2,263.5 225.7,263.5 226.2,263.5 226.7,263.5 227.2,263.5 227.7,263.5 228.2,263.5 228.7,263.5 229.2,263.5 229.7,263.5 230.2,263.6 230.7,263.6 231.2,263.6 231.7,263.6 232.2,263.6 232.7,263.6 233.2,263.6 233.7,263.6 234.2,263.6 234.7,263.6 235.2,263.6 235.7,263.6 236.2,263.6 236.7,263.6 237.2,263.7 237.7,263.7 238.2,263.7 238.7,263.7 239.2,263.7 239.7,263.7 240.2,263.7 240.7,263.7 241.2,263.7 241.7,263.7 242.2,263.7 242.7,263.7 243.2,263.7 243.7,263.7 244.2,263.8 244.7,263.8 245.2,263.8 245.7,263.8 246.2,263.8 246.7,263.8 247.2,263.8 247.7,263.8 248.2,263.8 248.7,263.8 249.2,263.8 249.7,263.8 250.2,263.9 250.7,263.9 251.2,263.9 251.7,263.9 252.2,263.9 252.7,263.9 253.2,263.9 253.7,263.9 254.2,263.9 254.7,263.9 255.2,263.9 255.7,263.9 256.2,264.0 256.7,264.0 257.2,264.0 257.7,264.0 258.2,264.0 258.7,264.0 259.2,264.0 259.7,264.0 260.2,264.0 260.7,264.0 261.2,264.0 261.7,264.0 262.2,264.1 262.7,264.1 263.2,264.1 263.7,264.1 264.2,264.1 264.7,264.1 265.2,264.1 265.7,264.1 266.2,264.1 266.7,264.1 267.2,264.1 267.7,264.2 268.2,264.2 268.7,264.2 269.2,264.2 269.7,264.2 270.2,264.2 270.7,264.2 271.2,264.2 271.7,264.2 272.2,264.2 272.7,264.3 273.2,264.3 273.7,264.3 274.2,264.3 274.7,264.3 275.2,264.3 275.7,264.3 276.2,264.3 276.7,264.3 277.2,264.3 277.7,264.4 278.2,264.4 278.7,264.4 279.2,264.4 279.7,264.4 280.2,264.4 280.7,264.4 281.2,264.4 281.7,264.5 282.2,264.5 282.7,264.5 283.2,264.5 283.7,264.5 284.2,264.5 284.7,264.5 285.2,264.5 285.7,264.6 286.2,264.6 286.7,264.6 287.2,264.6 287.7,264.6 288.2,264.6 288.7,264.6 289.2,264.6 289.7,264.7 290.2,264.7 290.7,264.7 291.2,264.7 291.7,264.7 292.2,264.7 292.7,264.7 293.2,264.8 293.7,264.8 294.2,264.8 294.7,264.8 295.2,264.8 295.7,264.8 296.2,264.8 296.7,264.9 297.2,264.9 297.7,264.9 298.2,264.9 298.7,264.9 299.2,264.9 299.7,264.9 300.2,265.0 300.7,265.0 301.2,265.0 301.7,265.0 302.2,265.0 302.7,265.0 303.2,265.0 303.7,265.1 304.2,265.1 304.7,265.1 305.2,265.1 305.7,265.1 306.2,265.1 306.7,265.1 307.2,265.2 307.7,265.2 308.2,265.2 308.7,265.2 309.2,265.2 309.7,265.2 310.2,265.2 310.7,265.3 311.2,265.3 311.7,265.3 312.2,265.3 312.7,265.3 313.2,265.3 313.7,265.3 314.2,265.3 314.7,265.4 315.2,265.4 315.7,265.4 316.2,265.4 316.7,265.4 317.2,265.4 317.7,265.4 318.2,265.5 318.7,265.5 319.2,265.5 319.7,265.5 320.2,265.5 320.7,265.5 321.2,265.5 321.7,265.5 322.2,265.6 322.7,265.6 323.2,265.6 323.7,265.6 324.2,265.6 324.7,265.6 325.2,265.6 325.7,265.6 326.2,265.7 326.7,265.7 327.2,265.7 327.7,265.7 328.2,265.7 328.7,265.7 329.2,265.7 329.7,265.7 330.2,265.8 330.7,265.8 331.2,265.8 331.7,265.8 332.2,265.8 332.7,265.8 333.2,265.8 333.7,265.8 334.2,265.8 334.7,265.8 335.2,265.7 335.7,265.7 336.2,265.6 336.7,265.5 337.2,265.4 337.7,265.3 338.2,265.1 338.7,264.9 339.2,264.6 339.7,264.2 340.2,263.8 340.7,263.4 341.2,262.9 341.7,262.3 342.2,261.7 342.7,261.0 343.2,260.4 343.7,259.7 344.2,259.1 344.7,258.5 345.2,257.9 345.7,257.5 346.2,257.1 346.7,256.8 347.2,256.7 347.7,256.7 348.2,256.8 348.7,257.1 349.2,257.5 349.7,257.9 350.2,258.5 350.7,259.1 351.2,259.8 351.7,260.5 352.2,261.1 352.7,261.8 353.2,262.5 353.7,263.1 354.2,263.6 354.7,264.1 355.2,264.5 355.7,264.9 356.2,265.2 356.7,265.5 357.2,265.7 357.7,265.9 358.2,266.0 358.7,266.2 359.2,266.3 359.7,266.3 360.2,266.4 360.7,266.4 361.2,266.5 361.7,266.5 362.2,266.5 362.7,266.5 363.2,266.6 363.7,266.6 364.2,266.6 364.7,266.6 365.2,266.6 365.7,266.6 366.2,266.6 366.7,266.6 367.2,266.7 367.7,266.7 368.2,266.7 368.7,266.7 369.2,266.7 369.7,266.7 370.2,266.7 370.7,266.7 371.2,266.8 371.7,266.8 372.2,266.8 372.7,266.8" fill="none" stroke="#2a2aff" stroke-width="1.15" stroke-linejoin="round"/>
<polyline points="206.2,262.8 206.7,262.8 207.2,262.8 207.7,262.8 208.2,262.8 208.7,262.8 209.2,262.8 209.7,262.8 210.2,262.8 210.7,262.8 211.2,262.8 211.7,262.8 212.2,262.8 212.7,262.8 213.2,262.8 213.7,262.8 214.2,262.8 214.7,262.8 215.2,262.8 215.7,262.8 216.2,262.8 216.7,262.8 217.2,262.8 217.7,262.8 218.2,262.8 218.7,262.8 219.2,262.8 219.7,262.8 220.2,262.8 220.7,262.8 221.2,262.8 221.7,262.8 222.2,262.8 222.7,262.8 223.2,262.8 223.7,262.8 224.2,262.8 224.7,262.8 225.2,262.8 225.7,262.8 226.2,262.8 226.7,262.8 227.2,262.7 227.7,262.7 228.2,262.7 228.7,262.7 229.2,262.7 229.7,262.7 230.2,262.7 230.7,262.7 231.2,262.7 231.7,262.7 232.2,262.7 232.7,262.7 233.2,262.7 233.7,262.7 234.2,262.7 234.7,262.7 235.2,262.7 235.7,262.7 236.2,262.6 236.7,262.6 237.2,262.6 237.7,262.6 238.2,262.6 238.7,262.6 239.2,262.6 239.7,262.6 240.2,262.6 240.7,262.6 241.2,262.6 241.7,262.5 242.2,262.5 242.7,262.5 243.2,262.5 243.7,262.5 244.2,262.5 244.7,262.5 245.2,262.4 245.7,262.4 246.2,262.4 246.7,262.4 247.2,262.4 247.7,262.4 248.2,262.3 248.7,262.3 249.2,262.3 249.7,262.3 250.2,262.3 250.7,262.2 251.2,262.2 251.7,262.2 252.2,262.2 252.7,262.1 253.2,262.1 253.7,262.1 254.2,262.1 254.7,262.0 255.2,262.0 255.7,262.0 256.2,261.9 256.7,261.9 257.2,261.9 257.7,261.8 258.2,261.8 258.7,261.7 259.2,261.7 259.7,261.7 260.2,261.6 260.7,261.5 261.2,261.5 261.7,261.4 262.2,261.4 262.7,261.3 263.2,261.2 263.7,261.2 264.2,261.1 264.7,261.0 265.2,260.9 265.7,260.8 266.2,260.7 266.7,260.6 267.2,260.4 267.7,260.3 268.2,260.1 268.7,260.0 269.2,259.8 269.7,259.6 270.2,259.4 270.7,259.2 271.2,258.9 271.7,258.6 272.2,258.3 272.7,258.0 273.2,257.6 273.7,257.2 274.2,256.8 274.7,256.3 275.2,255.8 275.7,255.2 276.2,254.6 276.7,253.9 277.2,253.2 277.7,252.4 278.2,251.5 278.7,250.6 279.2,249.6 279.7,248.5 280.2,247.4 280.7,246.1 281.2,244.8 281.7,243.4 282.2,241.9 282.7,240.4 283.2,238.7 283.7,236.9 284.2,235.1 284.7,233.1 285.2,231.1 285.7,229.0 286.2,226.8 286.7,224.5 287.2,222.1 287.7,219.7 288.2,217.2 288.7,214.6 289.2,212.0 289.7,209.3 290.2,206.6 290.7,203.8 291.2,201.1 291.7,198.3 292.2,195.6 292.7,192.9 293.2,190.2 293.7,187.6 294.2,185.1 294.7,182.6 295.2,180.3 295.7,178.1 296.2,176.0 296.7,174.1 297.2,172.4 297.7,170.9 298.2,169.7 298.7,168.6 299.2,167.8 299.7,167.3 300.2,167.0 300.7,167.0 301.2,167.2 301.7,167.7 302.2,168.3 302.7,169.2 303.2,170.3 303.7,171.6 304.2,173.0 304.7,174.7 305.2,176.4 305.7,178.4 306.2,180.4 306.7,182.6 307.2,184.9 307.7,187.2 308.2,189.6 308.7,192.1 309.2,194.6 309.7,197.2 310.2,199.7 310.7,202.3 311.2,204.8 311.7,207.4 312.2,209.9 312.7,212.4 313.2,214.9 313.7,217.3 314.2,219.6 314.7,222.0 315.2,224.2 315.7,226.4 316.2,228.5 316.7,230.5 317.2,232.5 317.7,234.4 318.2,236.2 318.7,237.9 319.2,239.6 319.7,241.1 320.2,242.6 320.7,244.0 321.2,245.4 321.7,246.7 322.2,247.8 322.7,249.0 323.2,250.0 323.7,251.0 324.2,252.0 324.7,252.8 325.2,253.6 325.7,254.4 326.2,255.1 326.7,255.8 327.2,256.4 327.7,256.9 328.2,257.5 328.7,257.9 329.2,258.4 329.7,258.8 330.2,259.2 330.7,259.5 331.2,259.9 331.7,260.2 332.2,260.5 332.7,260.7 333.2,261.0 333.7,261.2 334.2,261.4 334.7,261.6 335.2,261.8 335.7,261.9 336.2,262.1 336.7,262.2 337.2,262.4 337.7,262.5 338.2,262.6 338.7,262.7 339.2,262.8 339.7,263.0 340.2,263.0 340.7,263.1 341.2,263.2 341.7,263.3 342.2,263.4 342.7,263.5 343.2,263.5 343.7,263.6 344.2,263.7 344.7,263.7 345.2,263.8 345.7,263.9 346.2,263.9 346.7,264.0 347.2,264.1 347.7,264.1 348.2,264.2 348.7,264.2 349.2,264.3 349.7,264.3 350.2,264.4 350.7,264.4 351.2,264.5 351.7,264.5 352.2,264.5 352.7,264.6 353.2,264.6 353.7,264.7 354.2,264.7 354.7,264.8 355.2,264.8 355.7,264.8 356.2,264.9 356.7,264.9 357.2,264.9 357.7,265.0 358.2,265.0 358.7,265.1 359.2,265.1 359.7,265.1 360.2,265.2 360.7,265.2 361.2,265.2 361.7,265.3 362.2,265.3 362.7,265.3 363.2,265.3 363.7,265.4 364.2,265.4 364.7,265.4 365.2,265.5 365.7,265.5 366.2,265.5 366.7,265.6 367.2,265.6 367.7,265.6 368.2,265.6 368.7,265.7 369.2,265.7 369.7,265.7 370.2,265.7 370.7,265.8 371.2,265.8 371.7,265.8 372.2,265.8 372.7,265.9" fill="none" stroke="#ff33ff" stroke-width="1.15" stroke-linejoin="round"/>
<polyline points="206.2,263.3 206.7,263.3 207.2,263.3 207.7,263.3 208.2,263.3 208.7,263.3 209.2,263.3 209.7,263.3 210.2,263.3 210.7,263.3 211.2,263.3 211.7,263.3 212.2,263.4 212.7,263.4 213.2,263.4 213.7,263.4 214.2,263.4 214.7,263.4 215.2,263.4 215.7,263.4 216.2,263.4 216.7,263.4 217.2,263.4 217.7,263.4 218.2,263.4 218.7,263.4 219.2,263.4 219.7,263.4 220.2,263.4 220.7,263.4 221.2,263.4 221.7,263.4 222.2,263.5 222.7,263.5 223.2,263.5 223.7,263.5 224.2,263.5 224.7,263.5 225.2,263.5 225.7,263.5 226.2,263.5 226.7,263.5 227.2,263.5 227.7,263.5 228.2,263.5 228.7,263.5 229.2,263.5 229.7,263.5 230.2,263.5 230.7,263.5 231.2,263.5 231.7,263.5 232.2,263.6 232.7,263.6 233.2,263.6 233.7,263.6 234.2,263.6 234.7,263.6 235.2,263.6 235.7,263.6 236.2,263.6 236.7,263.6 237.2,263.6 237.7,263.5 238.2,263.5 238.7,263.5 239.2,263.5 239.7,263.5 240.2,263.5 240.7,263.5 241.2,263.5 241.7,263.5 242.2,263.4 242.7,263.4 243.2,263.4 243.7,263.4 244.2,263.4 244.7,263.3 245.2,263.3 245.7,263.2 246.2,263.2 246.7,263.2 247.2,263.1 247.7,263.1 248.2,263.0 248.7,262.9 249.2,262.9 249.7,262.8 250.2,262.7 250.7,262.7 251.2,262.6 251.7,262.5 252.2,262.4 252.7,262.3 253.2,262.2 253.7,262.1 254.2,261.9 254.7,261.8 255.2,261.7 255.7,261.5 256.2,261.4 256.7,261.3 257.2,261.1 257.7,260.9 258.2,260.8 258.7,260.6 259.2,260.4 259.7,260.3 260.2,260.1 260.7,259.9 261.2,259.7 261.7,259.5 262.2,259.3 262.7,259.1 263.2,258.9 263.7,258.7 264.2,258.5 264.7,258.3 265.2,258.0 265.7,257.8 266.2,257.6 266.7,257.4 267.2,257.2 267.7,257.0 268.2,256.8 268.7,256.6 269.2,256.4 269.7,256.2 270.2,256.1 270.7,255.9 271.2,255.7 271.7,255.6 272.2,255.4 272.7,255.3 273.2,255.2 273.7,255.1 274.2,255.0 274.7,254.9 275.2,254.8 275.7,254.7 276.2,254.7 276.7,254.6 277.2,254.6 277.7,254.6 278.2,254.6 278.7,254.6 279.2,254.6 279.7,254.6 280.2,254.7 280.7,254.8 281.2,254.8 281.7,254.9 282.2,255.0 282.7,255.1 283.2,255.3 283.7,255.4 284.2,255.5 284.7,255.7 285.2,255.9 285.7,256.0 286.2,256.2 286.7,256.4 287.2,256.6 287.7,256.8 288.2,257.0 288.7,257.2 289.2,257.5 289.7,257.7 290.2,257.9 290.7,258.1 291.2,258.4 291.7,258.6 292.2,258.8 292.7,259.1 293.2,259.3 293.7,259.5 294.2,259.8 294.7,260.0 295.2,260.2 295.7,260.4 296.2,260.6 296.7,260.9 297.2,261.1 297.7,261.3 298.2,261.5 298.7,261.7 299.2,261.9 299.7,262.0 300.2,262.2 300.7,262.4 301.2,262.6 301.7,262.7 302.2,262.9 302.7,263.0 303.2,263.2 303.7,263.3 304.2,263.4 304.7,263.6 305.2,263.7 305.7,263.8 306.2,263.9 306.7,264.0 307.2,264.1 307.7,264.2 308.2,264.3 308.7,264.4 309.2,264.4 309.7,264.5 310.2,264.6 310.7,264.7 311.2,264.7 311.7,264.8 312.2,264.8 312.7,264.9 313.2,264.9 313.7,265.0 314.2,265.0 314.7,265.1 315.2,265.1 315.7,265.2 316.2,265.2 316.7,265.2 317.2,265.3 317.7,265.3 318.2,265.3 318.7,265.3 319.2,265.4 319.7,265.4 320.2,265.4 320.7,265.4 321.2,265.5 321.7,265.5 322.2,265.5 322.7,265.5 323.2,265.5 323.7,265.6 324.2,265.6 324.7,265.6 325.2,265.6 325.7,265.6 326.2,265.6 326.7,265.6 327.2,265.7 327.7,265.7 328.2,265.7 328.7,265.7 329.2,265.7 329.7,265.7 330.2,265.7 330.7,265.8 331.2,265.8 331.7,265.8 332.2,265.8 332.7,265.8 333.2,265.8 333.7,265.8 334.2,265.9 334.7,265.9 335.2,265.9 335.7,265.9 336.2,265.9 336.7,265.9 337.2,265.9 337.7,265.9 338.2,266.0 338.7,266.0 339.2,266.0 339.7,266.0 340.2,266.0 340.7,266.0 341.2,266.0 341.7,266.0 342.2,266.1 342.7,266.1 343.2,266.1 343.7,266.1 344.2,266.1 344.7,266.1 345.2,266.1 345.7,266.1 346.2,266.1 346.7,266.2 347.2,266.2 347.7,266.2 348.2,266.2 348.7,266.2 349.2,266.2 349.7,266.2 350.2,266.2 350.7,266.3 351.2,266.3 351.7,266.3 352.2,266.3 352.7,266.3 353.2,266.3 353.7,266.3 354.2,266.3 354.7,266.4 355.2,266.4 355.7,266.4 356.2,266.4 356.7,266.4 357.2,266.4 357.7,266.4 358.2,266.4 358.7,266.5 359.2,266.5 359.7,266.5 360.2,266.5 360.7,266.5 361.2,266.5 361.7,266.5 362.2,266.5 362.7,266.5 363.2,266.6 363.7,266.6 364.2,266.6 364.7,266.6 365.2,266.6 365.7,266.6 366.2,266.6 366.7,266.6 367.2,266.7 367.7,266.7 368.2,266.7 368.7,266.7 369.2,266.7 369.7,266.7 370.2,266.7 370.7,266.7 371.2,266.8 371.7,266.8 372.2,266.8 372.7,266.8" fill="none" stroke="#33ee33" stroke-width="1.15" stroke-linejoin="round"/>
<polyline points="206.2,263.3 206.7,263.3 207.2,263.3 207.7,263.3 208.2,263.3 208.7,263.3 209.2,263.3 209.7,263.3 210.2,263.3 210.7,263.3 211.2,263.3 211.7,263.3 212.2,263.4 212.7,263.4 213.2,263.4 213.7,263.4 214.2,263.4 214.7,263.4 215.2,263.4 215.7,263.4 216.2,263.4 216.7,263.4 217.2,263.4 217.7,263.4 218.2,263.4 218.7,263.4 219.2,263.3 219.7,263.3 220.2,263.3 220.7,263.3 221.2,263.3 221.7,263.2 222.2,263.2 222.7,263.1 223.2,263.0 223.7,262.9 224.2,262.8 224.7,262.7 225.2,262.6 225.7,262.4 226.2,262.2 226.7,262.0 227.2,261.8 227.7,261.5 228.2,261.2 228.7,260.9 229.2,260.6 229.7,260.2 230.2,259.9 230.7,259.5 231.2,259.0 231.7,258.6 232.2,258.2 232.7,257.7 233.2,257.3 233.7,256.8 234.2,256.4 234.7,256.0 235.2,255.6 235.7,255.2 236.2,254.9 236.7,254.6 237.2,254.4 237.7,254.3 238.2,254.1 238.7,254.1 239.2,254.1 239.7,254.1 240.2,254.3 240.7,254.4 241.2,254.7 241.7,254.9 242.2,255.3 242.7,255.6 243.2,256.0 243.7,256.4 244.2,256.9 244.7,257.3 245.2,257.8 245.7,258.3 246.2,258.7 246.7,259.2 247.2,259.6 247.7,260.0 248.2,260.4 248.7,260.8 249.2,261.2 249.7,261.5 250.2,261.8 250.7,262.1 251.2,262.3 251.7,262.6 252.2,262.8 252.7,262.9 253.2,263.1 253.7,263.2 254.2,263.4 254.7,263.5 255.2,263.6 255.7,263.6 256.2,263.7 256.7,263.8 257.2,263.8 257.7,263.9 258.2,263.9 258.7,263.9 259.2,263.9 259.7,264.0 260.2,264.0 260.7,264.0 261.2,264.0 261.7,264.0 262.2,264.0 262.7,264.1 263.2,264.1 263.7,264.1 264.2,264.1 264.7,264.1 265.2,264.1 265.7,264.1 266.2,264.1 266.7,264.1 267.2,264.1 267.7,264.2 268.2,264.2 268.7,264.2 269.2,264.2 269.7,264.2 270.2,264.2 270.7,264.2 271.2,264.2 271.7,264.2 272.2,264.2 272.7,264.3 273.2,264.3 273.7,264.3 274.2,264.3 274.7,264.3 275.2,264.3 275.7,264.3 276.2,264.3 276.7,264.3 277.2,264.3 277.7,264.4 278.2,264.4 278.7,264.4 279.2,264.4 279.7,264.4 280.2,264.4 280.7,264.4 281.2,264.4 281.7,264.5 282.2,264.5 282.7,264.5 283.2,264.5 283.7,264.5 284.2,264.5 284.7,264.5 285.2,264.5 285.7,264.6 286.2,264.6 286.7,264.6 287.2,264.6 287.7,264.6 288.2,264.6 288.7,264.6 289.2,264.6 289.7,264.7 290.2,264.7 290.7,264.7 291.2,264.7 291.7,264.7 292.2,264.7 292.7,264.7 293.2,264.8 293.7,264.8 294.2,264.8 294.7,264.8 295.2,264.8 295.7,264.8 296.2,264.8 296.7,264.9 297.2,264.9 297.7,264.9 298.2,264.9 298.7,264.9 299.2,264.9 299.7,264.9 300.2,265.0 300.7,265.0 301.2,265.0 301.7,265.0 302.2,265.0 302.7,265.0 303.2,265.0 303.7,265.1 304.2,265.1 304.7,265.1 305.2,265.1 305.7,265.1 306.2,265.1 306.7,265.1 307.2,265.2 307.7,265.2 308.2,265.2 308.7,265.2 309.2,265.2 309.7,265.2 310.2,265.2 310.7,265.3 311.2,265.3 311.7,265.3 312.2,265.3 312.7,265.3 313.2,265.3 313.7,265.3 314.2,265.3 314.7,265.4 315.2,265.4 315.7,265.4 316.2,265.4 316.7,265.4 317.2,265.4 317.7,265.4 318.2,265.5 318.7,265.5 319.2,265.5 319.7,265.5 320.2,265.5 320.7,265.5 321.2,265.5 321.7,265.5 322.2,265.6 322.7,265.6 323.2,265.6 323.7,265.6 324.2,265.6 324.7,265.6 325.2,265.6 325.7,265.6 326.2,265.7 326.7,265.7 327.2,265.7 327.7,265.7 328.2,265.7 328.7,265.7 329.2,265.7 329.7,265.7 330.2,265.8 330.7,265.8 331.2,265.8 331.7,265.8 332.2,265.8 332.7,265.8 333.2,265.8 333.7,265.8 334.2,265.9 334.7,265.9 335.2,265.9 335.7,265.9 336.2,265.9 336.7,265.9 337.2,265.9 337.7,265.9 338.2,266.0 338.7,266.0 339.2,266.0 339.7,266.0 340.2,266.0 340.7,266.0 341.2,266.0 341.7,266.0 342.2,266.1 342.7,266.1 343.2,266.1 343.7,266.1 344.2,266.1 344.7,266.1 345.2,266.1 345.7,266.1 346.2,266.1 346.7,266.2 347.2,266.2 347.7,266.2 348.2,266.2 348.7,266.2 349.2,266.2 349.7,266.2 350.2,266.2 350.7,266.3 351.2,266.3 351.7,266.3 352.2,266.3 352.7,266.3 353.2,266.3 353.7,266.3 354.2,266.3 354.7,266.4 355.2,266.4 355.7,266.4 356.2,266.4 356.7,266.4 357.2,266.4 357.7,266.4 358.2,266.4 358.7,266.5 359.2,266.5 359.7,266.5 360.2,266.5 360.7,266.5 361.2,266.5 361.7,266.5 362.2,266.5 362.7,266.5 363.2,266.6 363.7,266.6 364.2,266.6 364.7,266.6 365.2,266.6 365.7,266.6 366.2,266.6 366.7,266.6 367.2,266.7 367.7,266.7 368.2,266.7 368.7,266.7 369.2,266.7 369.7,266.7 370.2,266.7 370.7,266.7 371.2,266.8 371.7,266.8 372.2,266.8 372.7,266.8" fill="none" stroke="#ff9944" stroke-width="1.15" stroke-linejoin="round"/>
</g>
<rect x="205.60" y="154.60" width="167.60" height="123.70" fill="none" stroke="#111" stroke-width="1.2"/>
<line x1="220.60" y1="278.30" x2="220.60" y2="281.60" stroke="#1a1a1a" stroke-width="1"/>
<text x="220.60" y="290.00" font-size="8.20" font-weight="normal" text-anchor="middle" fill="#111"  stroke="#111" stroke-width="0.4">290</text>
<line x1="251.00" y1="278.30" x2="251.00" y2="281.60" stroke="#1a1a1a" stroke-width="1"/>
<text x="251.00" y="290.00" font-size="8.20" font-weight="normal" text-anchor="middle" fill="#111"  stroke="#111" stroke-width="0.4">288</text>
<line x1="281.40" y1="278.30" x2="281.40" y2="281.60" stroke="#1a1a1a" stroke-width="1"/>
<text x="281.40" y="290.00" font-size="8.20" font-weight="normal" text-anchor="middle" fill="#111"  stroke="#111" stroke-width="0.4">286</text>
<line x1="311.80" y1="278.30" x2="311.80" y2="281.60" stroke="#1a1a1a" stroke-width="1"/>
<text x="311.80" y="290.00" font-size="8.20" font-weight="normal" text-anchor="middle" fill="#111"  stroke="#111" stroke-width="0.4">284</text>
<line x1="342.20" y1="278.30" x2="342.20" y2="281.60" stroke="#1a1a1a" stroke-width="1"/>
<text x="342.20" y="290.00" font-size="8.20" font-weight="normal" text-anchor="middle" fill="#111"  stroke="#111" stroke-width="0.4">282</text>
<line x1="372.60" y1="278.30" x2="372.60" y2="281.60" stroke="#1a1a1a" stroke-width="1"/>
<text x="372.60" y="290.00" font-size="8.20" font-weight="normal" text-anchor="middle" fill="#111"  stroke="#111" stroke-width="0.4">280</text>
<line x1="235.80" y1="278.30" x2="235.80" y2="280.40" stroke="#1a1a1a" stroke-width="1"/>
<line x1="266.20" y1="278.30" x2="266.20" y2="280.40" stroke="#1a1a1a" stroke-width="1"/>
<line x1="296.60" y1="278.30" x2="296.60" y2="280.40" stroke="#1a1a1a" stroke-width="1"/>
<line x1="327.00" y1="278.30" x2="327.00" y2="280.40" stroke="#1a1a1a" stroke-width="1"/>
<line x1="357.40" y1="278.30" x2="357.40" y2="280.40" stroke="#1a1a1a" stroke-width="1"/>
<text x="190.50" y="171.80" font-size="18.50" font-weight="bold" text-anchor="start" fill="#000" >e</text>
<line x1="206.80" y1="162.60" x2="220.20" y2="162.60" stroke="#000000" stroke-width="1.15"/>
<text x="222.40" y="165.00" font-size="7.30" font-weight="bold" text-anchor="start" fill="#111" textLength="13.21" lengthAdjust="spacingAndGlyphs" >sum</text>
<line x1="206.80" y1="172.60" x2="220.20" y2="172.60" stroke="#ff3030" stroke-width="1.15"/>
<text x="222.40" y="175.00" font-size="7.30" font-weight="bold" text-anchor="start" fill="#111" textLength="36.30" lengthAdjust="spacingAndGlyphs" >background</text>
<line x1="206.80" y1="183.00" x2="220.20" y2="183.00" stroke="#2a2aff" stroke-width="1.15"/>
<text x="222.40" y="185.40" font-size="7.30" font-weight="bold" text-anchor="start" fill="#111" textLength="12.37" lengthAdjust="spacingAndGlyphs" >Ti-C</text>
<line x1="206.80" y1="193.30" x2="220.20" y2="193.30" stroke="#ff33ff" stroke-width="1.15"/>
<text x="222.40" y="195.70" font-size="7.30" font-weight="bold" text-anchor="start" fill="#111" textLength="11.42" lengthAdjust="spacingAndGlyphs" >C-C</text>
<line x1="206.80" y1="203.40" x2="220.20" y2="203.40" stroke="#33ee33" stroke-width="1.15"/>
<text x="222.40" y="205.80" font-size="7.30" font-weight="bold" text-anchor="start" fill="#111" textLength="11.77" lengthAdjust="spacingAndGlyphs" >C-O</text>
<line x1="206.80" y1="213.30" x2="220.20" y2="213.30" stroke="#ff9944" stroke-width="1.15"/>
<text x="222.40" y="215.70" font-size="7.30" font-weight="bold" text-anchor="start" fill="#111" textLength="10.70" lengthAdjust="spacingAndGlyphs" >C-F</text>
<text x="317.00" y="166.30" font-size="8.60" font-weight="bold" fill="#111" textLength="55.00" lengthAdjust="spacingAndGlyphs">Ti<tspan font-size="70%" dy="1.2">3</tspan><tspan dy="-1.2">C</tspan><tspan font-size="70%" dy="1.2">2</tspan><tspan dy="-1.2">T</tspan><tspan font-size="70%" dy="1.2">x</tspan><tspan dy="-1.2">(O)-C 1s</tspan></text>
<text x="0" y="0" font-size="8.20" font-weight="bold" fill="#111" text-anchor="middle" textLength="47.00" lengthAdjust="spacingAndGlyphs" transform="translate(199.30,210.50) rotate(-90)">Intensity/a.u.</text>
<text x="289.20" y="300.00" font-size="8.90" font-weight="normal" text-anchor="middle" fill="#111" textLength="74.00" lengthAdjust="spacingAndGlyphs"  stroke="#111" stroke-width="0.4">Binding Energy/eV</text>
<g clip-path="url(#clipf)">
<polyline points="395.2,266.5 395.7,266.5 396.2,266.5 396.7,266.5 397.2,266.5 397.7,266.5 398.2,266.5 398.7,266.5 399.2,266.5 399.7,266.5 400.2,266.5 400.7,266.5 401.2,266.5 401.7,266.5 402.2,266.5 402.7,266.5 403.2,266.5 403.7,266.5 404.2,266.5 404.7,266.5 405.2,266.5 405.7,266.5 406.2,266.5 406.7,266.5 407.2,266.5 407.7,266.5 408.2,266.5 408.7,266.5 409.2,266.5 409.7,266.5 410.2,266.5 410.7,266.5 411.2,266.5 411.7,266.5 412.2,266.5 412.7,266.5 413.2,266.5 413.7,266.5 414.2,266.4 414.7,266.4 415.2,266.4 415.7,266.4 416.2,266.4 416.7,266.4 417.2,266.3 417.7,266.3 418.2,266.3 418.7,266.2 419.2,266.2 419.7,266.1 420.2,266.1 420.7,266.0 421.2,266.0 421.7,265.9 422.2,265.8 422.7,265.7 423.2,265.6 423.7,265.5 424.2,265.4 424.7,265.3 425.2,265.2 425.7,265.0 426.2,264.9 426.7,264.7 427.2,264.5 427.7,264.3 428.2,264.1 428.7,263.9 429.2,263.7 429.7,263.5 430.2,263.2 430.7,262.9 431.2,262.7 431.7,262.4 432.2,262.1 432.7,261.8 433.2,261.5 433.7,261.2 434.2,260.8 434.7,260.5 435.2,260.2 435.7,259.9 436.2,259.5 436.7,259.2 437.2,258.9 437.7,258.5 438.2,258.2 438.7,257.9 439.2,257.6 439.7,257.3 440.2,256.9 440.7,256.7 441.2,256.4 441.7,256.1 442.2,255.8 442.7,255.5 443.2,255.3 443.7,255.0 444.2,254.8 444.7,254.6 445.2,254.3 445.7,254.1 446.2,253.9 446.7,253.6 447.2,253.4 447.7,253.2 448.2,252.9 448.7,252.7 449.2,252.4 449.7,252.2 450.2,251.9 450.7,251.7 451.2,251.4 451.7,251.1 452.2,250.8 452.7,250.5 453.2,250.1 453.7,249.8 454.2,249.4 454.7,249.0 455.2,248.7 455.7,248.3 456.2,247.8 456.7,247.4 457.2,247.0 457.7,246.5 458.2,246.1 458.7,245.6 459.2,245.1 459.7,244.6 460.2,244.1 460.7,243.6 461.2,243.1 461.7,242.6 462.2,242.1 462.7,241.6 463.2,241.1 463.7,240.6 464.2,240.0 464.7,239.5 465.2,239.0 465.7,238.5 466.2,238.0 466.7,237.5 467.2,237.1 467.7,236.6 468.2,236.1 468.7,235.6 469.2,235.2 469.7,234.7 470.2,234.3 470.7,233.8 471.2,233.4 471.7,233.0 472.2,232.6 472.7,232.1 473.2,231.7 473.7,231.3 474.2,230.9 474.7,230.5 475.2,230.0 475.7,229.6 476.2,229.2 476.7,228.7 477.2,228.3 477.7,227.8 478.2,227.3 478.7,226.9 479.2,226.4 479.7,225.8 480.2,225.3 480.7,224.7 481.2,224.1 481.7,223.5 482.2,222.8 482.7,222.2 483.2,221.5 483.7,220.7 484.2,220.0 484.7,219.2 485.2,218.3 485.7,217.5 486.2,216.6 486.7,215.6 487.2,214.7 487.7,213.6 488.2,212.6 488.7,211.5 489.2,210.4 489.7,209.2 490.2,208.0 490.7,206.8 491.2,205.6 491.7,204.3 492.2,203.0 492.7,201.7 493.2,200.3 493.7,198.9 494.2,197.6 494.7,196.2 495.2,194.8 495.7,193.4 496.2,192.0 496.7,190.7 497.2,189.3 497.7,188.0 498.2,186.7 498.7,185.5 499.2,184.3 499.7,183.1 500.2,182.0 500.7,181.0 501.2,180.1 501.7,179.2 502.2,178.4 502.7,177.7 503.2,177.1 503.7,176.7 504.2,176.3 504.7,176.0 505.2,175.8 505.7,175.8 506.2,175.9 506.7,176.1 507.2,176.4 507.7,176.9 508.2,177.5 508.7,178.2 509.2,179.0 509.7,179.9 510.2,180.9 510.7,182.0 511.2,183.2 511.7,184.6 512.2,186.0 512.7,187.4 513.2,189.0 513.7,190.7 514.2,192.4 514.7,194.2 515.2,196.0 515.7,197.9 516.2,199.9 516.7,201.9 517.2,203.9 517.7,206.0 518.2,208.1 518.7,210.2 519.2,212.4 519.7,214.5 520.2,216.6 520.7,218.7 521.2,220.9 521.7,223.0 522.2,225.0 522.7,227.1 523.2,229.1 523.7,231.1 524.2,233.0 524.7,235.0 525.2,236.8 525.7,238.6 526.2,240.4 526.7,242.1 527.2,243.8 527.7,245.4 528.2,246.9 528.7,248.4 529.2,249.8 529.7,251.2 530.2,252.5 530.7,253.7 531.2,254.9 531.7,256.1 532.2,257.1 532.7,258.2 533.2,259.1 533.7,260.0 534.2,260.9 534.7,261.7 535.2,262.5 535.7,263.2 536.2,263.8 536.7,264.5 537.2,265.1 537.7,265.6 538.2,266.1 538.7,266.6 539.2,267.0 539.7,267.4 540.2,267.8 540.7,268.1 541.2,268.5 541.7,268.8 542.2,269.0 542.7,269.3 543.2,269.5 543.7,269.7 544.2,269.9 544.7,270.1 545.2,270.3 545.7,270.4 546.2,270.6 546.7,270.7 547.2,270.8 547.7,270.9 548.2,271.0 548.7,271.1 549.2,271.2 549.7,271.3 550.2,271.4 550.7,271.4 551.2,271.5 551.7,271.5 552.2,271.6 552.7,271.6 553.2,271.7 553.7,271.7 554.2,271.8 554.7,271.8 555.2,271.8 555.7,271.9 556.2,271.9 556.7,271.9 557.2,272.0 557.7,272.0 558.2,272.0 558.7,272.1 559.2,272.1 559.7,272.1 560.2,272.1 560.7,272.2 561.2,272.2 561.7,272.2 562.2,272.2 562.7,272.3" fill="none" stroke="#000000" stroke-width="1.20" stroke-linejoin="round"/>
<polyline points="395.2,266.5 395.7,266.5 396.2,266.5 396.7,266.5 397.2,266.5 397.7,266.5 398.2,266.5 398.7,266.5 399.2,266.5 399.7,266.5 400.2,266.5 400.7,266.5 401.2,266.5 401.7,266.5 402.2,266.5 402.7,266.5 403.2,266.5 403.7,266.5 404.2,266.5 404.7,266.5 405.2,266.5 405.7,266.5 406.2,266.6 406.7,266.6 407.2,266.6 407.7,266.6 408.2,266.6 408.7,266.6 409.2,266.6 409.7,266.6 410.2,266.6 410.7,266.6 411.2,266.6 411.7,266.6 412.2,266.6 412.7,266.6 413.2,266.6 413.7,266.6 414.2,266.6 414.7,266.6 415.2,266.6 415.7,266.7 416.2,266.7 416.7,266.7 417.2,266.7 417.7,266.7 418.2,266.7 418.7,266.7 419.2,266.7 419.7,266.7 420.2,266.7 420.7,266.7 421.2,266.7 421.7,266.7 422.2,266.7 422.7,266.8 423.2,266.8 423.7,266.8 424.2,266.8 424.7,266.8 425.2,266.8 425.7,266.8 426.2,266.8 426.7,266.8 427.2,266.8 427.7,266.8 428.2,266.9 428.7,266.9 429.2,266.9 429.7,266.9 430.2,266.9 430.7,266.9 431.2,266.9 431.7,266.9 432.2,266.9 432.7,266.9 433.2,266.9 433.7,267.0 434.2,267.0 434.7,267.0 435.2,267.0 435.7,267.0 436.2,267.0 436.7,267.0 437.2,267.0 437.7,267.0 438.2,267.0 438.7,267.1 439.2,267.1 439.7,267.1 440.2,267.1 440.7,267.1 441.2,267.1 441.7,267.1 442.2,267.1 442.7,267.1 443.2,267.2 443.7,267.2 444.2,267.2 444.7,267.2 445.2,267.2 445.7,267.2 446.2,267.2 446.7,267.2 447.2,267.2 447.7,267.2 448.2,267.3 448.7,267.3 449.2,267.3 449.7,267.3 450.2,267.3 450.7,267.3 451.2,267.3 451.7,267.3 452.2,267.4 452.7,267.4 453.2,267.4 453.7,267.4 454.2,267.4 454.7,267.4 455.2,267.4 455.7,267.5 456.2,267.5 456.7,267.5 457.2,267.5 457.7,267.5 458.2,267.5 458.7,267.6 459.2,267.6 459.7,267.6 460.2,267.6 460.7,267.6 461.2,267.6 461.7,267.7 462.2,267.7 462.7,267.7 463.2,267.7 463.7,267.7 464.2,267.8 464.7,267.8 465.2,267.8 465.7,267.8 466.2,267.8 466.7,267.9 467.2,267.9 467.7,267.9 468.2,267.9 468.7,268.0 469.2,268.0 469.7,268.0 470.2,268.0 470.7,268.1 471.2,268.1 471.7,268.1 472.2,268.1 472.7,268.1 473.2,268.2 473.7,268.2 474.2,268.2 474.7,268.2 475.2,268.3 475.7,268.3 476.2,268.3 476.7,268.3 477.2,268.4 477.7,268.4 478.2,268.4 478.7,268.4 479.2,268.5 479.7,268.5 480.2,268.5 480.7,268.5 481.2,268.6 481.7,268.6 482.2,268.6 482.7,268.7 483.2,268.7 483.7,268.7 484.2,268.7 484.7,268.8 485.2,268.8 485.7,268.8 486.2,268.8 486.7,268.9 487.2,268.9 487.7,268.9 488.2,268.9 488.7,269.0 489.2,269.0 489.7,269.0 490.2,269.0 490.7,269.1 491.2,269.1 491.7,269.1 492.2,269.1 492.7,269.2 493.2,269.2 493.7,269.2 494.2,269.2 494.7,269.3 495.2,269.3 495.7,269.3 496.2,269.3 496.7,269.3 497.2,269.4 497.7,269.4 498.2,269.4 498.7,269.4 499.2,269.5 499.7,269.5 500.2,269.5 500.7,269.5 501.2,269.6 501.7,269.6 502.2,269.6 502.7,269.6 503.2,269.6 503.7,269.7 504.2,269.7 504.7,269.7 505.2,269.7 505.7,269.8 506.2,269.8 506.7,269.8 507.2,269.8 507.7,269.8 508.2,269.9 508.7,269.9 509.2,269.9 509.7,269.9 510.2,270.0 510.7,270.0 511.2,270.0 511.7,270.0 512.2,270.0 512.7,270.1 513.2,270.1 513.7,270.1 514.2,270.1 514.7,270.1 515.2,270.2 515.7,270.2 516.2,270.2 516.7,270.2 517.2,270.3 517.7,270.3 518.2,270.3 518.7,270.3 519.2,270.3 519.7,270.4 520.2,270.4 520.7,270.4 521.2,270.4 521.7,270.5 522.2,270.5 522.7,270.5 523.2,270.5 523.7,270.5 524.2,270.6 524.7,270.6 525.2,270.6 525.7,270.6 526.2,270.7 526.7,270.7 527.2,270.7 527.7,270.7 528.2,270.7 528.7,270.8 529.2,270.8 529.7,270.8 530.2,270.8 530.7,270.9 531.2,270.9 531.7,270.9 532.2,270.9 532.7,270.9 533.2,271.0 533.7,271.0 534.2,271.0 534.7,271.0 535.2,271.1 535.7,271.1 536.2,271.1 536.7,271.1 537.2,271.1 537.7,271.2 538.2,271.2 538.7,271.2 539.2,271.2 539.7,271.3 540.2,271.3 540.7,271.3 541.2,271.3 541.7,271.3 542.2,271.4 542.7,271.4 543.2,271.4 543.7,271.4 544.2,271.5 544.7,271.5 545.2,271.5 545.7,271.5 546.2,271.5 546.7,271.6 547.2,271.6 547.7,271.6 548.2,271.6 548.7,271.7 549.2,271.7 549.7,271.7 550.2,271.7 550.7,271.7 551.2,271.8 551.7,271.8 552.2,271.8 552.7,271.8 553.2,271.9 553.7,271.9 554.2,271.9 554.7,271.9 555.2,271.9 555.7,272.0 556.2,272.0 556.7,272.0 557.2,272.0 557.7,272.1 558.2,272.1 558.7,272.1 559.2,272.1 559.7,272.1 560.2,272.2 560.7,272.2 561.2,272.2 561.7,272.2 562.2,272.3 562.7,272.3" fill="none" stroke="#ff3030" stroke-width="1.10" stroke-linejoin="round"/>
<polyline points="395.2,266.5 395.7,266.5 396.2,266.5 396.7,266.5 397.2,266.5 397.7,266.5 398.2,266.5 398.7,266.5 399.2,266.5 399.7,266.5 400.2,266.5 400.7,266.5 401.2,266.5 401.7,266.5 402.2,266.5 402.7,266.5 403.2,266.5 403.7,266.5 404.2,266.5 404.7,266.5 405.2,266.5 405.7,266.5 406.2,266.6 406.7,266.6 407.2,266.6 407.7,266.6 408.2,266.6 408.7,266.6 409.2,266.6 409.7,266.6 410.2,266.6 410.7,266.6 411.2,266.6 411.7,266.6 412.2,266.6 412.7,266.6 413.2,266.6 413.7,266.6 414.2,266.6 414.7,266.6 415.2,266.6 415.7,266.7 416.2,266.7 416.7,266.7 417.2,266.7 417.7,266.7 418.2,266.7 418.7,266.7 419.2,266.7 419.7,266.7 420.2,266.7 420.7,266.7 421.2,266.7 421.7,266.7 422.2,266.7 422.7,266.8 423.2,266.8 423.7,266.8 424.2,266.8 424.7,266.8 425.2,266.8 425.7,266.8 426.2,266.8 426.7,266.8 427.2,266.8 427.7,266.8 428.2,266.9 428.7,266.9 429.2,266.9 429.7,266.9 430.2,266.9 430.7,266.9 431.2,266.9 431.7,266.9 432.2,266.9 432.7,266.9 433.2,266.9 433.7,267.0 434.2,267.0 434.7,267.0 435.2,267.0 435.7,267.0 436.2,267.0 436.7,267.0 437.2,267.0 437.7,267.0 438.2,267.0 438.7,267.1 439.2,267.1 439.7,267.1 440.2,267.1 440.7,267.1 441.2,267.1 441.7,267.1 442.2,267.1 442.7,267.1 443.2,267.2 443.7,267.2 444.2,267.2 444.7,267.2 445.2,267.2 445.7,267.2 446.2,267.2 446.7,267.2 447.2,267.2 447.7,267.2 448.2,267.3 448.7,267.3 449.2,267.3 449.7,267.3 450.2,267.3 450.7,267.3 451.2,267.3 451.7,267.3 452.2,267.4 452.7,267.4 453.2,267.4 453.7,267.4 454.2,267.4 454.7,267.4 455.2,267.4 455.7,267.4 456.2,267.5 456.7,267.5 457.2,267.5 457.7,267.5 458.2,267.5 458.7,267.5 459.2,267.6 459.7,267.6 460.2,267.6 460.7,267.6 461.2,267.6 461.7,267.6 462.2,267.6 462.7,267.6 463.2,267.7 463.7,267.7 464.2,267.7 464.7,267.7 465.2,267.7 465.7,267.7 466.2,267.7 466.7,267.7 467.2,267.7 467.7,267.7 468.2,267.7 468.7,267.6 469.2,267.6 469.7,267.6 470.2,267.5 470.7,267.5 471.2,267.4 471.7,267.4 472.2,267.3 472.7,267.2 473.2,267.1 473.7,267.0 474.2,266.9 474.7,266.7 475.2,266.6 475.7,266.4 476.2,266.2 476.7,265.9 477.2,265.7 477.7,265.4 478.2,265.1 478.7,264.7 479.2,264.4 479.7,264.0 480.2,263.5 480.7,263.0 481.2,262.5 481.7,261.9 482.2,261.3 482.7,260.6 483.2,259.9 483.7,259.2 484.2,258.3 484.7,257.5 485.2,256.5 485.7,255.5 486.2,254.5 486.7,253.4 487.2,252.2 487.7,251.0 488.2,249.7 488.7,248.3 489.2,246.9 489.7,245.5 490.2,243.9 490.7,242.3 491.2,240.7 491.7,239.0 492.2,237.3 492.7,235.5 493.2,233.7 493.7,231.8 494.2,230.0 494.7,228.1 495.2,226.1 495.7,224.2 496.2,222.3 496.7,220.3 497.2,218.4 497.7,216.5 498.2,214.6 498.7,212.7 499.2,210.9 499.7,209.1 500.2,207.4 500.7,205.8 501.2,204.2 501.7,202.7 502.2,201.2 502.7,199.9 503.2,198.7 503.7,197.5 504.2,196.5 504.7,195.6 505.2,194.8 505.7,194.2 506.2,193.7 506.7,193.3 507.2,193.0 507.7,192.9 508.2,192.9 508.7,193.0 509.2,193.2 509.7,193.6 510.2,194.1 510.7,194.7 511.2,195.4 511.7,196.2 512.2,197.1 512.7,198.1 513.2,199.2 513.7,200.4 514.2,201.7 514.7,203.1 515.2,204.5 515.7,206.0 516.2,207.6 516.7,209.3 517.2,210.9 517.7,212.7 518.2,214.4 518.7,216.2 519.2,218.0 519.7,219.9 520.2,221.7 520.7,223.6 521.2,225.4 521.7,227.3 522.2,229.1 522.7,230.9 523.2,232.7 523.7,234.5 524.2,236.3 524.7,238.0 525.2,239.7 525.7,241.3 526.2,242.9 526.7,244.5 527.2,246.0 527.7,247.4 528.2,248.8 528.7,250.2 529.2,251.5 529.7,252.8 530.2,254.0 530.7,255.1 531.2,256.2 531.7,257.3 532.2,258.2 532.7,259.2 533.2,260.1 533.7,260.9 534.2,261.7 534.7,262.5 535.2,263.2 535.7,263.8 536.2,264.5 536.7,265.0 537.2,265.6 537.7,266.1 538.2,266.6 538.7,267.0 539.2,267.4 539.7,267.8 540.2,268.1 540.7,268.4 541.2,268.7 541.7,269.0 542.2,269.3 542.7,269.5 543.2,269.7 543.7,269.9 544.2,270.1 544.7,270.3 545.2,270.4 545.7,270.6 546.2,270.7 546.7,270.8 547.2,270.9 547.7,271.0 548.2,271.1 548.7,271.2 549.2,271.3 549.7,271.3 550.2,271.4 550.7,271.5 551.2,271.5 551.7,271.6 552.2,271.6 552.7,271.7 553.2,271.7 553.7,271.8 554.2,271.8 554.7,271.8 555.2,271.9 555.7,271.9 556.2,271.9 556.7,272.0 557.2,272.0 557.7,272.0 558.2,272.0 558.7,272.1 559.2,272.1 559.7,272.1 560.2,272.1 560.7,272.2 561.2,272.2 561.7,272.2 562.2,272.2 562.7,272.3" fill="none" stroke="#2a2aff" stroke-width="1.15" stroke-linejoin="round"/>
<polyline points="395.2,266.5 395.7,266.5 396.2,266.5 396.7,266.5 397.2,266.5 397.7,266.5 398.2,266.5 398.7,266.5 399.2,266.5 399.7,266.5 400.2,266.5 400.7,266.5 401.2,266.5 401.7,266.5 402.2,266.5 402.7,266.5 403.2,266.5 403.7,266.5 404.2,266.5 404.7,266.5 405.2,266.5 405.7,266.5 406.2,266.5 406.7,266.5 407.2,266.5 407.7,266.5 408.2,266.5 408.7,266.5 409.2,266.5 409.7,266.5 410.2,266.5 410.7,266.5 411.2,266.5 411.7,266.5 412.2,266.5 412.7,266.5 413.2,266.5 413.7,266.5 414.2,266.5 414.7,266.5 415.2,266.5 415.7,266.4 416.2,266.4 416.7,266.4 417.2,266.4 417.7,266.4 418.2,266.4 418.7,266.4 419.2,266.3 419.7,266.3 420.2,266.3 420.7,266.3 421.2,266.3 421.7,266.2 422.2,266.2 422.7,266.2 423.2,266.1 423.7,266.1 424.2,266.0 424.7,266.0 425.2,265.9 425.7,265.9 426.2,265.8 426.7,265.8 427.2,265.7 427.7,265.7 428.2,265.6 428.7,265.5 429.2,265.4 429.7,265.3 430.2,265.3 430.7,265.2 431.2,265.1 431.7,265.0 432.2,264.8 432.7,264.7 433.2,264.6 433.7,264.5 434.2,264.3 434.7,264.2 435.2,264.0 435.7,263.9 436.2,263.7 436.7,263.5 437.2,263.3 437.7,263.2 438.2,263.0 438.7,262.7 439.2,262.5 439.7,262.3 440.2,262.1 440.7,261.8 441.2,261.6 441.7,261.3 442.2,261.0 442.7,260.7 443.2,260.4 443.7,260.1 444.2,259.8 444.7,259.5 445.2,259.1 445.7,258.8 446.2,258.4 446.7,258.0 447.2,257.6 447.7,257.2 448.2,256.8 448.7,256.4 449.2,256.0 449.7,255.6 450.2,255.1 450.7,254.6 451.2,254.2 451.7,253.7 452.2,253.2 452.7,252.7 453.2,252.2 453.7,251.7 454.2,251.2 454.7,250.6 455.2,250.1 455.7,249.5 456.2,249.0 456.7,248.4 457.2,247.8 457.7,247.3 458.2,246.7 458.7,246.1 459.2,245.5 459.7,244.9 460.2,244.3 460.7,243.8 461.2,243.2 461.7,242.6 462.2,242.0 462.7,241.4 463.2,240.8 463.7,240.2 464.2,239.6 464.7,239.0 465.2,238.5 465.7,237.9 466.2,237.3 466.7,236.8 467.2,236.2 467.7,235.7 468.2,235.2 468.7,234.7 469.2,234.2 469.7,233.7 470.2,233.2 470.7,232.7 471.2,232.3 471.7,231.8 472.2,231.4 472.7,231.0 473.2,230.6 473.7,230.3 474.2,229.9 474.7,229.6 475.2,229.3 475.7,229.0 476.2,228.8 476.7,228.5 477.2,228.3 477.7,228.1 478.2,227.9 478.7,227.8 479.2,227.7 479.7,227.6 480.2,227.5 480.7,227.4 481.2,227.4 481.7,227.4 482.2,227.4 482.7,227.5 483.2,227.6 483.7,227.7 484.2,227.8 484.7,228.0 485.2,228.2 485.7,228.4 486.2,228.7 486.7,228.9 487.2,229.2 487.7,229.6 488.2,229.9 488.7,230.3 489.2,230.7 489.7,231.2 490.2,231.6 490.7,232.1 491.2,232.6 491.7,233.1 492.2,233.6 492.7,234.2 493.2,234.8 493.7,235.3 494.2,235.9 494.7,236.6 495.2,237.2 495.7,237.8 496.2,238.5 496.7,239.1 497.2,239.8 497.7,240.5 498.2,241.1 498.7,241.8 499.2,242.5 499.7,243.2 500.2,243.9 500.7,244.6 501.2,245.3 501.7,245.9 502.2,246.6 502.7,247.3 503.2,248.0 503.7,248.7 504.2,249.3 504.7,250.0 505.2,250.7 505.7,251.3 506.2,252.0 506.7,252.6 507.2,253.2 507.7,253.8 508.2,254.4 508.7,255.0 509.2,255.6 509.7,256.2 510.2,256.8 510.7,257.3 511.2,257.8 511.7,258.4 512.2,258.9 512.7,259.4 513.2,259.9 513.7,260.3 514.2,260.8 514.7,261.2 515.2,261.7 515.7,262.1 516.2,262.5 516.7,262.9 517.2,263.3 517.7,263.6 518.2,264.0 518.7,264.3 519.2,264.7 519.7,265.0 520.2,265.3 520.7,265.6 521.2,265.9 521.7,266.1 522.2,266.4 522.7,266.7 523.2,266.9 523.7,267.1 524.2,267.4 524.7,267.6 525.2,267.8 525.7,268.0 526.2,268.1 526.7,268.3 527.2,268.5 527.7,268.7 528.2,268.8 528.7,269.0 529.2,269.1 529.7,269.2 530.2,269.4 530.7,269.5 531.2,269.6 531.7,269.7 532.2,269.8 532.7,269.9 533.2,270.0 533.7,270.1 534.2,270.2 534.7,270.3 535.2,270.3 535.7,270.4 536.2,270.5 536.7,270.6 537.2,270.6 537.7,270.7 538.2,270.7 538.7,270.8 539.2,270.9 539.7,270.9 540.2,271.0 540.7,271.0 541.2,271.1 541.7,271.1 542.2,271.1 542.7,271.2 543.2,271.2 543.7,271.3 544.2,271.3 544.7,271.3 545.2,271.4 545.7,271.4 546.2,271.4 546.7,271.5 547.2,271.5 547.7,271.5 548.2,271.6 548.7,271.6 549.2,271.6 549.7,271.6 550.2,271.7 550.7,271.7 551.2,271.7 551.7,271.7 552.2,271.8 552.7,271.8 553.2,271.8 553.7,271.9 554.2,271.9 554.7,271.9 555.2,271.9 555.7,271.9 556.2,272.0 556.7,272.0 557.2,272.0 557.7,272.0 558.2,272.1 558.7,272.1 559.2,272.1 559.7,272.1 560.2,272.2 560.7,272.2 561.2,272.2 561.7,272.2 562.2,272.3 562.7,272.3" fill="none" stroke="#ff33ff" stroke-width="1.15" stroke-linejoin="round"/>
<polyline points="395.2,266.5 395.7,266.5 396.2,266.5 396.7,266.5 397.2,266.5 397.7,266.5 398.2,266.5 398.7,266.5 399.2,266.5 399.7,266.5 400.2,266.5 400.7,266.5 401.2,266.5 401.7,266.5 402.2,266.5 402.7,266.5 403.2,266.5 403.7,266.5 404.2,266.5 404.7,266.5 405.2,266.5 405.7,266.5 406.2,266.5 406.7,266.6 407.2,266.6 407.7,266.6 408.2,266.6 408.7,266.6 409.2,266.6 409.7,266.6 410.2,266.6 410.7,266.6 411.2,266.6 411.7,266.6 412.2,266.6 412.7,266.6 413.2,266.6 413.7,266.6 414.2,266.6 414.7,266.6 415.2,266.6 415.7,266.6 416.2,266.6 416.7,266.6 417.2,266.6 417.7,266.6 418.2,266.6 418.7,266.6 419.2,266.6 419.7,266.5 420.2,266.5 420.7,266.5 421.2,266.5 421.7,266.4 422.2,266.4 422.7,266.3 423.2,266.3 423.7,266.2 424.2,266.2 424.7,266.1 425.2,266.0 425.7,265.9 426.2,265.9 426.7,265.8 427.2,265.6 427.7,265.5 428.2,265.4 428.7,265.3 429.2,265.1 429.7,265.0 430.2,264.8 430.7,264.7 431.2,264.5 431.7,264.4 432.2,264.2 432.7,264.0 433.2,263.8 433.7,263.7 434.2,263.5 434.7,263.3 435.2,263.1 435.7,263.0 436.2,262.8 436.7,262.7 437.2,262.5 437.7,262.4 438.2,262.3 438.7,262.2 439.2,262.1 439.7,262.0 440.2,262.0 440.7,261.9 441.2,261.9 441.7,261.9 442.2,261.9 442.7,262.0 443.2,262.0 443.7,262.1 444.2,262.2 444.7,262.3 445.2,262.4 445.7,262.5 446.2,262.7 446.7,262.8 447.2,263.0 447.7,263.2 448.2,263.3 448.7,263.5 449.2,263.7 449.7,263.9 450.2,264.1 450.7,264.3 451.2,264.5 451.7,264.7 452.2,264.9 452.7,265.1 453.2,265.3 453.7,265.4 454.2,265.6 454.7,265.8 455.2,265.9 455.7,266.1 456.2,266.2 456.7,266.4 457.2,266.5 457.7,266.6 458.2,266.7 458.7,266.8 459.2,266.9 459.7,267.0 460.2,267.1 460.7,267.2 461.2,267.3 461.7,267.3 462.2,267.4 462.7,267.5 463.2,267.5 463.7,267.6 464.2,267.6 464.7,267.6 465.2,267.7 465.7,267.7 466.2,267.8 466.7,267.8 467.2,267.8 467.7,267.9 468.2,267.9 468.7,267.9 469.2,268.0 469.7,268.0 470.2,268.0 470.7,268.0 471.2,268.1 471.7,268.1 472.2,268.1 472.7,268.1 473.2,268.2 473.7,268.2 474.2,268.2 474.7,268.2 475.2,268.3 475.7,268.3 476.2,268.3 476.7,268.3 477.2,268.4 477.7,268.4 478.2,268.4 478.7,268.4 479.2,268.5 479.7,268.5 480.2,268.5 480.7,268.5 481.2,268.6 481.7,268.6 482.2,268.6 482.7,268.7 483.2,268.7 483.7,268.7 484.2,268.7 484.7,268.8 485.2,268.8 485.7,268.8 486.2,268.8 486.7,268.9 487.2,268.9 487.7,268.9 488.2,268.9 488.7,269.0 489.2,269.0 489.7,269.0 490.2,269.0 490.7,269.1 491.2,269.1 491.7,269.1 492.2,269.1 492.7,269.2 493.2,269.2 493.7,269.2 494.2,269.2 494.7,269.3 495.2,269.3 495.7,269.3 496.2,269.3 496.7,269.3 497.2,269.4 497.7,269.4 498.2,269.4 498.7,269.4 499.2,269.5 499.7,269.5 500.2,269.5 500.7,269.5 501.2,269.6 501.7,269.6 502.2,269.6 502.7,269.6 503.2,269.6 503.7,269.7 504.2,269.7 504.7,269.7 505.2,269.7 505.7,269.8 506.2,269.8 506.7,269.8 507.2,269.8 507.7,269.8 508.2,269.9 508.7,269.9 509.2,269.9 509.7,269.9 510.2,270.0 510.7,270.0 511.2,270.0 511.7,270.0 512.2,270.0 512.7,270.1 513.2,270.1 513.7,270.1 514.2,270.1 514.7,270.1 515.2,270.2 515.7,270.2 516.2,270.2 516.7,270.2 517.2,270.3 517.7,270.3 518.2,270.3 518.7,270.3 519.2,270.3 519.7,270.4 520.2,270.4 520.7,270.4 521.2,270.4 521.7,270.5 522.2,270.5 522.7,270.5 523.2,270.5 523.7,270.5 524.2,270.6 524.7,270.6 525.2,270.6 525.7,270.6 526.2,270.7 526.7,270.7 527.2,270.7 527.7,270.7 528.2,270.7 528.7,270.8 529.2,270.8 529.7,270.8 530.2,270.8 530.7,270.9 531.2,270.9 531.7,270.9 532.2,270.9 532.7,270.9 533.2,271.0 533.7,271.0 534.2,271.0 534.7,271.0 535.2,271.1 535.7,271.1 536.2,271.1 536.7,271.1 537.2,271.1 537.7,271.2 538.2,271.2 538.7,271.2 539.2,271.2 539.7,271.3 540.2,271.3 540.7,271.3 541.2,271.3 541.7,271.3 542.2,271.4 542.7,271.4 543.2,271.4 543.7,271.4 544.2,271.5 544.7,271.5 545.2,271.5 545.7,271.5 546.2,271.5 546.7,271.6 547.2,271.6 547.7,271.6 548.2,271.6 548.7,271.7 549.2,271.7 549.7,271.7 550.2,271.7 550.7,271.7 551.2,271.8 551.7,271.8 552.2,271.8 552.7,271.8 553.2,271.9 553.7,271.9 554.2,271.9 554.7,271.9 555.2,271.9 555.7,272.0 556.2,272.0 556.7,272.0 557.2,272.0 557.7,272.1 558.2,272.1 558.7,272.1 559.2,272.1 559.7,272.1 560.2,272.2 560.7,272.2 561.2,272.2 561.7,272.2 562.2,272.3 562.7,272.3" fill="none" stroke="#33ee33" stroke-width="1.15" stroke-linejoin="round"/>
</g>
<rect x="394.60" y="153.40" width="168.80" height="123.90" fill="none" stroke="#111" stroke-width="1.2"/>
<line x1="394.00" y1="277.30" x2="394.00" y2="280.60" stroke="#1a1a1a" stroke-width="1"/>
<text x="394.00" y="289.60" font-size="8.20" font-weight="normal" text-anchor="middle" fill="#111"  stroke="#111" stroke-width="0.4">536</text>
<line x1="431.60" y1="277.30" x2="431.60" y2="280.60" stroke="#1a1a1a" stroke-width="1"/>
<text x="431.60" y="289.60" font-size="8.20" font-weight="normal" text-anchor="middle" fill="#111"  stroke="#111" stroke-width="0.4">534</text>
<line x1="469.20" y1="277.30" x2="469.20" y2="280.60" stroke="#1a1a1a" stroke-width="1"/>
<text x="469.20" y="289.60" font-size="8.20" font-weight="normal" text-anchor="middle" fill="#111"  stroke="#111" stroke-width="0.4">532</text>
<line x1="506.80" y1="277.30" x2="506.80" y2="280.60" stroke="#1a1a1a" stroke-width="1"/>
<text x="506.80" y="289.60" font-size="8.20" font-weight="normal" text-anchor="middle" fill="#111"  stroke="#111" stroke-width="0.4">530</text>
<line x1="544.40" y1="277.30" x2="544.40" y2="280.60" stroke="#1a1a1a" stroke-width="1"/>
<text x="544.40" y="289.60" font-size="8.20" font-weight="normal" text-anchor="middle" fill="#111"  stroke="#111" stroke-width="0.4">528</text>
<line x1="412.80" y1="277.30" x2="412.80" y2="279.40" stroke="#1a1a1a" stroke-width="1"/>
<line x1="450.40" y1="277.30" x2="450.40" y2="279.40" stroke="#1a1a1a" stroke-width="1"/>
<line x1="488.00" y1="277.30" x2="488.00" y2="279.40" stroke="#1a1a1a" stroke-width="1"/>
<line x1="525.60" y1="277.30" x2="525.60" y2="279.40" stroke="#1a1a1a" stroke-width="1"/>
<line x1="562.26" y1="277.30" x2="562.26" y2="279.40" stroke="#1a1a1a" stroke-width="1"/>
<text x="381.00" y="171.30" font-size="18.50" font-weight="bold" text-anchor="start" fill="#000" >f</text>
<line x1="395.90" y1="161.50" x2="409.60" y2="161.50" stroke="#000000" stroke-width="1.15"/>
<text x="411.40" y="163.90" font-size="7.30" font-weight="bold" text-anchor="start" fill="#111" textLength="13.21" lengthAdjust="spacingAndGlyphs" >sum</text>
<line x1="395.90" y1="171.70" x2="409.60" y2="171.70" stroke="#ff3030" stroke-width="1.15"/>
<text x="411.40" y="174.10" font-size="7.30" font-weight="bold" text-anchor="start" fill="#111" textLength="37.00" lengthAdjust="spacingAndGlyphs" >background</text>
<line x1="395.90" y1="182.10" x2="409.60" y2="182.10" stroke="#2a2aff" stroke-width="1.15"/>
<text x="411.40" y="184.50" font-size="7.30" font-weight="bold" text-anchor="start" fill="#111" textLength="19.51" lengthAdjust="spacingAndGlyphs" >Ti-O-H</text>
<line x1="395.90" y1="192.30" x2="409.60" y2="192.30" stroke="#ff33ff" stroke-width="1.15"/>
<text x="411.40" y="194.70" font-size="7.30" font-weight="bold" text-anchor="start" fill="#111" textLength="12.73" lengthAdjust="spacingAndGlyphs" >Ti-O</text>
<line x1="395.90" y1="202.40" x2="409.60" y2="202.40" stroke="#33ee33" stroke-width="1.15"/>
<text x="411.40" y="204.80" font-size="7.30" font-weight="bold" text-anchor="start" fill="#111" textLength="13.21" lengthAdjust="spacingAndGlyphs" >H<tspan font-size="70%" dy="1">2</tspan><tspan dy="-1">O</tspan></text>
<text x="503.40" y="164.90" font-size="8.60" font-weight="bold" fill="#111" textLength="57.40" lengthAdjust="spacingAndGlyphs">Ti<tspan font-size="70%" dy="1.2">3</tspan><tspan dy="-1.2">C</tspan><tspan font-size="70%" dy="1.2">2</tspan><tspan dy="-1.2">T</tspan><tspan font-size="70%" dy="1.2">x</tspan><tspan dy="-1.2">(O)-O 1s</tspan></text>
<text x="0" y="0" font-size="8.40" font-weight="bold" fill="#111" text-anchor="middle" textLength="49.00" lengthAdjust="spacingAndGlyphs" transform="translate(391.00,210.00) rotate(-90)">Intensity/a.u.</text>
<text x="478.30" y="299.80" font-size="8.90" font-weight="normal" text-anchor="middle" fill="#111" textLength="74.40" lengthAdjust="spacingAndGlyphs"  stroke="#111" stroke-width="0.4">Binding Energy/eV</text>
</svg>
</body></html>
